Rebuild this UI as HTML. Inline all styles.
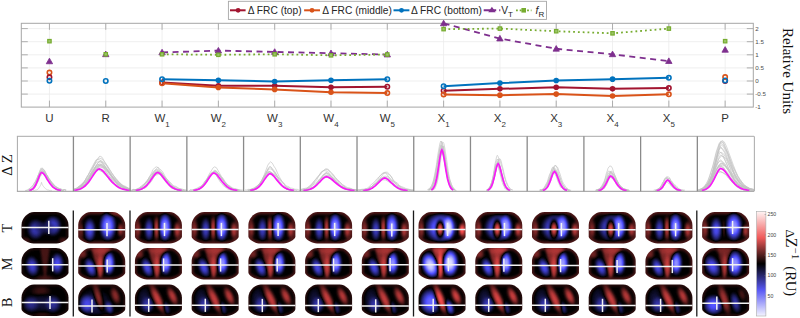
<!DOCTYPE html>
<html><head><meta charset="utf-8"><title>figure</title>
<style>html,body{margin:0;padding:0;background:#fff;overflow:hidden;}svg{display:block;}</style>
</head><body><svg width="800" height="318" viewBox="0 0 800 318"><defs><filter id="cmap" x="-10%" y="-10%" width="120%" height="120%" color-interpolation-filters="sRGB"><feGaussianBlur stdDeviation="1.1"/><feComponentTransfer><feFuncR type="table" tableValues="0.94 0.31 0 1 1"/><feFuncG type="table" tableValues="0.94 0.31 0 0.31 0.94"/><feFuncB type="table" tableValues="1 1 0 0.31 0.94"/></feComponentTransfer></filter><filter id="pbl" x="-30%" y="-30%" width="160%" height="160%"><feGaussianBlur stdDeviation="2.2"/></filter><clipPath id="bclip0"><rect x="16.70" y="136.3" width="56.72" height="55.00"/></clipPath><clipPath id="bclip1"><rect x="73.42" y="136.3" width="56.72" height="55.00"/></clipPath><clipPath id="bclip2"><rect x="130.14" y="136.3" width="56.72" height="55.00"/></clipPath><clipPath id="bclip3"><rect x="186.86" y="136.3" width="56.72" height="55.00"/></clipPath><clipPath id="bclip4"><rect x="243.58" y="136.3" width="56.72" height="55.00"/></clipPath><clipPath id="bclip5"><rect x="300.30" y="136.3" width="56.72" height="55.00"/></clipPath><clipPath id="bclip6"><rect x="357.02" y="136.3" width="56.72" height="55.00"/></clipPath><clipPath id="bclip7"><rect x="413.74" y="136.3" width="56.72" height="55.00"/></clipPath><clipPath id="bclip8"><rect x="470.46" y="136.3" width="56.72" height="55.00"/></clipPath><clipPath id="bclip9"><rect x="527.18" y="136.3" width="56.72" height="55.00"/></clipPath><clipPath id="bclip10"><rect x="583.90" y="136.3" width="56.72" height="55.00"/></clipPath><clipPath id="bclip11"><rect x="640.62" y="136.3" width="56.72" height="55.00"/></clipPath><clipPath id="bclip12"><rect x="697.34" y="136.3" width="56.72" height="55.00"/></clipPath><clipPath id="hc0_0"><path d="M34.00,212.10 L56.00,212.10 C62.25,212.10 68.50,218.60 68.50,225.10 L68.50,236.50 C68.50,239.44 61.54,243.50 56.50,243.50 L33.50,243.50 C28.46,243.50 21.50,239.44 21.50,236.50 L21.50,225.10 C21.50,218.60 27.75,212.10 34.00,212.10 Z"/></clipPath><radialGradient id="rg80"><stop offset="0" stop-color="#505050" stop-opacity="1"/><stop offset="0.35" stop-color="#505050" stop-opacity="0.88"/><stop offset="0.7" stop-color="#505050" stop-opacity="0.45"/><stop offset="1" stop-color="#505050" stop-opacity="0"/></radialGradient><radialGradient id="rg70"><stop offset="0" stop-color="#464646" stop-opacity="1"/><stop offset="0.35" stop-color="#464646" stop-opacity="0.88"/><stop offset="0.7" stop-color="#464646" stop-opacity="0.45"/><stop offset="1" stop-color="#464646" stop-opacity="0"/></radialGradient><radialGradient id="rg105"><stop offset="0" stop-color="#696969" stop-opacity="1"/><stop offset="0.35" stop-color="#696969" stop-opacity="0.88"/><stop offset="0.7" stop-color="#696969" stop-opacity="0.45"/><stop offset="1" stop-color="#696969" stop-opacity="0"/></radialGradient><radialGradient id="rg146"><stop offset="0" stop-color="#929292" stop-opacity="1"/><stop offset="0.35" stop-color="#929292" stop-opacity="0.88"/><stop offset="0.7" stop-color="#929292" stop-opacity="0.45"/><stop offset="1" stop-color="#929292" stop-opacity="0"/></radialGradient><radialGradient id="rg143"><stop offset="0" stop-color="#8f8f8f" stop-opacity="1"/><stop offset="0.35" stop-color="#8f8f8f" stop-opacity="0.88"/><stop offset="0.7" stop-color="#8f8f8f" stop-opacity="0.45"/><stop offset="1" stop-color="#8f8f8f" stop-opacity="0"/></radialGradient><clipPath id="hc1_0"><path d="M90.72,212.10 L112.72,212.10 C118.97,212.10 125.22,218.60 125.22,225.10 L125.22,236.50 C125.22,239.44 118.26,243.50 113.22,243.50 L90.22,243.50 C85.18,243.50 78.22,239.44 78.22,236.50 L78.22,225.10 C78.22,218.60 84.47,212.10 90.72,212.10 Z"/></clipPath><radialGradient id="rg152"><stop offset="0" stop-color="#989898" stop-opacity="1"/><stop offset="0.35" stop-color="#989898" stop-opacity="0.88"/><stop offset="0.7" stop-color="#989898" stop-opacity="0.45"/><stop offset="1" stop-color="#989898" stop-opacity="0"/></radialGradient><radialGradient id="rg67"><stop offset="0" stop-color="#434343" stop-opacity="1"/><stop offset="0.35" stop-color="#434343" stop-opacity="0.88"/><stop offset="0.7" stop-color="#434343" stop-opacity="0.45"/><stop offset="1" stop-color="#434343" stop-opacity="0"/></radialGradient><radialGradient id="rg38"><stop offset="0" stop-color="#262626" stop-opacity="1"/><stop offset="0.35" stop-color="#262626" stop-opacity="0.88"/><stop offset="0.7" stop-color="#262626" stop-opacity="0.45"/><stop offset="1" stop-color="#262626" stop-opacity="0"/></radialGradient><radialGradient id="rg170"><stop offset="0" stop-color="#aaaaaa" stop-opacity="1"/><stop offset="0.35" stop-color="#aaaaaa" stop-opacity="0.88"/><stop offset="0.7" stop-color="#aaaaaa" stop-opacity="0.45"/><stop offset="1" stop-color="#aaaaaa" stop-opacity="0"/></radialGradient><radialGradient id="rg158"><stop offset="0" stop-color="#9e9e9e" stop-opacity="1"/><stop offset="0.35" stop-color="#9e9e9e" stop-opacity="0.88"/><stop offset="0.7" stop-color="#9e9e9e" stop-opacity="0.45"/><stop offset="1" stop-color="#9e9e9e" stop-opacity="0"/></radialGradient><clipPath id="hc2_0"><path d="M147.44,212.10 L169.44,212.10 C175.69,212.10 181.94,218.60 181.94,225.10 L181.94,236.50 C181.94,239.44 174.98,243.50 169.94,243.50 L146.94,243.50 C141.90,243.50 134.94,239.44 134.94,236.50 L134.94,225.10 C134.94,218.60 141.19,212.10 147.44,212.10 Z"/></clipPath><radialGradient id="rg164"><stop offset="0" stop-color="#a4a4a4" stop-opacity="1"/><stop offset="0.35" stop-color="#a4a4a4" stop-opacity="0.88"/><stop offset="0.7" stop-color="#a4a4a4" stop-opacity="0.45"/><stop offset="1" stop-color="#a4a4a4" stop-opacity="0"/></radialGradient><radialGradient id="rg77"><stop offset="0" stop-color="#4d4d4d" stop-opacity="1"/><stop offset="0.35" stop-color="#4d4d4d" stop-opacity="0.88"/><stop offset="0.7" stop-color="#4d4d4d" stop-opacity="0.45"/><stop offset="1" stop-color="#4d4d4d" stop-opacity="0"/></radialGradient><radialGradient id="rg32"><stop offset="0" stop-color="#202020" stop-opacity="1"/><stop offset="0.35" stop-color="#202020" stop-opacity="0.88"/><stop offset="0.7" stop-color="#202020" stop-opacity="0.45"/><stop offset="1" stop-color="#202020" stop-opacity="0"/></radialGradient><radialGradient id="rg180"><stop offset="0" stop-color="#b4b4b4" stop-opacity="1"/><stop offset="0.35" stop-color="#b4b4b4" stop-opacity="0.88"/><stop offset="0.7" stop-color="#b4b4b4" stop-opacity="0.45"/><stop offset="1" stop-color="#b4b4b4" stop-opacity="0"/></radialGradient><radialGradient id="rg176"><stop offset="0" stop-color="#b0b0b0" stop-opacity="1"/><stop offset="0.35" stop-color="#b0b0b0" stop-opacity="0.88"/><stop offset="0.7" stop-color="#b0b0b0" stop-opacity="0.45"/><stop offset="1" stop-color="#b0b0b0" stop-opacity="0"/></radialGradient><clipPath id="hc3_0"><path d="M204.16,212.10 L226.16,212.10 C232.41,212.10 238.66,218.60 238.66,225.10 L238.66,236.50 C238.66,239.44 231.70,243.50 226.66,243.50 L203.66,243.50 C198.62,243.50 191.66,239.44 191.66,236.50 L191.66,225.10 C191.66,218.60 197.91,212.10 204.16,212.10 Z"/></clipPath><clipPath id="hc4_0"><path d="M260.88,212.10 L282.88,212.10 C289.13,212.10 295.38,218.60 295.38,225.10 L295.38,236.50 C295.38,239.44 288.42,243.50 283.38,243.50 L260.38,243.50 C255.34,243.50 248.38,239.44 248.38,236.50 L248.38,225.10 C248.38,218.60 254.63,212.10 260.88,212.10 Z"/></clipPath><clipPath id="hc5_0"><path d="M317.60,212.10 L339.60,212.10 C345.85,212.10 352.10,218.60 352.10,225.10 L352.10,236.50 C352.10,239.44 345.14,243.50 340.10,243.50 L317.10,243.50 C312.06,243.50 305.10,239.44 305.10,236.50 L305.10,225.10 C305.10,218.60 311.35,212.10 317.60,212.10 Z"/></clipPath><clipPath id="hc6_0"><path d="M374.32,212.10 L396.32,212.10 C402.57,212.10 408.82,218.60 408.82,225.10 L408.82,236.50 C408.82,239.44 401.86,243.50 396.82,243.50 L373.82,243.50 C368.78,243.50 361.82,239.44 361.82,236.50 L361.82,225.10 C361.82,218.60 368.07,212.10 374.32,212.10 Z"/></clipPath><clipPath id="hc7_0"><path d="M431.04,212.10 L453.04,212.10 C459.29,212.10 465.54,218.60 465.54,225.10 L465.54,236.50 C465.54,239.44 458.58,243.50 453.54,243.50 L430.54,243.50 C425.50,243.50 418.54,239.44 418.54,236.50 L418.54,225.10 C418.54,218.60 424.79,212.10 431.04,212.10 Z"/></clipPath><radialGradient id="rg0"><stop offset="0" stop-color="#000000" stop-opacity="1"/><stop offset="0.35" stop-color="#000000" stop-opacity="0.88"/><stop offset="0.7" stop-color="#000000" stop-opacity="0.45"/><stop offset="1" stop-color="#000000" stop-opacity="0"/></radialGradient><radialGradient id="rg195"><stop offset="0" stop-color="#c3c3c3" stop-opacity="1"/><stop offset="0.35" stop-color="#c3c3c3" stop-opacity="0.88"/><stop offset="0.7" stop-color="#c3c3c3" stop-opacity="0.45"/><stop offset="1" stop-color="#c3c3c3" stop-opacity="0"/></radialGradient><radialGradient id="rg201"><stop offset="0" stop-color="#c9c9c9" stop-opacity="1"/><stop offset="0.35" stop-color="#c9c9c9" stop-opacity="0.88"/><stop offset="0.7" stop-color="#c9c9c9" stop-opacity="0.45"/><stop offset="1" stop-color="#c9c9c9" stop-opacity="0"/></radialGradient><clipPath id="hc8_0"><path d="M487.76,212.10 L509.76,212.10 C516.01,212.10 522.26,218.60 522.26,225.10 L522.26,236.50 C522.26,239.44 515.30,243.50 510.26,243.50 L487.26,243.50 C482.22,243.50 475.26,239.44 475.26,236.50 L475.26,225.10 C475.26,218.60 481.51,212.10 487.76,212.10 Z"/></clipPath><radialGradient id="rg168"><stop offset="0" stop-color="#a8a8a8" stop-opacity="1"/><stop offset="0.35" stop-color="#a8a8a8" stop-opacity="0.88"/><stop offset="0.7" stop-color="#a8a8a8" stop-opacity="0.45"/><stop offset="1" stop-color="#a8a8a8" stop-opacity="0"/></radialGradient><radialGradient id="rg50"><stop offset="0" stop-color="#323232" stop-opacity="1"/><stop offset="0.35" stop-color="#323232" stop-opacity="0.88"/><stop offset="0.7" stop-color="#323232" stop-opacity="0.45"/><stop offset="1" stop-color="#323232" stop-opacity="0"/></radialGradient><radialGradient id="rg26"><stop offset="0" stop-color="#1a1a1a" stop-opacity="1"/><stop offset="0.35" stop-color="#1a1a1a" stop-opacity="0.88"/><stop offset="0.7" stop-color="#1a1a1a" stop-opacity="0.45"/><stop offset="1" stop-color="#1a1a1a" stop-opacity="0"/></radialGradient><radialGradient id="rg181"><stop offset="0" stop-color="#b5b5b5" stop-opacity="1"/><stop offset="0.35" stop-color="#b5b5b5" stop-opacity="0.88"/><stop offset="0.7" stop-color="#b5b5b5" stop-opacity="0.45"/><stop offset="1" stop-color="#b5b5b5" stop-opacity="0"/></radialGradient><clipPath id="hc9_0"><path d="M544.48,212.10 L566.48,212.10 C572.73,212.10 578.98,218.60 578.98,225.10 L578.98,236.50 C578.98,239.44 572.02,243.50 566.98,243.50 L543.98,243.50 C538.94,243.50 531.98,239.44 531.98,236.50 L531.98,225.10 C531.98,218.60 538.23,212.10 544.48,212.10 Z"/></clipPath><radialGradient id="rg166"><stop offset="0" stop-color="#a6a6a6" stop-opacity="1"/><stop offset="0.35" stop-color="#a6a6a6" stop-opacity="0.88"/><stop offset="0.7" stop-color="#a6a6a6" stop-opacity="0.45"/><stop offset="1" stop-color="#a6a6a6" stop-opacity="0"/></radialGradient><radialGradient id="rg54"><stop offset="0" stop-color="#363636" stop-opacity="1"/><stop offset="0.35" stop-color="#363636" stop-opacity="0.88"/><stop offset="0.7" stop-color="#363636" stop-opacity="0.45"/><stop offset="1" stop-color="#363636" stop-opacity="0"/></radialGradient><radialGradient id="rg30"><stop offset="0" stop-color="#1e1e1e" stop-opacity="1"/><stop offset="0.35" stop-color="#1e1e1e" stop-opacity="0.88"/><stop offset="0.7" stop-color="#1e1e1e" stop-opacity="0.45"/><stop offset="1" stop-color="#1e1e1e" stop-opacity="0"/></radialGradient><radialGradient id="rg192"><stop offset="0" stop-color="#c0c0c0" stop-opacity="1"/><stop offset="0.35" stop-color="#c0c0c0" stop-opacity="0.88"/><stop offset="0.7" stop-color="#c0c0c0" stop-opacity="0.45"/><stop offset="1" stop-color="#c0c0c0" stop-opacity="0"/></radialGradient><radialGradient id="rg179"><stop offset="0" stop-color="#b3b3b3" stop-opacity="1"/><stop offset="0.35" stop-color="#b3b3b3" stop-opacity="0.88"/><stop offset="0.7" stop-color="#b3b3b3" stop-opacity="0.45"/><stop offset="1" stop-color="#b3b3b3" stop-opacity="0"/></radialGradient><clipPath id="hc10_0"><path d="M601.20,212.10 L623.20,212.10 C629.45,212.10 635.70,218.60 635.70,225.10 L635.70,236.50 C635.70,239.44 628.74,243.50 623.70,243.50 L600.70,243.50 C595.66,243.50 588.70,239.44 588.70,236.50 L588.70,225.10 C588.70,218.60 594.95,212.10 601.20,212.10 Z"/></clipPath><radialGradient id="rg57"><stop offset="0" stop-color="#393939" stop-opacity="1"/><stop offset="0.35" stop-color="#393939" stop-opacity="0.88"/><stop offset="0.7" stop-color="#393939" stop-opacity="0.45"/><stop offset="1" stop-color="#393939" stop-opacity="0"/></radialGradient><radialGradient id="rg35"><stop offset="0" stop-color="#232323" stop-opacity="1"/><stop offset="0.35" stop-color="#232323" stop-opacity="0.88"/><stop offset="0.7" stop-color="#232323" stop-opacity="0.45"/><stop offset="1" stop-color="#232323" stop-opacity="0"/></radialGradient><radialGradient id="rg189"><stop offset="0" stop-color="#bdbdbd" stop-opacity="1"/><stop offset="0.35" stop-color="#bdbdbd" stop-opacity="0.88"/><stop offset="0.7" stop-color="#bdbdbd" stop-opacity="0.45"/><stop offset="1" stop-color="#bdbdbd" stop-opacity="0"/></radialGradient><clipPath id="hc11_0"><path d="M657.92,212.10 L679.92,212.10 C686.17,212.10 692.42,218.60 692.42,225.10 L692.42,236.50 C692.42,239.44 685.46,243.50 680.42,243.50 L657.42,243.50 C652.38,243.50 645.42,239.44 645.42,236.50 L645.42,225.10 C645.42,218.60 651.67,212.10 657.92,212.10 Z"/></clipPath><clipPath id="hc12_0"><path d="M714.64,212.10 L736.64,212.10 C742.89,212.10 749.14,218.60 749.14,225.10 L749.14,236.50 C749.14,239.44 742.18,243.50 737.14,243.50 L714.14,243.50 C709.10,243.50 702.14,239.44 702.14,236.50 L702.14,225.10 C702.14,218.60 708.39,212.10 714.64,212.10 Z"/></clipPath><radialGradient id="rg64"><stop offset="0" stop-color="#404040" stop-opacity="1"/><stop offset="0.35" stop-color="#404040" stop-opacity="0.88"/><stop offset="0.7" stop-color="#404040" stop-opacity="0.45"/><stop offset="1" stop-color="#404040" stop-opacity="0"/></radialGradient><radialGradient id="rg173"><stop offset="0" stop-color="#adadad" stop-opacity="1"/><stop offset="0.35" stop-color="#adadad" stop-opacity="0.88"/><stop offset="0.7" stop-color="#adadad" stop-opacity="0.45"/><stop offset="1" stop-color="#adadad" stop-opacity="0"/></radialGradient><clipPath id="hc0_1"><path d="M34.00,248.00 L56.00,248.00 C62.25,248.00 68.50,254.50 68.50,261.00 L68.50,272.40 C68.50,275.34 61.54,279.40 56.50,279.40 L33.50,279.40 C28.46,279.40 21.50,275.34 21.50,272.40 L21.50,261.00 C21.50,254.50 27.75,248.00 34.00,248.00 Z"/></clipPath><radialGradient id="rg73"><stop offset="0" stop-color="#494949" stop-opacity="1"/><stop offset="0.35" stop-color="#494949" stop-opacity="0.88"/><stop offset="0.7" stop-color="#494949" stop-opacity="0.45"/><stop offset="1" stop-color="#494949" stop-opacity="0"/></radialGradient><clipPath id="hc1_1"><path d="M90.72,248.00 L112.72,248.00 C118.97,248.00 125.22,254.50 125.22,261.00 L125.22,272.40 C125.22,275.34 118.26,279.40 113.22,279.40 L90.22,279.40 C85.18,279.40 78.22,275.34 78.22,272.40 L78.22,261.00 C78.22,254.50 84.47,248.00 90.72,248.00 Z"/></clipPath><clipPath id="hc2_1"><path d="M147.44,248.00 L169.44,248.00 C175.69,248.00 181.94,254.50 181.94,261.00 L181.94,272.40 C181.94,275.34 174.98,279.40 169.94,279.40 L146.94,279.40 C141.90,279.40 134.94,275.34 134.94,272.40 L134.94,261.00 C134.94,254.50 141.19,248.00 147.44,248.00 Z"/></clipPath><clipPath id="hc3_1"><path d="M204.16,248.00 L226.16,248.00 C232.41,248.00 238.66,254.50 238.66,261.00 L238.66,272.40 C238.66,275.34 231.70,279.40 226.66,279.40 L203.66,279.40 C198.62,279.40 191.66,275.34 191.66,272.40 L191.66,261.00 C191.66,254.50 197.91,248.00 204.16,248.00 Z"/></clipPath><clipPath id="hc4_1"><path d="M260.88,248.00 L282.88,248.00 C289.13,248.00 295.38,254.50 295.38,261.00 L295.38,272.40 C295.38,275.34 288.42,279.40 283.38,279.40 L260.38,279.40 C255.34,279.40 248.38,275.34 248.38,272.40 L248.38,261.00 C248.38,254.50 254.63,248.00 260.88,248.00 Z"/></clipPath><clipPath id="hc5_1"><path d="M317.60,248.00 L339.60,248.00 C345.85,248.00 352.10,254.50 352.10,261.00 L352.10,272.40 C352.10,275.34 345.14,279.40 340.10,279.40 L317.10,279.40 C312.06,279.40 305.10,275.34 305.10,272.40 L305.10,261.00 C305.10,254.50 311.35,248.00 317.60,248.00 Z"/></clipPath><clipPath id="hc6_1"><path d="M374.32,248.00 L396.32,248.00 C402.57,248.00 408.82,254.50 408.82,261.00 L408.82,272.40 C408.82,275.34 401.86,279.40 396.82,279.40 L373.82,279.40 C368.78,279.40 361.82,275.34 361.82,272.40 L361.82,261.00 C361.82,254.50 368.07,248.00 374.32,248.00 Z"/></clipPath><clipPath id="hc7_1"><path d="M431.04,248.00 L453.04,248.00 C459.29,248.00 465.54,254.50 465.54,261.00 L465.54,272.40 C465.54,275.34 458.58,279.40 453.54,279.40 L430.54,279.40 C425.50,279.40 418.54,275.34 418.54,272.40 L418.54,261.00 C418.54,254.50 424.79,248.00 431.04,248.00 Z"/></clipPath><radialGradient id="rg6"><stop offset="0" stop-color="#060606" stop-opacity="1"/><stop offset="0.35" stop-color="#060606" stop-opacity="0.88"/><stop offset="0.7" stop-color="#060606" stop-opacity="0.45"/><stop offset="1" stop-color="#060606" stop-opacity="0"/></radialGradient><clipPath id="hc8_1"><path d="M487.76,248.00 L509.76,248.00 C516.01,248.00 522.26,254.50 522.26,261.00 L522.26,272.40 C522.26,275.34 515.30,279.40 510.26,279.40 L487.26,279.40 C482.22,279.40 475.26,275.34 475.26,272.40 L475.26,261.00 C475.26,254.50 481.51,248.00 487.76,248.00 Z"/></clipPath><radialGradient id="rg175"><stop offset="0" stop-color="#afafaf" stop-opacity="1"/><stop offset="0.35" stop-color="#afafaf" stop-opacity="0.88"/><stop offset="0.7" stop-color="#afafaf" stop-opacity="0.45"/><stop offset="1" stop-color="#afafaf" stop-opacity="0"/></radialGradient><radialGradient id="rg161"><stop offset="0" stop-color="#a1a1a1" stop-opacity="1"/><stop offset="0.35" stop-color="#a1a1a1" stop-opacity="0.88"/><stop offset="0.7" stop-color="#a1a1a1" stop-opacity="0.45"/><stop offset="1" stop-color="#a1a1a1" stop-opacity="0"/></radialGradient><radialGradient id="rg61"><stop offset="0" stop-color="#3d3d3d" stop-opacity="1"/><stop offset="0.35" stop-color="#3d3d3d" stop-opacity="0.88"/><stop offset="0.7" stop-color="#3d3d3d" stop-opacity="0.45"/><stop offset="1" stop-color="#3d3d3d" stop-opacity="0"/></radialGradient><radialGradient id="rg22"><stop offset="0" stop-color="#161616" stop-opacity="1"/><stop offset="0.35" stop-color="#161616" stop-opacity="0.88"/><stop offset="0.7" stop-color="#161616" stop-opacity="0.45"/><stop offset="1" stop-color="#161616" stop-opacity="0"/></radialGradient><radialGradient id="rg185"><stop offset="0" stop-color="#b9b9b9" stop-opacity="1"/><stop offset="0.35" stop-color="#b9b9b9" stop-opacity="0.88"/><stop offset="0.7" stop-color="#b9b9b9" stop-opacity="0.45"/><stop offset="1" stop-color="#b9b9b9" stop-opacity="0"/></radialGradient><clipPath id="hc9_1"><path d="M544.48,248.00 L566.48,248.00 C572.73,248.00 578.98,254.50 578.98,261.00 L578.98,272.40 C578.98,275.34 572.02,279.40 566.98,279.40 L543.98,279.40 C538.94,279.40 531.98,275.34 531.98,272.40 L531.98,261.00 C531.98,254.50 538.23,248.00 544.48,248.00 Z"/></clipPath><radialGradient id="rg172"><stop offset="0" stop-color="#acacac" stop-opacity="1"/><stop offset="0.35" stop-color="#acacac" stop-opacity="0.88"/><stop offset="0.7" stop-color="#acacac" stop-opacity="0.45"/><stop offset="1" stop-color="#acacac" stop-opacity="0"/></radialGradient><radialGradient id="rg160"><stop offset="0" stop-color="#a0a0a0" stop-opacity="1"/><stop offset="0.35" stop-color="#a0a0a0" stop-opacity="0.88"/><stop offset="0.7" stop-color="#a0a0a0" stop-opacity="0.45"/><stop offset="1" stop-color="#a0a0a0" stop-opacity="0"/></radialGradient><radialGradient id="rg27"><stop offset="0" stop-color="#1b1b1b" stop-opacity="1"/><stop offset="0.35" stop-color="#1b1b1b" stop-opacity="0.88"/><stop offset="0.7" stop-color="#1b1b1b" stop-opacity="0.45"/><stop offset="1" stop-color="#1b1b1b" stop-opacity="0"/></radialGradient><radialGradient id="rg182"><stop offset="0" stop-color="#b6b6b6" stop-opacity="1"/><stop offset="0.35" stop-color="#b6b6b6" stop-opacity="0.88"/><stop offset="0.7" stop-color="#b6b6b6" stop-opacity="0.45"/><stop offset="1" stop-color="#b6b6b6" stop-opacity="0"/></radialGradient><clipPath id="hc10_1"><path d="M601.20,248.00 L623.20,248.00 C629.45,248.00 635.70,254.50 635.70,261.00 L635.70,272.40 C635.70,275.34 628.74,279.40 623.70,279.40 L600.70,279.40 C595.66,279.40 588.70,275.34 588.70,272.40 L588.70,261.00 C588.70,254.50 594.95,248.00 601.20,248.00 Z"/></clipPath><clipPath id="hc11_1"><path d="M657.92,248.00 L679.92,248.00 C686.17,248.00 692.42,254.50 692.42,261.00 L692.42,272.40 C692.42,275.34 685.46,279.40 680.42,279.40 L657.42,279.40 C652.38,279.40 645.42,275.34 645.42,272.40 L645.42,261.00 C645.42,254.50 651.67,248.00 657.92,248.00 Z"/></clipPath><clipPath id="hc12_1"><path d="M714.64,248.00 L736.64,248.00 C742.89,248.00 749.14,254.50 749.14,261.00 L749.14,272.40 C749.14,275.34 742.18,279.40 737.14,279.40 L714.14,279.40 C709.10,279.40 702.14,275.34 702.14,272.40 L702.14,261.00 C702.14,254.50 708.39,248.00 714.64,248.00 Z"/></clipPath><clipPath id="hc0_2"><path d="M34.00,284.50 L56.00,284.50 C62.25,284.50 68.50,291.00 68.50,297.50 L68.50,308.90 C68.50,311.84 61.54,315.90 56.50,315.90 L33.50,315.90 C28.46,315.90 21.50,311.84 21.50,308.90 L21.50,297.50 C21.50,291.00 27.75,284.50 34.00,284.50 Z"/></clipPath><radialGradient id="rg112"><stop offset="0" stop-color="#707070" stop-opacity="1"/><stop offset="0.35" stop-color="#707070" stop-opacity="0.88"/><stop offset="0.7" stop-color="#707070" stop-opacity="0.45"/><stop offset="1" stop-color="#707070" stop-opacity="0"/></radialGradient><radialGradient id="rg92"><stop offset="0" stop-color="#5c5c5c" stop-opacity="1"/><stop offset="0.35" stop-color="#5c5c5c" stop-opacity="0.88"/><stop offset="0.7" stop-color="#5c5c5c" stop-opacity="0.45"/><stop offset="1" stop-color="#5c5c5c" stop-opacity="0"/></radialGradient><radialGradient id="rg89"><stop offset="0" stop-color="#595959" stop-opacity="1"/><stop offset="0.35" stop-color="#595959" stop-opacity="0.88"/><stop offset="0.7" stop-color="#595959" stop-opacity="0.45"/><stop offset="1" stop-color="#595959" stop-opacity="0"/></radialGradient><radialGradient id="rg140"><stop offset="0" stop-color="#8c8c8c" stop-opacity="1"/><stop offset="0.35" stop-color="#8c8c8c" stop-opacity="0.88"/><stop offset="0.7" stop-color="#8c8c8c" stop-opacity="0.45"/><stop offset="1" stop-color="#8c8c8c" stop-opacity="0"/></radialGradient><clipPath id="hc1_2"><path d="M90.72,284.50 L112.72,284.50 C118.97,284.50 125.22,291.00 125.22,297.50 L125.22,308.90 C125.22,311.84 118.26,315.90 113.22,315.90 L90.22,315.90 C85.18,315.90 78.22,311.84 78.22,308.90 L78.22,297.50 C78.22,291.00 84.47,284.50 90.72,284.50 Z"/></clipPath><radialGradient id="rg108"><stop offset="0" stop-color="#6c6c6c" stop-opacity="1"/><stop offset="0.35" stop-color="#6c6c6c" stop-opacity="0.88"/><stop offset="0.7" stop-color="#6c6c6c" stop-opacity="0.45"/><stop offset="1" stop-color="#6c6c6c" stop-opacity="0"/></radialGradient><clipPath id="hc2_2"><path d="M147.44,284.50 L169.44,284.50 C175.69,284.50 181.94,291.00 181.94,297.50 L181.94,308.90 C181.94,311.84 174.98,315.90 169.94,315.90 L146.94,315.90 C141.90,315.90 134.94,311.84 134.94,308.90 L134.94,297.50 C134.94,291.00 141.19,284.50 147.44,284.50 Z"/></clipPath><radialGradient id="rg83"><stop offset="0" stop-color="#535353" stop-opacity="1"/><stop offset="0.35" stop-color="#535353" stop-opacity="0.88"/><stop offset="0.7" stop-color="#535353" stop-opacity="0.45"/><stop offset="1" stop-color="#535353" stop-opacity="0"/></radialGradient><radialGradient id="rg96"><stop offset="0" stop-color="#606060" stop-opacity="1"/><stop offset="0.35" stop-color="#606060" stop-opacity="0.88"/><stop offset="0.7" stop-color="#606060" stop-opacity="0.45"/><stop offset="1" stop-color="#606060" stop-opacity="0"/></radialGradient><clipPath id="hc3_2"><path d="M204.16,284.50 L226.16,284.50 C232.41,284.50 238.66,291.00 238.66,297.50 L238.66,308.90 C238.66,311.84 231.70,315.90 226.66,315.90 L203.66,315.90 C198.62,315.90 191.66,311.84 191.66,308.90 L191.66,297.50 C191.66,291.00 197.91,284.50 204.16,284.50 Z"/></clipPath><clipPath id="hc4_2"><path d="M260.88,284.50 L282.88,284.50 C289.13,284.50 295.38,291.00 295.38,297.50 L295.38,308.90 C295.38,311.84 288.42,315.90 283.38,315.90 L260.38,315.90 C255.34,315.90 248.38,311.84 248.38,308.90 L248.38,297.50 C248.38,291.00 254.63,284.50 260.88,284.50 Z"/></clipPath><clipPath id="hc5_2"><path d="M317.60,284.50 L339.60,284.50 C345.85,284.50 352.10,291.00 352.10,297.50 L352.10,308.90 C352.10,311.84 345.14,315.90 340.10,315.90 L317.10,315.90 C312.06,315.90 305.10,311.84 305.10,308.90 L305.10,297.50 C305.10,291.00 311.35,284.50 317.60,284.50 Z"/></clipPath><clipPath id="hc6_2"><path d="M374.32,284.50 L396.32,284.50 C402.57,284.50 408.82,291.00 408.82,297.50 L408.82,308.90 C408.82,311.84 401.86,315.90 396.82,315.90 L373.82,315.90 C368.78,315.90 361.82,311.84 361.82,308.90 L361.82,297.50 C361.82,291.00 368.07,284.50 374.32,284.50 Z"/></clipPath><clipPath id="hc7_2"><path d="M431.04,284.50 L453.04,284.50 C459.29,284.50 465.54,291.00 465.54,297.50 L465.54,308.90 C465.54,311.84 458.58,315.90 453.54,315.90 L430.54,315.90 C425.50,315.90 418.54,311.84 418.54,308.90 L418.54,297.50 C418.54,291.00 424.79,284.50 431.04,284.50 Z"/></clipPath><radialGradient id="rg51"><stop offset="0" stop-color="#333333" stop-opacity="1"/><stop offset="0.35" stop-color="#333333" stop-opacity="0.88"/><stop offset="0.7" stop-color="#333333" stop-opacity="0.45"/><stop offset="1" stop-color="#333333" stop-opacity="0"/></radialGradient><radialGradient id="rg183"><stop offset="0" stop-color="#b7b7b7" stop-opacity="1"/><stop offset="0.35" stop-color="#b7b7b7" stop-opacity="0.88"/><stop offset="0.7" stop-color="#b7b7b7" stop-opacity="0.45"/><stop offset="1" stop-color="#b7b7b7" stop-opacity="0"/></radialGradient><clipPath id="hc8_2"><path d="M487.76,284.50 L509.76,284.50 C516.01,284.50 522.26,291.00 522.26,297.50 L522.26,308.90 C522.26,311.84 515.30,315.90 510.26,315.90 L487.26,315.90 C482.22,315.90 475.26,311.84 475.26,308.90 L475.26,297.50 C475.26,291.00 481.51,284.50 487.76,284.50 Z"/></clipPath><radialGradient id="rg110"><stop offset="0" stop-color="#6e6e6e" stop-opacity="1"/><stop offset="0.35" stop-color="#6e6e6e" stop-opacity="0.88"/><stop offset="0.7" stop-color="#6e6e6e" stop-opacity="0.45"/><stop offset="1" stop-color="#6e6e6e" stop-opacity="0"/></radialGradient><radialGradient id="rg78"><stop offset="0" stop-color="#4e4e4e" stop-opacity="1"/><stop offset="0.35" stop-color="#4e4e4e" stop-opacity="0.88"/><stop offset="0.7" stop-color="#4e4e4e" stop-opacity="0.45"/><stop offset="1" stop-color="#4e4e4e" stop-opacity="0"/></radialGradient><clipPath id="hc9_2"><path d="M544.48,284.50 L566.48,284.50 C572.73,284.50 578.98,291.00 578.98,297.50 L578.98,308.90 C578.98,311.84 572.02,315.90 566.98,315.90 L543.98,315.90 C538.94,315.90 531.98,311.84 531.98,308.90 L531.98,297.50 C531.98,291.00 538.23,284.50 544.48,284.50 Z"/></clipPath><radialGradient id="rg111"><stop offset="0" stop-color="#6f6f6f" stop-opacity="1"/><stop offset="0.35" stop-color="#6f6f6f" stop-opacity="0.88"/><stop offset="0.7" stop-color="#6f6f6f" stop-opacity="0.45"/><stop offset="1" stop-color="#6f6f6f" stop-opacity="0"/></radialGradient><radialGradient id="rg81"><stop offset="0" stop-color="#515151" stop-opacity="1"/><stop offset="0.35" stop-color="#515151" stop-opacity="0.88"/><stop offset="0.7" stop-color="#515151" stop-opacity="0.45"/><stop offset="1" stop-color="#515151" stop-opacity="0"/></radialGradient><radialGradient id="rg94"><stop offset="0" stop-color="#5e5e5e" stop-opacity="1"/><stop offset="0.35" stop-color="#5e5e5e" stop-opacity="0.88"/><stop offset="0.7" stop-color="#5e5e5e" stop-opacity="0.45"/><stop offset="1" stop-color="#5e5e5e" stop-opacity="0"/></radialGradient><clipPath id="hc10_2"><path d="M601.20,284.50 L623.20,284.50 C629.45,284.50 635.70,291.00 635.70,297.50 L635.70,308.90 C635.70,311.84 628.74,315.90 623.70,315.90 L600.70,315.90 C595.66,315.90 588.70,311.84 588.70,308.90 L588.70,297.50 C588.70,291.00 594.95,284.50 601.20,284.50 Z"/></clipPath><clipPath id="hc11_2"><path d="M657.92,284.50 L679.92,284.50 C686.17,284.50 692.42,291.00 692.42,297.50 L692.42,308.90 C692.42,311.84 685.46,315.90 680.42,315.90 L657.42,315.90 C652.38,315.90 645.42,311.84 645.42,308.90 L645.42,297.50 C645.42,291.00 651.67,284.50 657.92,284.50 Z"/></clipPath><clipPath id="hc12_2"><path d="M714.64,284.50 L736.64,284.50 C742.89,284.50 749.14,291.00 749.14,297.50 L749.14,308.90 C749.14,311.84 742.18,315.90 737.14,315.90 L714.14,315.90 C709.10,315.90 702.14,311.84 702.14,308.90 L702.14,297.50 C702.14,291.00 708.39,284.50 714.64,284.50 Z"/></clipPath><linearGradient id="cbar" x1="0" y1="1" x2="0" y2="0"><stop offset="0" stop-color="#f4f4ff"/><stop offset="0.25" stop-color="#5858f4"/><stop offset="0.5" stop-color="#000000"/><stop offset="0.75" stop-color="#f05a5a"/><stop offset="1" stop-color="#fff4f4"/></linearGradient></defs><rect x="0" y="0" width="800" height="318" fill="#fff"/><line x1="21.3" y1="28.60" x2="753.3" y2="28.60" stroke="#ebebeb" stroke-width="0.8"/><line x1="21.3" y1="41.70" x2="753.3" y2="41.70" stroke="#ebebeb" stroke-width="0.8"/><line x1="21.3" y1="54.80" x2="753.3" y2="54.80" stroke="#ebebeb" stroke-width="0.8"/><line x1="21.3" y1="67.90" x2="753.3" y2="67.90" stroke="#ebebeb" stroke-width="0.8"/><line x1="21.3" y1="81.00" x2="753.3" y2="81.00" stroke="#ebebeb" stroke-width="0.8"/><line x1="21.3" y1="94.10" x2="753.3" y2="94.10" stroke="#ebebeb" stroke-width="0.8"/><line x1="49.45" y1="23.3" x2="49.45" y2="107.1" stroke="#ebebeb" stroke-width="0.8"/><line x1="105.76" y1="23.3" x2="105.76" y2="107.1" stroke="#ebebeb" stroke-width="0.8"/><line x1="162.07" y1="23.3" x2="162.07" y2="107.1" stroke="#ebebeb" stroke-width="0.8"/><line x1="218.38" y1="23.3" x2="218.38" y2="107.1" stroke="#ebebeb" stroke-width="0.8"/><line x1="274.68" y1="23.3" x2="274.68" y2="107.1" stroke="#ebebeb" stroke-width="0.8"/><line x1="330.99" y1="23.3" x2="330.99" y2="107.1" stroke="#ebebeb" stroke-width="0.8"/><line x1="387.30" y1="23.3" x2="387.30" y2="107.1" stroke="#ebebeb" stroke-width="0.8"/><line x1="443.61" y1="23.3" x2="443.61" y2="107.1" stroke="#ebebeb" stroke-width="0.8"/><line x1="499.92" y1="23.3" x2="499.92" y2="107.1" stroke="#ebebeb" stroke-width="0.8"/><line x1="556.22" y1="23.3" x2="556.22" y2="107.1" stroke="#ebebeb" stroke-width="0.8"/><line x1="612.53" y1="23.3" x2="612.53" y2="107.1" stroke="#ebebeb" stroke-width="0.8"/><line x1="668.84" y1="23.3" x2="668.84" y2="107.1" stroke="#ebebeb" stroke-width="0.8"/><line x1="725.15" y1="23.3" x2="725.15" y2="107.1" stroke="#ebebeb" stroke-width="0.8"/><line x1="21.3" y1="28.60" x2="27.8" y2="28.60" stroke="#a6a6a6" stroke-width="0.9"/><line x1="746.8" y1="28.60" x2="753.3" y2="28.60" stroke="#a6a6a6" stroke-width="0.9"/><line x1="21.3" y1="41.70" x2="27.8" y2="41.70" stroke="#a6a6a6" stroke-width="0.9"/><line x1="746.8" y1="41.70" x2="753.3" y2="41.70" stroke="#a6a6a6" stroke-width="0.9"/><line x1="21.3" y1="54.80" x2="27.8" y2="54.80" stroke="#a6a6a6" stroke-width="0.9"/><line x1="746.8" y1="54.80" x2="753.3" y2="54.80" stroke="#a6a6a6" stroke-width="0.9"/><line x1="21.3" y1="67.90" x2="27.8" y2="67.90" stroke="#a6a6a6" stroke-width="0.9"/><line x1="746.8" y1="67.90" x2="753.3" y2="67.90" stroke="#a6a6a6" stroke-width="0.9"/><line x1="21.3" y1="81.00" x2="27.8" y2="81.00" stroke="#a6a6a6" stroke-width="0.9"/><line x1="746.8" y1="81.00" x2="753.3" y2="81.00" stroke="#a6a6a6" stroke-width="0.9"/><line x1="21.3" y1="94.10" x2="27.8" y2="94.10" stroke="#a6a6a6" stroke-width="0.9"/><line x1="746.8" y1="94.10" x2="753.3" y2="94.10" stroke="#a6a6a6" stroke-width="0.9"/><line x1="49.45" y1="107.1" x2="49.45" y2="100.6" stroke="#a6a6a6" stroke-width="0.9"/><line x1="49.45" y1="23.3" x2="49.45" y2="29.8" stroke="#a6a6a6" stroke-width="0.9"/><line x1="105.76" y1="107.1" x2="105.76" y2="100.6" stroke="#a6a6a6" stroke-width="0.9"/><line x1="105.76" y1="23.3" x2="105.76" y2="29.8" stroke="#a6a6a6" stroke-width="0.9"/><line x1="162.07" y1="107.1" x2="162.07" y2="100.6" stroke="#a6a6a6" stroke-width="0.9"/><line x1="162.07" y1="23.3" x2="162.07" y2="29.8" stroke="#a6a6a6" stroke-width="0.9"/><line x1="218.38" y1="107.1" x2="218.38" y2="100.6" stroke="#a6a6a6" stroke-width="0.9"/><line x1="218.38" y1="23.3" x2="218.38" y2="29.8" stroke="#a6a6a6" stroke-width="0.9"/><line x1="274.68" y1="107.1" x2="274.68" y2="100.6" stroke="#a6a6a6" stroke-width="0.9"/><line x1="274.68" y1="23.3" x2="274.68" y2="29.8" stroke="#a6a6a6" stroke-width="0.9"/><line x1="330.99" y1="107.1" x2="330.99" y2="100.6" stroke="#a6a6a6" stroke-width="0.9"/><line x1="330.99" y1="23.3" x2="330.99" y2="29.8" stroke="#a6a6a6" stroke-width="0.9"/><line x1="387.30" y1="107.1" x2="387.30" y2="100.6" stroke="#a6a6a6" stroke-width="0.9"/><line x1="387.30" y1="23.3" x2="387.30" y2="29.8" stroke="#a6a6a6" stroke-width="0.9"/><line x1="443.61" y1="107.1" x2="443.61" y2="100.6" stroke="#a6a6a6" stroke-width="0.9"/><line x1="443.61" y1="23.3" x2="443.61" y2="29.8" stroke="#a6a6a6" stroke-width="0.9"/><line x1="499.92" y1="107.1" x2="499.92" y2="100.6" stroke="#a6a6a6" stroke-width="0.9"/><line x1="499.92" y1="23.3" x2="499.92" y2="29.8" stroke="#a6a6a6" stroke-width="0.9"/><line x1="556.22" y1="107.1" x2="556.22" y2="100.6" stroke="#a6a6a6" stroke-width="0.9"/><line x1="556.22" y1="23.3" x2="556.22" y2="29.8" stroke="#a6a6a6" stroke-width="0.9"/><line x1="612.53" y1="107.1" x2="612.53" y2="100.6" stroke="#a6a6a6" stroke-width="0.9"/><line x1="612.53" y1="23.3" x2="612.53" y2="29.8" stroke="#a6a6a6" stroke-width="0.9"/><line x1="668.84" y1="107.1" x2="668.84" y2="100.6" stroke="#a6a6a6" stroke-width="0.9"/><line x1="668.84" y1="23.3" x2="668.84" y2="29.8" stroke="#a6a6a6" stroke-width="0.9"/><line x1="725.15" y1="107.1" x2="725.15" y2="100.6" stroke="#a6a6a6" stroke-width="0.9"/><line x1="725.15" y1="23.3" x2="725.15" y2="29.8" stroke="#a6a6a6" stroke-width="0.9"/><rect x="21.3" y="23.3" width="732.00" height="83.80" fill="none" stroke="#a6a6a6" stroke-width="1"/><text x="755.3" y="30.70" font-family="Liberation Sans" font-size="6.2" fill="#4d4d4d">2</text><text x="755.3" y="43.80" font-family="Liberation Sans" font-size="6.2" fill="#4d4d4d">1.5</text><text x="755.3" y="56.90" font-family="Liberation Sans" font-size="6.2" fill="#4d4d4d">1</text><text x="755.3" y="70.00" font-family="Liberation Sans" font-size="6.2" fill="#4d4d4d">0.5</text><text x="755.3" y="83.10" font-family="Liberation Sans" font-size="6.2" fill="#4d4d4d">0</text><text x="755.3" y="96.20" font-family="Liberation Sans" font-size="6.2" fill="#4d4d4d">-0.5</text><text x="755.3" y="109.30" font-family="Liberation Sans" font-size="6.2" fill="#4d4d4d">-1</text><text x="49.45" y="122.3" font-family="Liberation Sans" font-size="11.5" fill="#333" text-anchor="middle">U</text><text x="105.76" y="122.3" font-family="Liberation Sans" font-size="11.5" fill="#333" text-anchor="middle">R</text><text x="162.07" y="122.3" font-family="Liberation Sans" font-size="11.5" fill="#333" text-anchor="middle">W<tspan font-size="8" dy="4.2">1</tspan></text><text x="218.38" y="122.3" font-family="Liberation Sans" font-size="11.5" fill="#333" text-anchor="middle">W<tspan font-size="8" dy="4.2">2</tspan></text><text x="274.68" y="122.3" font-family="Liberation Sans" font-size="11.5" fill="#333" text-anchor="middle">W<tspan font-size="8" dy="4.2">3</tspan></text><text x="330.99" y="122.3" font-family="Liberation Sans" font-size="11.5" fill="#333" text-anchor="middle">W<tspan font-size="8" dy="4.2">4</tspan></text><text x="387.30" y="122.3" font-family="Liberation Sans" font-size="11.5" fill="#333" text-anchor="middle">W<tspan font-size="8" dy="4.2">5</tspan></text><text x="443.61" y="122.3" font-family="Liberation Sans" font-size="11.5" fill="#333" text-anchor="middle">X<tspan font-size="8" dy="4.2">1</tspan></text><text x="499.92" y="122.3" font-family="Liberation Sans" font-size="11.5" fill="#333" text-anchor="middle">X<tspan font-size="8" dy="4.2">2</tspan></text><text x="556.22" y="122.3" font-family="Liberation Sans" font-size="11.5" fill="#333" text-anchor="middle">X<tspan font-size="8" dy="4.2">3</tspan></text><text x="612.53" y="122.3" font-family="Liberation Sans" font-size="11.5" fill="#333" text-anchor="middle">X<tspan font-size="8" dy="4.2">4</tspan></text><text x="668.84" y="122.3" font-family="Liberation Sans" font-size="11.5" fill="#333" text-anchor="middle">X<tspan font-size="8" dy="4.2">5</tspan></text><text x="725.15" y="122.3" font-family="Liberation Sans" font-size="11.5" fill="#333" text-anchor="middle">P</text><text transform="translate(783,71) rotate(90)" font-family="Liberation Serif" font-size="15" fill="#111" text-anchor="middle">Relative Units</text><polyline points="162.07,52.44 218.38,50.61 274.68,51.92 330.99,53.23 387.30,54.54" fill="none" stroke="#7E2F8E" stroke-width="1.8" stroke-dasharray="6,4.5"/><polyline points="162.07,54.28 218.38,54.80 274.68,54.28 330.99,55.32 387.30,54.54" fill="none" stroke="#77AC30" stroke-width="1.8" stroke-dasharray="1.8,3"/><polyline points="443.61,23.36 499.92,38.56 556.22,48.77 612.53,54.28 668.84,61.09" fill="none" stroke="#7E2F8E" stroke-width="1.8" stroke-dasharray="6,4.5"/><polyline points="443.61,29.12 499.92,28.60 556.22,31.22 612.53,33.32 668.84,28.60" fill="none" stroke="#77AC30" stroke-width="1.8" stroke-dasharray="1.8,3"/><polyline points="162.07,82.57 218.38,85.72 274.68,85.72 330.99,87.29 387.30,86.76" fill="none" stroke="#A2142F" stroke-width="2.0"/><polyline points="443.61,90.69 499.92,88.86 556.22,87.29 612.53,88.86 668.84,88.07" fill="none" stroke="#A2142F" stroke-width="2.0"/><polyline points="162.07,83.36 218.38,87.55 274.68,89.38 330.99,92.27 387.30,93.05" fill="none" stroke="#D95319" stroke-width="2.0"/><polyline points="443.61,94.62 499.92,95.15 556.22,94.10 612.53,95.93 668.84,94.36" fill="none" stroke="#D95319" stroke-width="2.0"/><polyline points="162.07,79.17 218.38,80.21 274.68,81.52 330.99,80.21 387.30,79.17" fill="none" stroke="#0072BD" stroke-width="2.0"/><polyline points="443.61,86.24 499.92,83.10 556.22,80.48 612.53,79.17 668.84,77.86" fill="none" stroke="#0072BD" stroke-width="2.0"/><circle cx="162.07" cy="82.57" r="2.2" fill="#fff" fill-opacity="0" stroke="#A2142F" stroke-width="1.6"/><circle cx="218.38" cy="85.72" r="2.8" fill="#A2142F"/><circle cx="274.68" cy="85.72" r="2.8" fill="#A2142F"/><circle cx="330.99" cy="87.29" r="2.8" fill="#A2142F"/><circle cx="387.30" cy="86.76" r="2.2" fill="#fff" fill-opacity="0" stroke="#A2142F" stroke-width="1.6"/><circle cx="443.61" cy="90.69" r="2.2" fill="#fff" fill-opacity="0" stroke="#A2142F" stroke-width="1.6"/><circle cx="499.92" cy="88.86" r="2.8" fill="#A2142F"/><circle cx="556.22" cy="87.29" r="2.8" fill="#A2142F"/><circle cx="612.53" cy="88.86" r="2.8" fill="#A2142F"/><circle cx="668.84" cy="88.07" r="2.2" fill="#fff" fill-opacity="0" stroke="#A2142F" stroke-width="1.6"/><circle cx="162.07" cy="83.36" r="2.2" fill="#fff" fill-opacity="0" stroke="#D95319" stroke-width="1.6"/><circle cx="218.38" cy="87.55" r="2.8" fill="#D95319"/><circle cx="274.68" cy="89.38" r="2.8" fill="#D95319"/><circle cx="330.99" cy="92.27" r="2.8" fill="#D95319"/><circle cx="387.30" cy="93.05" r="2.2" fill="#fff" fill-opacity="0" stroke="#D95319" stroke-width="1.6"/><circle cx="443.61" cy="94.62" r="2.2" fill="#fff" fill-opacity="0" stroke="#D95319" stroke-width="1.6"/><circle cx="499.92" cy="95.15" r="2.8" fill="#D95319"/><circle cx="556.22" cy="94.10" r="2.8" fill="#D95319"/><circle cx="612.53" cy="95.93" r="2.8" fill="#D95319"/><circle cx="668.84" cy="94.36" r="2.2" fill="#fff" fill-opacity="0" stroke="#D95319" stroke-width="1.6"/><circle cx="162.07" cy="79.17" r="2.2" fill="#fff" fill-opacity="0" stroke="#0072BD" stroke-width="1.6"/><circle cx="218.38" cy="80.21" r="2.8" fill="#0072BD"/><circle cx="274.68" cy="81.52" r="2.8" fill="#0072BD"/><circle cx="330.99" cy="80.21" r="2.8" fill="#0072BD"/><circle cx="387.30" cy="79.17" r="2.2" fill="#fff" fill-opacity="0" stroke="#0072BD" stroke-width="1.6"/><circle cx="443.61" cy="86.24" r="2.2" fill="#fff" fill-opacity="0" stroke="#0072BD" stroke-width="1.6"/><circle cx="499.92" cy="83.10" r="2.8" fill="#0072BD"/><circle cx="556.22" cy="80.48" r="2.8" fill="#0072BD"/><circle cx="612.53" cy="79.17" r="2.8" fill="#0072BD"/><circle cx="668.84" cy="77.86" r="2.2" fill="#fff" fill-opacity="0" stroke="#0072BD" stroke-width="1.6"/><path d="M162.07,49.24 L165.27,54.84 L158.87,54.84Z" fill="#7E2F8E" stroke="#7E2F8E" stroke-width="0.8"/><path d="M218.38,47.41 L221.58,53.01 L215.18,53.01Z" fill="#7E2F8E" stroke="#7E2F8E" stroke-width="0.8"/><path d="M274.68,48.72 L277.88,54.32 L271.48,54.32Z" fill="#7E2F8E" stroke="#7E2F8E" stroke-width="0.8"/><path d="M330.99,50.03 L334.19,55.63 L327.79,55.63Z" fill="#7E2F8E" stroke="#7E2F8E" stroke-width="0.8"/><path d="M387.30,51.34 L390.50,56.94 L384.10,56.94Z" fill="#7E2F8E" stroke="#7E2F8E" stroke-width="0.8"/><path d="M443.61,20.16 L446.81,25.76 L440.41,25.76Z" fill="#7E2F8E" stroke="#7E2F8E" stroke-width="0.8"/><path d="M499.92,35.36 L503.12,40.96 L496.72,40.96Z" fill="#7E2F8E" stroke="#7E2F8E" stroke-width="0.8"/><path d="M556.22,45.57 L559.42,51.17 L553.02,51.17Z" fill="#7E2F8E" stroke="#7E2F8E" stroke-width="0.8"/><path d="M612.53,51.08 L615.73,56.68 L609.33,56.68Z" fill="#7E2F8E" stroke="#7E2F8E" stroke-width="0.8"/><path d="M668.84,57.89 L672.04,63.49 L665.64,63.49Z" fill="#7E2F8E" stroke="#7E2F8E" stroke-width="0.8"/><rect x="160.37" y="52.58" width="3.4" height="3.4" fill="#9cc46a" stroke="#77AC30" stroke-width="1.2"/><rect x="216.68" y="53.10" width="3.4" height="3.4" fill="#9cc46a" stroke="#77AC30" stroke-width="1.2"/><rect x="272.98" y="52.58" width="3.4" height="3.4" fill="#9cc46a" stroke="#77AC30" stroke-width="1.2"/><rect x="329.29" y="53.62" width="3.4" height="3.4" fill="#9cc46a" stroke="#77AC30" stroke-width="1.2"/><rect x="385.60" y="52.84" width="3.4" height="3.4" fill="#9cc46a" stroke="#77AC30" stroke-width="1.2"/><rect x="441.91" y="27.42" width="3.4" height="3.4" fill="#9cc46a" stroke="#77AC30" stroke-width="1.2"/><rect x="498.22" y="26.90" width="3.4" height="3.4" fill="#9cc46a" stroke="#77AC30" stroke-width="1.2"/><rect x="554.52" y="29.52" width="3.4" height="3.4" fill="#9cc46a" stroke="#77AC30" stroke-width="1.2"/><rect x="610.83" y="31.62" width="3.4" height="3.4" fill="#9cc46a" stroke="#77AC30" stroke-width="1.2"/><rect x="667.14" y="26.90" width="3.4" height="3.4" fill="#9cc46a" stroke="#77AC30" stroke-width="1.2"/><rect x="47.75" y="39.48" width="3.4" height="3.4" fill="#9cc46a" stroke="#77AC30" stroke-width="1.2"/><path d="M49.45,58.15 L52.65,63.75 L46.25,63.75Z" fill="#7E2F8E" stroke="#7E2F8E" stroke-width="0.8"/><circle cx="49.45" cy="72.62" r="2.2" fill="#fff" fill-opacity="0" stroke="#D95319" stroke-width="1.6"/><circle cx="49.45" cy="77.33" r="2.2" fill="#fff" fill-opacity="0" stroke="#A2142F" stroke-width="1.6"/><circle cx="49.45" cy="80.74" r="2.2" fill="#fff" fill-opacity="0" stroke="#0072BD" stroke-width="1.6"/><path d="M105.76,51.08 L108.96,56.68 L102.56,56.68Z" fill="#7E2F8E" stroke="#7E2F8E" stroke-width="0.8"/><rect x="104.06" y="52.58" width="3.4" height="3.4" fill="#9cc46a" stroke="#77AC30" stroke-width="1.2"/><circle cx="105.76" cy="81.00" r="2.2" fill="#fff" fill-opacity="0" stroke="#0072BD" stroke-width="1.6"/><rect x="723.45" y="39.48" width="3.4" height="3.4" fill="#9cc46a" stroke="#77AC30" stroke-width="1.2"/><path d="M725.15,46.62 L728.35,52.22 L721.95,52.22Z" fill="#7E2F8E" stroke="#7E2F8E" stroke-width="0.8"/><circle cx="725.15" cy="81.00" r="2.2" fill="#fff" fill-opacity="0" stroke="#A2142F" stroke-width="1.6"/><circle cx="725.15" cy="77.07" r="2.2" fill="#fff" fill-opacity="0" stroke="#D95319" stroke-width="1.6"/><circle cx="725.15" cy="80.48" r="2.2" fill="#fff" fill-opacity="0" stroke="#0072BD" stroke-width="1.6"/><rect x="228.4" y="1.3" width="318.10" height="18.10" fill="#fff" stroke="#a6a6a6" stroke-width="0.9"/><line x1="230" y1="10.3" x2="245.6" y2="10.3" stroke="#A2142F" stroke-width="2.0"/><circle cx="238.1" cy="10.3" r="2.4" fill="#A2142F"/><line x1="304.1" y1="10.3" x2="320" y2="10.3" stroke="#D95319" stroke-width="2.0"/><circle cx="312" cy="10.3" r="2.4" fill="#D95319"/><line x1="393.5" y1="10.3" x2="409.4" y2="10.3" stroke="#0072BD" stroke-width="2.0"/><circle cx="401.5" cy="10.3" r="2.4" fill="#0072BD"/><line x1="483.7" y1="10.3" x2="500.3" y2="10.3" stroke="#7E2F8E" stroke-width="2.0" stroke-dasharray="12.5,3,4,10"/><path d="M491.9,6.700000000000001 L495.6,12.3 L488.2,12.3Z" fill="#7E2F8E"/><line x1="516" y1="10.3" x2="531.5" y2="10.3" stroke="#77AC30" stroke-width="1.8" stroke-dasharray="1.8,1.9"/><rect x="521.4" y="8.0" width="4.6" height="4.6" fill="#77AC30"/><text x="247.8" y="14.1" font-family="Liberation Sans" font-size="10.2" fill="#262626">Δ FRC (top)</text><text x="322.3" y="14.1" font-family="Liberation Sans" font-size="10.2" fill="#262626">Δ FRC (middle)</text><text x="411" y="14.1" font-family="Liberation Sans" font-size="10.2" fill="#262626">Δ FRC (bottom)</text><text x="501.2" y="14.1" font-family="Liberation Sans" font-size="10.2" fill="#262626">V<tspan font-size="8" dy="2.4">T</tspan></text><text x="535.6" y="14.1" font-family="Liberation Sans" font-size="10.2" fill="#262626"><tspan font-style="italic">f</tspan><tspan font-size="8" dy="2.4">R</tspan></text><g clip-path="url(#bclip0)"><path d="M29.5,190.4 L30.5,190.3 L31.4,189.5 L32.4,189.5 L33.3,189.0 L34.3,188.3 L35.2,186.3 L36.2,185.1 L37.1,183.1 L38.1,181.9 L39.1,179.5 L40.0,176.5 L41.0,175.5 L41.9,173.9 L42.9,172.8 L44.4,173.5 L45.9,174.5 L47.4,176.4 L48.9,179.3 L50.4,181.0 L51.9,183.2 L53.4,185.1 L54.9,186.3 L56.4,187.9 L57.9,188.8 L59.4,189.9 L60.9,189.9 L62.4,190.4 L63.9,190.4" fill="none" stroke="#c2c2c2" stroke-width="0.65"/><path d="M25.0,190.7 L26.1,190.6 L27.2,190.1 L28.4,189.2 L29.5,188.5 L30.7,187.6 L31.8,186.2 L32.9,185.5 L34.1,183.3 L35.2,181.7 L36.4,178.8 L37.5,177.2 L38.7,174.9 L39.8,172.3 L40.9,171.8 L42.7,173.4 L44.5,174.5 L46.3,177.2 L48.1,178.8 L49.9,180.7 L51.7,183.5 L53.5,185.5 L55.3,186.4 L57.1,187.4 L58.9,188.6 L60.7,190.0 L62.5,190.2 L64.3,189.7 L66.1,190.1" fill="none" stroke="#c2c2c2" stroke-width="0.65"/><path d="M30.5,190.4 L31.4,190.1 L32.3,189.5 L33.1,189.6 L34.0,188.2 L34.8,187.9 L35.7,186.0 L36.5,184.7 L37.4,182.5 L38.2,180.3 L39.1,178.7 L39.9,176.0 L40.8,173.1 L41.6,172.0 L42.5,170.4 L43.8,171.5 L45.2,173.7 L46.5,175.8 L47.9,177.6 L49.2,181.2 L50.6,182.5 L51.9,184.5 L53.3,186.7 L54.6,187.5 L55.9,188.4 L57.3,188.8 L58.6,189.3 L60.0,190.3 L61.3,190.1" fill="none" stroke="#c2c2c2" stroke-width="0.65"/><path d="M25.7,190.4 L26.8,190.3 L27.9,190.3 L29.1,189.0 L30.2,188.3 L31.3,188.3 L32.4,186.9 L33.6,184.6 L34.7,182.7 L35.8,181.1 L36.9,178.9 L38.1,175.6 L39.2,174.3 L40.3,172.5 L41.5,171.4 L43.2,171.9 L45.0,173.3 L46.8,175.4 L48.6,179.0 L50.4,180.5 L52.1,183.3 L53.9,184.7 L55.7,186.9 L57.5,187.9 L59.2,188.4 L61.0,189.0 L62.8,190.1 L64.6,189.6 L66.4,190.1" fill="none" stroke="#c2c2c2" stroke-width="0.65"/><path d="M29.5,190.7 L30.4,189.8 L31.3,189.3 L32.2,189.2 L33.1,188.7 L33.9,187.4 L34.8,186.4 L35.7,185.1 L36.6,183.5 L37.5,180.9 L38.4,178.9 L39.3,177.3 L40.2,175.3 L41.1,173.3 L41.9,172.6 L43.3,173.2 L44.7,174.3 L46.2,176.2 L47.6,178.5 L49.0,181.9 L50.4,183.7 L51.8,185.8 L53.2,186.2 L54.6,188.1 L56.0,188.8 L57.4,189.7 L58.8,189.7 L60.2,190.7 L61.6,189.9" fill="none" stroke="#c2c2c2" stroke-width="0.65"/><path d="M28.1,190.6 L29.2,190.5 L30.2,190.4 L31.3,189.2 L32.3,188.9 L33.4,188.3 L34.4,187.0 L35.5,184.9 L36.5,183.5 L37.6,181.4 L38.6,178.6 L39.7,176.3 L40.7,173.8 L41.8,172.4 L42.8,171.6 L44.5,171.8 L46.1,174.1 L47.8,176.7 L49.4,179.0 L51.1,181.2 L52.7,183.0 L54.4,185.3 L56.0,186.7 L57.7,187.7 L59.4,189.1 L61.0,188.9 L62.7,190.2 L64.3,189.6 L66.0,190.5" fill="none" stroke="#c2c2c2" stroke-width="0.65"/><path d="M28.7,190.5 L29.6,190.6 L30.6,189.5 L31.6,188.7 L32.5,188.3 L33.5,187.7 L34.5,185.8 L35.4,184.0 L36.4,182.8 L37.4,180.1 L38.3,177.2 L39.3,175.0 L40.3,171.9 L41.2,170.4 L42.2,169.0 L43.7,170.2 L45.2,172.5 L46.8,175.0 L48.3,177.7 L49.8,179.7 L51.3,182.4 L52.9,184.2 L54.4,185.7 L55.9,187.5 L57.4,188.9 L58.9,189.7 L60.5,190.0 L62.0,190.7 L63.5,190.1" fill="none" stroke="#c2c2c2" stroke-width="0.65"/><path d="M28.8,190.2 L29.7,190.3 L30.5,189.8 L31.4,189.0 L32.3,188.9 L33.1,188.1 L34.0,186.1 L34.9,184.0 L35.7,181.8 L36.6,180.4 L37.5,176.8 L38.3,175.0 L39.2,172.4 L40.1,170.3 L40.9,170.0 L42.3,169.9 L43.7,171.9 L45.0,174.7 L46.4,176.8 L47.8,180.4 L49.1,182.1 L50.5,184.0 L51.9,185.6 L53.2,187.7 L54.6,188.5 L55.9,189.4 L57.3,190.0 L58.7,190.5 L60.0,190.7" fill="none" stroke="#c2c2c2" stroke-width="0.65"/><path d="M29.6,189.7 L30.4,190.0 L31.3,190.0 L32.1,188.8 L33.0,188.1 L33.8,187.1 L34.7,186.0 L35.6,184.0 L36.4,181.8 L37.3,179.4 L38.1,176.1 L39.0,173.7 L39.8,171.3 L40.7,168.3 L41.5,168.4 L42.9,169.0 L44.2,170.3 L45.6,173.3 L46.9,176.4 L48.3,179.6 L49.6,181.5 L50.9,184.0 L52.3,186.2 L53.6,187.6 L55.0,188.9 L56.3,189.1 L57.7,189.9 L59.0,189.7 L60.4,190.6" fill="none" stroke="#c2c2c2" stroke-width="0.65"/><path d="M30.1,190.7 L31.0,190.7 L31.9,190.3 L32.7,189.2 L33.6,188.7 L34.5,187.1 L35.3,186.4 L36.2,184.5 L37.1,181.7 L37.9,178.8 L38.8,176.5 L39.7,173.8 L40.5,171.5 L41.4,169.3 L42.3,167.8 L43.6,169.6 L45.0,170.7 L46.3,174.1 L47.7,176.2 L49.1,179.1 L50.4,182.2 L51.8,183.7 L53.2,185.5 L54.5,187.3 L55.9,188.7 L57.3,189.6 L58.6,189.9 L60.0,190.6 L61.4,190.3" fill="none" stroke="#c2c2c2" stroke-width="0.65"/><path d="M33.0,190.7 L33.6,190.3 L34.2,190.3 L34.8,190.4 L35.4,190.1 L36.0,190.2 L36.6,189.9 L37.2,189.5 L37.9,189.3 L38.5,188.5 L39.1,187.7 L39.7,186.8 L40.3,185.8 L40.9,184.4 L41.5,182.3 L42.2,184.4 L43.0,185.9 L43.8,186.8 L44.5,187.8 L45.2,188.3 L46.0,189.1 L46.8,189.5 L47.5,189.9 L48.2,189.8 L49.0,190.5 L49.8,190.4 L50.5,190.4 L51.2,190.7 L52.0,190.6" fill="none" stroke="#c6c6c6" stroke-width="0.6"/><path d="M29.3,190.4 L30.2,190.2 L31.1,189.9 L31.9,189.5 L32.8,188.8 L33.7,187.9 L34.6,186.8 L35.5,185.3 L36.3,183.5 L37.2,181.4 L38.1,179.2 L39.0,176.9 L39.8,174.8 L40.7,173.2 L41.6,172.5 L43.0,173.2 L44.4,174.8 L45.8,176.9 L47.1,179.2 L48.5,181.4 L49.9,183.5 L51.3,185.3 L52.7,186.8 L54.1,187.9 L55.5,188.8 L56.8,189.5 L58.2,189.9 L59.6,190.2 L61.0,190.4" fill="none" stroke="#f81af8" stroke-width="1.7"/></g><g clip-path="url(#bclip1)"><path d="M70.1,190.2 L72.1,190.7 L74.1,190.3 L76.1,189.0 L78.1,188.5 L80.1,187.1 L82.1,186.1 L84.1,184.9 L86.0,183.0 L88.0,180.1 L90.0,177.3 L92.0,174.5 L94.0,172.6 L96.0,171.2 L98.0,169.4 L100.4,171.0 L102.8,171.9 L105.2,174.5 L107.6,177.2 L110.0,180.3 L112.4,182.3 L114.8,184.4 L117.2,186.4 L119.7,187.1 L122.1,188.8 L124.5,188.8 L126.9,189.8 L129.3,189.8 L131.7,190.0" fill="none" stroke="#c2c2c2" stroke-width="0.65"/><path d="M72.3,190.4 L74.2,189.7 L76.1,189.4 L78.0,189.3 L79.9,188.6 L81.8,187.4 L83.7,186.3 L85.6,184.2 L87.5,182.3 L89.4,179.0 L91.3,176.8 L93.2,174.1 L95.1,171.7 L97.0,169.0 L98.9,168.1 L101.2,169.7 L103.5,170.8 L105.8,174.3 L108.1,177.0 L110.4,178.9 L112.7,181.6 L115.0,184.3 L117.3,185.6 L119.6,186.8 L121.9,188.8 L124.2,189.1 L126.5,190.1 L128.8,189.6 L131.1,190.2" fill="none" stroke="#c2c2c2" stroke-width="0.65"/><path d="M69.1,190.7 L71.2,190.6 L73.3,189.1 L75.4,189.0 L77.5,188.4 L79.6,186.9 L81.6,185.6 L83.7,182.9 L85.8,180.3 L87.9,177.5 L90.0,174.4 L92.1,171.8 L94.2,168.9 L96.3,166.8 L98.4,165.3 L100.9,166.4 L103.5,168.6 L106.0,172.2 L108.5,175.5 L111.1,178.5 L113.6,180.4 L116.1,182.8 L118.6,185.9 L121.2,186.9 L123.7,188.4 L126.2,188.8 L128.8,189.6 L131.3,190.0 L133.8,190.2" fill="none" stroke="#c2c2c2" stroke-width="0.65"/><path d="M69.0,189.9 L71.2,189.9 L73.4,189.9 L75.6,188.9 L77.8,187.7 L80.0,186.5 L82.2,185.3 L84.4,182.6 L86.6,181.2 L88.9,178.1 L91.1,174.9 L93.3,171.9 L95.5,168.7 L97.7,166.2 L99.9,165.4 L102.6,166.3 L105.2,169.1 L107.9,171.8 L110.6,174.3 L113.3,178.3 L115.9,181.0 L118.6,183.5 L121.3,185.6 L123.9,186.8 L126.6,188.6 L129.3,189.4 L131.9,189.8 L134.6,190.3 L137.3,190.6" fill="none" stroke="#c2c2c2" stroke-width="0.65"/><path d="M72.1,190.3 L73.9,189.5 L75.8,189.6 L77.6,189.4 L79.5,188.6 L81.4,187.0 L83.2,186.5 L85.1,184.3 L86.9,181.8 L88.8,179.6 L90.6,176.8 L92.5,174.0 L94.3,171.3 L96.2,170.0 L98.0,168.7 L100.2,169.7 L102.5,171.7 L104.7,174.5 L107.0,176.1 L109.2,179.6 L111.4,182.3 L113.7,183.9 L115.9,185.8 L118.1,186.8 L120.4,188.1 L122.6,189.0 L124.8,189.2 L127.1,189.8 L129.3,190.7" fill="none" stroke="#c2c2c2" stroke-width="0.65"/><path d="M72.5,190.7 L74.5,190.2 L76.5,190.0 L78.6,188.6 L80.6,188.3 L82.6,187.4 L84.6,185.0 L86.6,184.1 L88.6,180.8 L90.6,178.5 L92.7,175.1 L94.7,172.5 L96.7,169.9 L98.7,167.2 L100.7,167.3 L103.1,167.6 L105.6,169.8 L108.0,172.6 L110.4,175.4 L112.9,178.3 L115.3,181.4 L117.7,183.7 L120.2,185.3 L122.6,187.3 L125.0,188.0 L127.4,188.5 L129.9,189.3 L132.3,189.5 L134.7,189.9" fill="none" stroke="#c2c2c2" stroke-width="0.65"/><path d="M70.5,189.7 L72.7,190.6 L74.8,190.1 L76.9,188.5 L79.1,188.6 L81.2,186.8 L83.4,185.2 L85.5,183.7 L87.6,180.3 L89.8,177.8 L91.9,175.1 L94.1,171.7 L96.2,168.5 L98.4,166.8 L100.5,165.6 L103.1,166.4 L105.7,168.0 L108.3,171.5 L110.8,174.5 L113.4,177.4 L116.0,180.1 L118.6,183.2 L121.2,184.8 L123.8,186.8 L126.4,188.3 L129.0,188.9 L131.5,189.3 L134.1,190.1 L136.7,190.2" fill="none" stroke="#c2c2c2" stroke-width="0.65"/><path d="M68.8,190.6 L71.1,189.7 L73.3,189.1 L75.6,189.4 L77.9,188.4 L80.2,187.0 L82.5,185.0 L84.8,182.9 L87.1,180.8 L89.4,177.8 L91.6,174.6 L93.9,171.5 L96.2,168.7 L98.5,165.8 L100.8,164.9 L103.6,166.7 L106.3,168.9 L109.1,171.8 L111.8,174.0 L114.6,177.2 L117.4,180.3 L120.1,183.0 L122.9,185.4 L125.7,186.4 L128.4,188.1 L131.2,188.4 L134.0,189.1 L136.7,190.2 L139.5,190.3" fill="none" stroke="#c2c2c2" stroke-width="0.65"/><path d="M74.6,190.1 L76.4,190.3 L78.1,189.9 L79.9,188.3 L81.7,187.4 L83.4,187.0 L85.2,185.0 L86.9,183.0 L88.7,179.7 L90.4,176.8 L92.2,173.2 L94.0,170.5 L95.7,166.9 L97.5,164.8 L99.2,164.2 L101.4,164.4 L103.5,167.1 L105.6,170.4 L107.7,174.0 L109.9,176.8 L112.0,179.8 L114.1,182.2 L116.2,185.3 L118.3,186.1 L120.5,187.4 L122.6,188.9 L124.7,189.5 L126.8,190.2 L129.0,190.0" fill="none" stroke="#c2c2c2" stroke-width="0.65"/><path d="M69.3,189.7 L71.4,189.6 L73.5,189.7 L75.6,188.9 L77.6,187.4 L79.7,185.8 L81.8,184.1 L83.9,182.2 L86.0,178.8 L88.0,175.1 L90.1,172.1 L92.2,168.2 L94.3,165.2 L96.4,162.6 L98.4,161.4 L101.0,162.0 L103.5,165.1 L106.0,167.9 L108.5,171.6 L111.0,175.4 L113.5,179.5 L116.0,182.4 L118.5,184.0 L121.1,186.0 L123.6,187.5 L126.1,188.5 L128.6,189.3 L131.1,189.7 L133.6,189.8" fill="none" stroke="#c2c2c2" stroke-width="0.65"/><path d="M68.6,190.3 L70.8,189.6 L73.0,189.8 L75.2,189.3 L77.4,187.7 L79.6,186.1 L81.8,185.0 L84.0,182.8 L86.2,180.2 L88.4,177.6 L90.6,173.9 L92.8,170.7 L95.0,166.8 L97.2,165.0 L99.4,164.2 L102.1,164.4 L104.7,166.8 L107.4,170.6 L110.1,174.2 L112.7,176.6 L115.4,180.3 L118.1,182.3 L120.7,185.2 L123.4,186.8 L126.1,187.6 L128.7,188.5 L131.4,189.8 L134.0,190.0 L136.7,190.6" fill="none" stroke="#c2c2c2" stroke-width="0.65"/><path d="M71.5,190.2 L73.6,189.9 L75.7,189.6 L77.7,188.9 L79.8,188.1 L81.9,186.0 L84.0,184.6 L86.1,182.0 L88.2,179.2 L90.3,175.7 L92.4,172.0 L94.4,168.3 L96.5,165.0 L98.6,162.0 L100.7,160.6 L103.2,162.0 L105.7,164.8 L108.3,167.8 L110.8,171.5 L113.3,175.0 L115.8,179.1 L118.4,182.4 L120.9,184.1 L123.4,185.8 L125.9,187.2 L128.4,188.6 L131.0,189.1 L133.5,190.4 L136.0,189.7" fill="none" stroke="#c2c2c2" stroke-width="0.65"/><path d="M69.5,189.8 L71.6,189.3 L73.8,189.2 L76.0,188.6 L78.1,187.9 L80.3,185.3 L82.5,183.3 L84.6,180.8 L86.8,177.6 L88.9,173.9 L91.1,170.5 L93.3,166.3 L95.4,162.2 L97.6,159.3 L99.7,158.1 L102.4,159.3 L105.0,162.8 L107.6,166.0 L110.2,170.3 L112.8,174.6 L115.4,177.9 L118.0,180.8 L120.6,184.2 L123.2,186.3 L125.9,187.2 L128.5,188.6 L131.1,189.8 L133.7,189.8 L136.3,189.8" fill="none" stroke="#c2c2c2" stroke-width="0.65"/><path d="M73.9,190.3 L75.7,189.9 L77.6,189.2 L79.5,189.3 L81.4,187.9 L83.3,186.0 L85.1,183.9 L87.0,182.1 L88.9,179.1 L90.8,176.4 L92.7,172.7 L94.6,168.9 L96.4,165.1 L98.3,162.6 L100.2,161.6 L102.5,162.7 L104.8,165.9 L107.0,168.8 L109.3,172.6 L111.6,176.6 L113.8,179.0 L116.1,182.2 L118.4,184.1 L120.7,186.7 L122.9,187.1 L125.2,189.1 L127.5,189.8 L129.8,190.3 L132.0,189.7" fill="none" stroke="#c2c2c2" stroke-width="0.65"/><path d="M70.8,190.1 L72.7,190.4 L74.7,189.4 L76.6,189.0 L78.6,187.2 L80.5,186.3 L82.5,183.8 L84.4,181.8 L86.4,177.7 L88.3,175.0 L90.3,170.3 L92.2,166.8 L94.2,163.1 L96.1,159.9 L98.1,159.5 L100.4,160.1 L102.8,162.9 L105.2,166.2 L107.5,170.4 L109.9,174.6 L112.2,178.5 L114.6,181.2 L116.9,184.1 L119.3,185.4 L121.6,187.3 L124.0,188.5 L126.4,189.9 L128.7,190.2 L131.1,190.4" fill="none" stroke="#c2c2c2" stroke-width="0.65"/><path d="M75.1,190.2 L76.8,189.7 L78.6,188.6 L80.4,188.9 L82.2,187.5 L83.9,185.2 L85.7,183.5 L87.5,180.3 L89.3,177.0 L91.0,173.3 L92.8,168.7 L94.6,164.4 L96.4,160.6 L98.2,157.9 L99.9,156.0 L102.1,157.3 L104.2,161.0 L106.4,164.4 L108.5,169.5 L110.7,173.3 L112.8,177.4 L115.0,180.3 L117.1,183.7 L119.2,185.0 L121.4,186.7 L123.5,187.9 L125.7,189.4 L127.8,190.0 L130.0,189.7" fill="none" stroke="#c2c2c2" stroke-width="0.65"/><path d="M74.3,190.3 L76.1,190.1 L77.9,189.7 L79.7,189.2 L81.4,188.5 L83.2,187.4 L85.0,186.0 L86.8,184.2 L88.6,182.1 L90.4,179.6 L92.2,176.9 L93.9,174.2 L95.7,171.7 L97.5,169.8 L99.3,168.9 L101.5,169.8 L103.6,171.7 L105.8,174.2 L107.9,176.9 L110.1,179.6 L112.2,182.1 L114.4,184.2 L116.6,186.0 L118.7,187.4 L120.9,188.5 L123.0,189.2 L125.2,189.7 L127.3,190.1 L129.5,190.3" fill="none" stroke="#f81af8" stroke-width="1.7"/></g><g clip-path="url(#bclip2)"><path d="M137.5,190.1 L138.9,189.8 L140.4,189.5 L141.9,189.4 L143.3,188.4 L144.8,188.6 L146.3,186.9 L147.7,185.7 L149.2,184.1 L150.7,182.3 L152.1,180.3 L153.6,177.6 L155.0,175.6 L156.5,174.2 L158.0,173.0 L159.6,174.2 L161.2,176.0 L162.8,178.3 L164.4,180.2 L166.0,182.2 L167.6,184.1 L169.2,185.1 L170.8,186.8 L172.4,187.9 L174.0,189.1 L175.6,189.1 L177.2,189.8 L178.8,190.2 L180.3,190.7" fill="none" stroke="#c2c2c2" stroke-width="0.65"/><path d="M130.3,190.7 L132.1,190.3 L134.0,189.7 L135.9,189.5 L137.8,188.4 L139.7,188.2 L141.6,187.4 L143.5,185.3 L145.4,183.8 L147.2,181.9 L149.1,178.9 L151.0,177.5 L152.9,175.0 L154.8,172.9 L156.7,172.1 L158.7,173.0 L160.8,175.0 L162.9,177.2 L164.9,179.0 L167.0,182.0 L169.0,183.4 L171.1,185.3 L173.2,186.4 L175.2,188.5 L177.3,188.4 L179.3,189.9 L181.4,190.0 L183.5,190.3 L185.5,190.5" fill="none" stroke="#c2c2c2" stroke-width="0.65"/><path d="M132.3,190.5 L134.2,189.8 L136.1,190.3 L138.1,189.3 L140.0,189.4 L141.9,187.8 L143.8,187.1 L145.7,186.0 L147.7,183.5 L149.6,182.0 L151.5,179.3 L153.4,177.0 L155.3,175.2 L157.3,174.7 L159.2,173.9 L161.3,174.3 L163.4,175.4 L165.5,177.8 L167.6,180.0 L169.6,181.8 L171.7,184.0 L173.8,185.9 L175.9,186.4 L178.0,187.7 L180.1,188.9 L182.2,189.1 L184.3,189.8 L186.4,190.3 L188.5,190.0" fill="none" stroke="#c2c2c2" stroke-width="0.65"/><path d="M135.3,190.5 L136.9,189.6 L138.5,190.0 L140.1,188.9 L141.7,189.2 L143.4,187.8 L145.0,186.4 L146.6,184.7 L148.2,183.0 L149.8,180.8 L151.4,178.4 L153.1,175.9 L154.7,173.3 L156.3,172.1 L157.9,171.1 L159.7,172.0 L161.4,173.2 L163.2,175.5 L165.0,178.1 L166.7,181.0 L168.5,182.9 L170.2,184.8 L172.0,186.3 L173.8,188.2 L175.5,188.4 L177.3,188.8 L179.1,190.1 L180.8,190.6 L182.6,190.6" fill="none" stroke="#c2c2c2" stroke-width="0.65"/><path d="M132.2,189.9 L134.0,189.7 L135.8,189.8 L137.5,189.4 L139.3,188.6 L141.1,187.3 L142.9,186.9 L144.7,185.1 L146.4,182.9 L148.2,180.9 L150.0,178.6 L151.8,176.1 L153.6,173.7 L155.3,173.1 L157.1,172.4 L159.1,172.8 L161.0,174.7 L162.9,176.3 L164.9,179.1 L166.8,180.8 L168.8,183.5 L170.7,185.2 L172.6,187.1 L174.6,187.4 L176.5,189.1 L178.5,189.0 L180.4,189.9 L182.4,190.7 L184.3,189.8" fill="none" stroke="#c2c2c2" stroke-width="0.65"/><path d="M136.9,190.7 L138.4,190.5 L139.8,189.7 L141.3,189.1 L142.7,188.7 L144.2,187.0 L145.6,185.7 L147.0,185.0 L148.5,182.3 L149.9,180.1 L151.4,178.1 L152.8,175.5 L154.3,172.5 L155.7,170.4 L157.2,169.7 L158.8,171.3 L160.3,173.0 L161.9,174.6 L163.5,178.0 L165.1,180.0 L166.6,182.5 L168.2,184.2 L169.8,186.7 L171.4,188.2 L173.0,188.2 L174.5,189.4 L176.1,189.4 L177.7,190.6 L179.3,189.8" fill="none" stroke="#c2c2c2" stroke-width="0.65"/><path d="M129.5,190.7 L131.5,190.4 L133.5,189.4 L135.5,189.6 L137.4,189.2 L139.4,187.6 L141.4,185.9 L143.3,184.5 L145.3,182.6 L147.3,180.8 L149.3,177.7 L151.2,175.2 L153.2,173.0 L155.2,171.8 L157.1,171.1 L159.3,171.4 L161.4,173.5 L163.6,176.1 L165.7,178.2 L167.9,180.2 L170.0,182.6 L172.2,185.3 L174.3,186.6 L176.5,187.4 L178.7,188.8 L180.8,188.8 L183.0,190.4 L185.1,190.1 L187.3,190.4" fill="none" stroke="#c2c2c2" stroke-width="0.65"/><path d="M135.8,190.0 L137.4,190.4 L139.0,189.2 L140.6,188.9 L142.1,188.6 L143.7,186.9 L145.3,185.4 L146.9,183.9 L148.5,181.1 L150.1,179.3 L151.7,176.6 L153.2,172.5 L154.8,170.4 L156.4,168.7 L158.0,167.3 L159.7,168.9 L161.5,170.4 L163.2,172.7 L164.9,176.0 L166.7,179.0 L168.4,181.4 L170.1,184.0 L171.8,186.0 L173.6,187.2 L175.3,188.3 L177.0,189.5 L178.8,189.9 L180.5,190.1 L182.2,190.7" fill="none" stroke="#c2c2c2" stroke-width="0.65"/><path d="M131.7,190.0 L133.4,190.0 L135.2,190.1 L137.0,189.6 L138.8,188.9 L140.6,187.2 L142.4,186.1 L144.2,184.1 L146.0,182.4 L147.8,179.9 L149.5,176.7 L151.3,174.7 L153.1,172.4 L154.9,170.3 L156.7,169.8 L158.6,169.9 L160.6,171.7 L162.6,174.0 L164.5,177.2 L166.5,179.8 L168.4,182.2 L170.4,184.1 L172.3,186.5 L174.3,187.0 L176.2,189.0 L178.2,189.3 L180.1,189.8 L182.1,190.5 L184.0,190.0" fill="none" stroke="#c2c2c2" stroke-width="0.65"/><path d="M133.9,190.4 L135.5,190.1 L137.1,189.4 L138.7,189.2 L140.3,187.8 L141.9,187.5 L143.5,185.2 L145.1,183.4 L146.7,180.9 L148.3,178.9 L149.9,176.1 L151.5,173.0 L153.1,169.5 L154.7,167.8 L156.3,166.8 L158.1,167.6 L159.8,170.5 L161.6,172.1 L163.3,175.7 L165.1,178.9 L166.8,181.9 L168.6,183.2 L170.3,185.5 L172.1,187.4 L173.8,187.7 L175.6,188.8 L177.3,190.1 L179.1,189.6 L180.8,190.2" fill="none" stroke="#c2c2c2" stroke-width="0.65"/><path d="M135.8,190.4 L137.4,190.2 L138.9,189.9 L140.5,189.5 L142.1,188.8 L143.6,187.9 L145.2,186.8 L146.8,185.3 L148.3,183.5 L149.9,181.4 L151.4,179.2 L153.0,176.9 L154.6,174.8 L156.1,173.2 L157.7,172.5 L159.4,173.2 L161.1,174.8 L162.8,176.9 L164.5,179.2 L166.2,181.4 L167.9,183.5 L169.6,185.3 L171.4,186.8 L173.1,187.9 L174.8,188.8 L176.5,189.5 L178.2,189.9 L179.9,190.2 L181.6,190.4" fill="none" stroke="#f81af8" stroke-width="1.7"/></g><g clip-path="url(#bclip3)"><path d="M193.9,190.7 L195.2,190.5 L196.6,190.2 L197.9,189.1 L199.3,188.6 L200.6,188.0 L201.9,186.5 L203.3,185.3 L204.6,184.1 L205.9,181.4 L207.3,179.1 L208.6,177.7 L210.0,175.2 L211.3,172.9 L212.6,172.6 L214.2,173.6 L215.7,174.5 L217.2,176.9 L218.8,179.6 L220.3,182.0 L221.8,183.7 L223.4,185.8 L224.9,186.8 L226.4,187.9 L228.0,189.3 L229.5,189.3 L231.0,190.2 L232.6,189.9 L234.1,190.2" fill="none" stroke="#c2c2c2" stroke-width="0.65"/><path d="M192.8,190.1 L194.2,190.2 L195.6,189.7 L197.1,189.4 L198.5,189.5 L200.0,188.2 L201.4,187.3 L202.8,185.1 L204.3,183.6 L205.7,181.2 L207.1,179.7 L208.6,177.1 L210.0,174.9 L211.5,173.1 L212.9,172.6 L214.5,173.4 L216.2,175.1 L217.8,177.8 L219.5,179.7 L221.1,181.4 L222.8,183.5 L224.4,185.0 L226.1,187.4 L227.7,187.9 L229.4,189.2 L231.0,189.8 L232.7,190.4 L234.3,189.6 L236.0,190.2" fill="none" stroke="#c2c2c2" stroke-width="0.65"/><path d="M193.9,190.7 L195.4,190.2 L196.9,189.3 L198.5,189.2 L200.0,188.4 L201.5,187.2 L203.0,186.0 L204.5,185.0 L206.0,182.4 L207.5,180.4 L209.0,178.1 L210.5,175.8 L212.0,173.1 L213.5,172.0 L215.0,170.7 L216.8,172.0 L218.5,173.7 L220.2,175.3 L222.0,177.9 L223.7,180.4 L225.4,183.2 L227.2,184.7 L228.9,186.3 L230.6,188.2 L232.3,188.3 L234.1,189.1 L235.8,189.6 L237.5,189.8 L239.3,189.8" fill="none" stroke="#c2c2c2" stroke-width="0.65"/><path d="M189.0,190.7 L190.8,190.0 L192.6,190.1 L194.4,190.0 L196.2,188.5 L198.0,188.2 L199.8,187.0 L201.6,185.8 L203.3,183.9 L205.1,181.1 L206.9,179.3 L208.7,176.3 L210.5,174.7 L212.3,173.0 L214.1,171.9 L216.2,173.0 L218.2,174.5 L220.3,176.8 L222.3,178.9 L224.4,181.0 L226.4,183.4 L228.5,185.3 L230.5,186.4 L232.6,188.1 L234.6,188.5 L236.7,189.0 L238.7,189.7 L240.8,190.1 L242.9,190.0" fill="none" stroke="#c2c2c2" stroke-width="0.65"/><path d="M189.9,189.8 L191.6,190.0 L193.3,189.7 L195.1,188.9 L196.8,188.6 L198.5,187.3 L200.2,186.6 L202.0,185.2 L203.7,183.1 L205.4,180.8 L207.1,178.3 L208.9,175.7 L210.6,173.9 L212.3,172.9 L214.1,171.7 L216.0,172.1 L218.0,174.3 L220.0,175.9 L222.0,178.6 L224.0,181.1 L225.9,183.7 L227.9,184.9 L229.9,186.7 L231.9,188.4 L233.9,189.1 L235.8,189.6 L237.8,190.0 L239.8,190.1 L241.8,190.3" fill="none" stroke="#c2c2c2" stroke-width="0.65"/><path d="M193.5,190.7 L195.0,189.6 L196.5,189.4 L198.1,189.4 L199.6,188.5 L201.2,187.6 L202.7,187.1 L204.2,184.6 L205.8,182.8 L207.3,180.6 L208.9,178.8 L210.4,175.8 L212.0,173.3 L213.5,172.3 L215.0,171.4 L216.8,172.0 L218.6,173.9 L220.3,176.3 L222.1,178.6 L223.9,181.1 L225.6,183.2 L227.4,185.4 L229.2,187.1 L230.9,187.6 L232.7,188.5 L234.5,189.9 L236.2,189.6 L238.0,190.4 L239.8,190.6" fill="none" stroke="#c2c2c2" stroke-width="0.65"/><path d="M195.1,190.5 L196.5,190.1 L197.9,189.9 L199.3,189.2 L200.8,188.4 L202.2,188.0 L203.6,186.4 L205.0,184.5 L206.4,182.5 L207.8,180.3 L209.2,177.6 L210.6,175.5 L212.1,172.8 L213.5,170.9 L214.9,170.2 L216.5,171.0 L218.1,173.5 L219.7,175.0 L221.3,178.0 L223.0,180.8 L224.6,182.8 L226.2,184.4 L227.8,186.8 L229.4,188.1 L231.1,188.1 L232.7,189.0 L234.3,189.8 L235.9,190.5 L237.5,190.2" fill="none" stroke="#c2c2c2" stroke-width="0.65"/><path d="M193.4,190.1 L194.9,190.4 L196.4,190.1 L197.9,189.5 L199.5,188.4 L201.0,187.1 L202.5,185.9 L204.0,183.9 L205.5,181.9 L207.0,179.2 L208.5,175.4 L210.0,172.8 L211.5,170.5 L213.0,167.9 L214.5,166.9 L216.3,167.6 L218.0,170.4 L219.7,173.5 L221.5,176.5 L223.2,178.4 L224.9,181.7 L226.7,183.7 L228.4,185.8 L230.1,187.0 L231.8,188.8 L233.6,189.7 L235.3,189.1 L237.0,190.3 L238.8,189.9" fill="none" stroke="#c2c2c2" stroke-width="0.65"/><path d="M193.4,190.4 L194.9,190.2 L196.3,189.9 L197.8,189.5 L199.3,188.9 L200.7,188.0 L202.2,186.9 L203.7,185.5 L205.1,183.7 L206.6,181.7 L208.0,179.5 L209.5,177.3 L211.0,175.2 L212.4,173.7 L213.9,173.0 L215.6,173.7 L217.3,175.2 L218.9,177.3 L220.6,179.5 L222.3,181.7 L224.0,183.7 L225.7,185.5 L227.3,186.9 L229.0,188.0 L230.7,188.9 L232.4,189.5 L234.0,189.9 L235.7,190.2 L237.4,190.4" fill="none" stroke="#f81af8" stroke-width="1.7"/></g><g clip-path="url(#bclip4)"><path d="M245.0,189.9 L246.8,190.0 L248.7,189.3 L250.5,189.5 L252.3,188.8 L254.2,187.8 L256.0,186.6 L257.8,185.7 L259.7,184.0 L261.5,181.2 L263.4,179.1 L265.2,177.1 L267.0,175.2 L268.9,173.9 L270.7,172.5 L272.9,173.6 L275.1,175.0 L277.3,177.3 L279.5,178.8 L281.7,181.1 L283.9,183.1 L286.1,185.9 L288.3,186.5 L290.5,188.0 L292.8,188.4 L295.0,189.3 L297.2,189.3 L299.4,190.3 L301.6,190.0" fill="none" stroke="#c2c2c2" stroke-width="0.65"/><path d="M247.5,190.2 L249.1,189.9 L250.6,189.3 L252.2,188.9 L253.7,189.2 L255.3,187.6 L256.8,186.2 L258.4,184.8 L259.9,183.3 L261.5,181.8 L263.0,178.5 L264.5,176.9 L266.1,174.3 L267.6,172.6 L269.2,172.3 L271.0,172.6 L272.9,173.8 L274.8,176.5 L276.6,179.0 L278.5,181.3 L280.3,183.0 L282.2,185.7 L284.0,187.1 L285.9,188.5 L287.8,188.7 L289.6,189.8 L291.5,190.1 L293.3,189.8 L295.2,189.8" fill="none" stroke="#c2c2c2" stroke-width="0.65"/><path d="M248.1,190.7 L249.5,189.9 L251.0,189.8 L252.5,188.8 L254.0,188.3 L255.4,188.3 L256.9,185.9 L258.4,184.9 L259.9,183.2 L261.3,181.0 L262.8,178.4 L264.3,175.5 L265.8,173.8 L267.2,172.0 L268.7,171.2 L270.5,172.2 L272.3,172.9 L274.0,176.2 L275.8,178.0 L277.6,180.9 L279.4,182.6 L281.1,185.3 L282.9,185.9 L284.7,187.8 L286.5,188.3 L288.2,189.2 L290.0,189.7 L291.8,190.3 L293.6,190.7" fill="none" stroke="#c2c2c2" stroke-width="0.65"/><path d="M249.5,190.7 L251.0,190.0 L252.4,189.4 L253.8,189.2 L255.3,189.1 L256.7,187.6 L258.1,187.0 L259.5,185.3 L261.0,183.6 L262.4,180.9 L263.8,178.5 L265.3,176.2 L266.7,174.4 L268.1,172.8 L269.6,171.6 L271.3,172.9 L273.0,174.4 L274.7,176.4 L276.4,179.0 L278.2,181.8 L279.9,183.0 L281.6,185.7 L283.3,186.5 L285.0,188.2 L286.8,188.3 L288.5,190.0 L290.2,189.8 L291.9,190.7 L293.6,190.1" fill="none" stroke="#c2c2c2" stroke-width="0.65"/><path d="M249.0,190.6 L250.5,190.7 L251.9,189.6 L253.3,189.0 L254.8,188.5 L256.2,188.4 L257.6,186.1 L259.0,185.1 L260.5,182.9 L261.9,181.0 L263.3,178.1 L264.8,176.1 L266.2,174.2 L267.6,172.5 L269.0,171.5 L270.7,172.1 L272.5,173.9 L274.2,175.5 L275.9,178.8 L277.6,181.1 L279.3,183.0 L281.0,185.2 L282.8,186.4 L284.5,187.6 L286.2,188.4 L287.9,189.5 L289.6,189.9 L291.3,190.2 L293.1,189.8" fill="none" stroke="#c2c2c2" stroke-width="0.65"/><path d="M247.8,190.7 L249.4,189.7 L251.0,189.7 L252.6,189.8 L254.2,188.7 L255.8,187.1 L257.4,186.2 L259.0,184.7 L260.6,181.8 L262.2,179.8 L263.8,176.2 L265.5,174.4 L267.1,171.3 L268.7,169.0 L270.3,168.9 L272.2,169.5 L274.1,171.8 L276.1,174.2 L278.0,177.0 L280.0,179.4 L281.9,182.5 L283.8,183.6 L285.8,186.4 L287.7,187.6 L289.6,188.1 L291.6,189.6 L293.5,189.7 L295.4,190.1 L297.4,190.7" fill="none" stroke="#c2c2c2" stroke-width="0.65"/><path d="M252.0,190.4 L253.3,190.4 L254.7,189.6 L256.0,188.8 L257.3,188.6 L258.6,187.5 L259.9,185.9 L261.2,183.7 L262.5,181.8 L263.9,178.9 L265.2,175.2 L266.5,172.4 L267.8,169.4 L269.1,167.2 L270.4,166.6 L272.0,168.2 L273.6,170.2 L275.2,172.1 L276.8,175.2 L278.3,178.4 L279.9,181.7 L281.5,183.8 L283.1,186.0 L284.7,186.6 L286.2,188.8 L287.8,188.7 L289.4,189.8 L291.0,190.5 L292.6,190.6" fill="none" stroke="#c2c2c2" stroke-width="0.65"/><path d="M251.9,190.1 L253.1,189.8 L254.4,189.8 L255.7,188.8 L257.0,188.4 L258.3,187.3 L259.5,185.2 L260.8,183.2 L262.1,181.5 L263.4,178.6 L264.7,175.2 L265.9,172.2 L267.2,170.5 L268.5,168.0 L269.8,166.8 L271.3,167.5 L272.9,170.5 L274.4,172.9 L276.0,175.9 L277.5,178.4 L279.0,181.1 L280.6,183.6 L282.1,185.2 L283.7,187.3 L285.2,188.2 L286.7,189.5 L288.3,189.5 L289.8,190.0 L291.4,190.3" fill="none" stroke="#c2c2c2" stroke-width="0.65"/><path d="M250.9,190.3 L252.3,189.7 L253.7,189.9 L255.1,188.5 L256.6,188.2 L258.0,186.6 L259.4,184.5 L260.8,182.8 L262.2,179.3 L263.6,176.4 L265.0,172.7 L266.4,169.0 L267.8,165.2 L269.2,163.1 L270.6,161.8 L272.3,163.2 L274.0,166.3 L275.7,168.8 L277.4,172.8 L279.1,176.4 L280.7,179.1 L282.4,182.1 L284.1,184.1 L285.8,186.9 L287.5,187.5 L289.2,188.7 L290.9,189.3 L292.6,190.3 L294.3,190.6" fill="none" stroke="#c2c2c2" stroke-width="0.65"/><path d="M250.2,190.4 L251.6,190.2 L253.0,189.9 L254.4,189.5 L255.9,188.9 L257.3,188.1 L258.7,187.0 L260.1,185.6 L261.5,183.9 L262.9,182.0 L264.3,179.9 L265.8,177.7 L267.2,175.8 L268.6,174.3 L270.0,173.6 L271.7,174.3 L273.4,175.8 L275.1,177.7 L276.8,179.9 L278.5,182.0 L280.2,183.9 L281.9,185.6 L283.6,187.0 L285.3,188.1 L287.0,188.9 L288.7,189.5 L290.4,189.9 L292.1,190.2 L293.8,190.4" fill="none" stroke="#f81af8" stroke-width="1.7"/></g><g clip-path="url(#bclip5)"><path d="M296.2,190.0 L298.3,190.2 L300.4,189.9 L302.5,190.0 L304.5,189.5 L306.6,188.4 L308.7,188.2 L310.8,187.1 L312.8,184.6 L314.9,183.7 L317.0,181.8 L319.1,179.9 L321.1,178.4 L323.2,177.0 L325.3,176.9 L327.8,177.4 L330.3,179.0 L332.8,180.7 L335.4,182.4 L337.9,183.5 L340.4,185.6 L342.9,186.7 L345.4,187.9 L348.0,189.2 L350.5,188.7 L353.0,189.7 L355.5,190.0 L358.0,190.5 L360.5,190.1" fill="none" stroke="#c2c2c2" stroke-width="0.65"/><path d="M304.0,190.3 L305.6,190.6 L307.2,189.5 L308.7,189.2 L310.3,189.2 L311.9,188.4 L313.5,187.6 L315.1,185.7 L316.6,184.8 L318.2,182.8 L319.8,180.9 L321.4,178.1 L323.0,176.7 L324.5,174.8 L326.1,175.2 L328.0,175.9 L329.9,177.2 L331.9,178.0 L333.8,180.4 L335.7,182.6 L337.6,184.4 L339.5,185.5 L341.4,187.6 L343.3,188.0 L345.3,189.1 L347.2,189.2 L349.1,190.1 L351.0,189.8 L352.9,189.9" fill="none" stroke="#c2c2c2" stroke-width="0.65"/><path d="M304.3,190.3 L305.9,189.7 L307.6,189.7 L309.2,189.6 L310.9,189.1 L312.5,188.2 L314.1,187.7 L315.8,185.5 L317.4,184.8 L319.1,182.2 L320.7,181.2 L322.4,178.6 L324.0,176.7 L325.7,175.5 L327.3,175.2 L329.3,175.9 L331.3,176.7 L333.3,178.0 L335.3,180.2 L337.3,183.0 L339.3,184.7 L341.3,186.2 L343.3,186.9 L345.3,188.3 L347.3,188.5 L349.3,189.1 L351.3,189.8 L353.3,190.7 L355.3,190.6" fill="none" stroke="#c2c2c2" stroke-width="0.65"/><path d="M304.7,190.1 L306.3,189.7 L307.8,190.4 L309.3,189.3 L310.9,188.8 L312.4,188.2 L314.0,187.3 L315.5,185.9 L317.0,183.7 L318.6,181.5 L320.1,179.8 L321.6,176.9 L323.2,174.7 L324.7,173.7 L326.2,172.4 L328.1,173.2 L330.0,174.9 L331.8,177.0 L333.7,179.1 L335.6,181.4 L337.4,183.5 L339.3,184.8 L341.1,187.2 L343.0,187.4 L344.9,188.9 L346.7,189.5 L348.6,189.8 L350.5,189.9 L352.3,189.9" fill="none" stroke="#c2c2c2" stroke-width="0.65"/><path d="M303.5,190.7 L305.2,190.2 L306.8,189.3 L308.4,189.4 L310.1,189.5 L311.7,187.5 L313.4,187.1 L315.0,186.1 L316.6,183.7 L318.3,181.9 L319.9,179.5 L321.5,177.2 L323.2,175.6 L324.8,174.1 L326.5,173.0 L328.4,173.9 L330.4,175.5 L332.4,177.8 L334.4,179.1 L336.4,181.3 L338.4,183.5 L340.3,185.3 L342.3,187.3 L344.3,188.0 L346.3,189.3 L348.3,189.4 L350.3,189.7 L352.2,190.4 L354.2,189.9" fill="none" stroke="#c2c2c2" stroke-width="0.65"/><path d="M302.3,190.7 L304.0,190.6 L305.7,190.1 L307.3,189.0 L309.0,189.3 L310.7,187.6 L312.4,187.2 L314.1,185.7 L315.8,184.4 L317.5,182.1 L319.2,179.3 L320.9,178.2 L322.6,176.0 L324.3,174.3 L326.0,173.0 L328.0,174.5 L330.1,175.6 L332.1,177.9 L334.2,180.4 L336.3,182.5 L338.3,183.4 L340.4,186.0 L342.4,186.9 L344.5,188.4 L346.5,188.8 L348.6,189.5 L350.6,189.9 L352.7,189.8 L354.7,190.2" fill="none" stroke="#c2c2c2" stroke-width="0.65"/><path d="M296.9,190.5 L298.9,190.2 L300.9,189.3 L303.0,188.8 L305.0,188.3 L307.0,188.0 L309.1,186.2 L311.1,184.9 L313.1,182.0 L315.2,179.8 L317.2,177.3 L319.2,175.0 L321.3,171.7 L323.3,170.8 L325.3,169.4 L327.8,169.7 L330.3,172.1 L332.7,174.4 L335.2,177.5 L337.7,180.4 L340.2,182.3 L342.6,184.6 L345.1,186.0 L347.6,187.8 L350.0,188.0 L352.5,189.5 L355.0,189.4 L357.4,190.2 L359.9,190.0" fill="none" stroke="#c2c2c2" stroke-width="0.65"/><path d="M299.8,190.4 L301.7,190.0 L303.5,189.8 L305.4,189.6 L307.3,188.3 L309.2,187.5 L311.0,186.0 L312.9,184.8 L314.8,181.9 L316.7,179.9 L318.5,176.6 L320.4,173.9 L322.3,172.0 L324.2,169.9 L326.0,168.7 L328.3,169.3 L330.6,172.1 L332.9,174.1 L335.1,177.2 L337.4,179.6 L339.7,182.3 L342.0,184.3 L344.2,186.6 L346.5,187.9 L348.8,188.4 L351.1,189.2 L353.3,189.4 L355.6,190.4 L357.9,189.9" fill="none" stroke="#c2c2c2" stroke-width="0.65"/><path d="M297.9,190.4 L299.8,190.2 L301.8,189.6 L303.7,188.9 L305.6,189.1 L307.6,187.9 L309.5,186.7 L311.5,184.2 L313.4,183.0 L315.4,180.0 L317.3,177.5 L319.3,175.3 L321.2,173.1 L323.2,170.7 L325.1,170.7 L327.5,171.3 L329.8,173.4 L332.2,175.8 L334.5,178.0 L336.9,180.2 L339.3,183.2 L341.6,184.9 L344.0,186.1 L346.3,188.1 L348.7,188.9 L351.1,189.0 L353.4,189.5 L355.8,189.6 L358.1,190.4" fill="none" stroke="#c2c2c2" stroke-width="0.65"/><path d="M303.4,190.5 L305.0,190.3 L306.7,190.1 L308.3,189.7 L310.0,189.2 L311.6,188.6 L313.3,187.7 L314.9,186.5 L316.6,185.1 L318.2,183.5 L319.9,181.8 L321.6,180.0 L323.2,178.4 L324.9,177.2 L326.5,176.6 L328.5,177.2 L330.5,178.4 L332.5,180.0 L334.5,181.8 L336.5,183.5 L338.5,185.1 L340.5,186.5 L342.5,187.7 L344.5,188.6 L346.5,189.2 L348.5,189.7 L350.5,190.1 L352.5,190.3 L354.5,190.5" fill="none" stroke="#f81af8" stroke-width="1.7"/></g><g clip-path="url(#bclip6)"><path d="M363.5,190.5 L364.9,190.1 L366.4,189.8 L367.9,189.5 L369.3,189.3 L370.8,189.1 L372.3,187.4 L373.7,187.1 L375.2,185.8 L376.6,184.0 L378.1,182.2 L379.6,180.7 L381.0,178.9 L382.5,177.9 L384.0,177.7 L385.5,178.1 L387.1,178.6 L388.6,179.9 L390.2,182.7 L391.7,183.7 L393.3,185.7 L394.9,186.4 L396.4,187.7 L398.0,188.5 L399.5,189.6 L401.1,190.3 L402.7,190.1 L404.2,190.4 L405.8,190.3" fill="none" stroke="#c2c2c2" stroke-width="0.65"/><path d="M356.1,190.7 L358.1,189.9 L360.0,190.7 L362.0,189.4 L363.9,189.6 L365.9,188.5 L367.9,188.8 L369.8,187.1 L371.8,186.7 L373.7,184.4 L375.7,183.7 L377.7,181.5 L379.6,180.2 L381.6,179.9 L383.5,179.9 L385.6,180.0 L387.7,181.2 L389.8,182.4 L391.9,183.5 L394.0,184.4 L396.1,186.2 L398.1,187.0 L400.2,188.3 L402.3,188.8 L404.4,189.5 L406.5,189.6 L408.6,190.4 L410.7,190.3 L412.8,190.5" fill="none" stroke="#c2c2c2" stroke-width="0.65"/><path d="M357.2,190.5 L359.1,189.9 L361.1,189.9 L363.1,189.6 L365.1,189.5 L367.1,189.2 L369.0,188.3 L371.0,187.2 L373.0,185.8 L375.0,184.2 L377.0,182.5 L378.9,179.7 L380.9,178.7 L382.9,177.6 L384.9,177.2 L387.0,177.7 L389.1,178.9 L391.2,180.8 L393.3,181.5 L395.4,183.8 L397.5,185.8 L399.6,186.1 L401.7,187.3 L403.8,189.1 L406.0,189.8 L408.1,189.2 L410.2,189.5 L412.3,190.7 L414.4,190.7" fill="none" stroke="#c2c2c2" stroke-width="0.65"/><path d="M359.2,189.9 L361.1,189.8 L362.9,190.4 L364.8,190.3 L366.7,189.6 L368.6,188.4 L370.4,187.3 L372.3,186.2 L374.2,184.3 L376.1,183.5 L378.0,181.1 L379.8,179.6 L381.7,177.9 L383.6,176.4 L385.5,176.2 L387.5,176.5 L389.5,177.5 L391.5,180.0 L393.5,181.0 L395.5,182.8 L397.5,184.6 L399.5,186.3 L401.5,187.9 L403.5,188.3 L405.5,188.9 L407.5,189.9 L409.5,189.8 L411.5,190.3 L413.5,190.2" fill="none" stroke="#c2c2c2" stroke-width="0.65"/><path d="M362.0,190.2 L363.5,190.5 L365.1,190.1 L366.7,189.8 L368.2,188.9 L369.8,187.5 L371.4,187.2 L372.9,185.1 L374.5,183.3 L376.1,181.5 L377.6,179.9 L379.2,176.9 L380.8,174.9 L382.3,173.9 L383.9,173.3 L385.6,173.3 L387.2,174.6 L388.9,177.4 L390.6,179.7 L392.2,181.4 L393.9,184.0 L395.6,185.2 L397.3,186.6 L398.9,188.1 L400.6,189.1 L402.3,189.4 L403.9,190.3 L405.6,189.6 L407.3,190.4" fill="none" stroke="#c2c2c2" stroke-width="0.65"/><path d="M365.4,190.0 L366.8,190.6 L368.3,190.4 L369.8,189.9 L371.2,188.5 L372.7,188.3 L374.2,186.2 L375.7,185.3 L377.1,183.7 L378.6,180.6 L380.1,178.1 L381.5,176.4 L383.0,174.4 L384.5,172.6 L385.9,172.1 L387.5,172.3 L389.1,173.8 L390.6,175.7 L392.2,178.3 L393.8,181.5 L395.3,182.6 L396.9,184.7 L398.5,186.4 L400.0,187.3 L401.6,188.5 L403.2,189.0 L404.7,189.4 L406.3,190.2 L407.9,190.4" fill="none" stroke="#c2c2c2" stroke-width="0.65"/><path d="M357.3,189.9 L359.2,189.9 L361.2,189.4 L363.2,189.2 L365.1,189.1 L367.1,188.4 L369.1,186.7 L371.0,184.8 L373.0,183.2 L375.0,181.4 L376.9,178.8 L378.9,177.1 L380.9,175.2 L382.8,172.9 L384.8,172.4 L386.9,173.4 L389.0,174.6 L391.1,176.3 L393.1,179.6 L395.2,181.9 L397.3,182.9 L399.4,185.6 L401.5,186.6 L403.6,187.4 L405.7,188.4 L407.8,189.0 L409.9,190.2 L412.0,189.8 L414.1,189.8" fill="none" stroke="#c2c2c2" stroke-width="0.65"/><path d="M363.2,190.5 L364.7,190.4 L366.3,190.1 L367.8,189.8 L369.3,189.4 L370.9,188.8 L372.4,188.0 L373.9,186.9 L375.5,185.7 L377.0,184.2 L378.6,182.7 L380.1,181.1 L381.6,179.6 L383.2,178.5 L384.7,178.0 L386.3,178.5 L388.0,179.6 L389.6,181.1 L391.2,182.7 L392.9,184.2 L394.5,185.7 L396.1,186.9 L397.8,188.0 L399.4,188.8 L401.1,189.4 L402.7,189.8 L404.3,190.1 L406.0,190.4 L407.6,190.5" fill="none" stroke="#f81af8" stroke-width="1.7"/></g><g clip-path="url(#bclip7)"><path d="M429.6,190.0 L430.5,189.2 L431.3,188.4 L432.2,187.8 L433.1,186.1 L434.0,184.5 L434.9,182.4 L435.7,178.9 L436.6,175.2 L437.5,170.9 L438.4,165.6 L439.3,160.7 L440.1,156.9 L441.0,153.1 L441.9,151.3 L442.8,153.0 L443.8,156.4 L444.7,160.7 L445.6,166.3 L446.6,170.4 L447.5,175.7 L448.5,179.5 L449.4,182.7 L450.3,184.4 L451.3,186.7 L452.2,188.6 L453.1,188.7 L454.1,189.2 L455.0,190.3" fill="none" stroke="#c2c2c2" stroke-width="0.65"/><path d="M427.3,189.8 L428.3,189.1 L429.3,189.1 L430.2,187.7 L431.2,186.6 L432.2,184.6 L433.1,182.5 L434.1,178.7 L435.1,174.5 L436.0,169.4 L437.0,165.0 L438.0,159.6 L438.9,155.3 L439.9,151.8 L440.9,150.0 L441.9,151.2 L442.9,155.2 L444.0,159.9 L445.0,165.1 L446.0,170.6 L447.1,174.4 L448.1,178.6 L449.1,181.5 L450.2,184.9 L451.2,186.2 L452.2,188.3 L453.3,189.3 L454.3,189.3 L455.3,190.5" fill="none" stroke="#c2c2c2" stroke-width="0.65"/><path d="M428.5,190.0 L429.5,189.5 L430.5,188.6 L431.4,188.2 L432.4,186.4 L433.4,184.1 L434.3,181.3 L435.3,177.9 L436.3,174.5 L437.2,169.6 L438.2,164.6 L439.2,159.2 L440.1,154.1 L441.1,150.5 L442.1,148.8 L443.1,150.6 L444.1,154.2 L445.2,158.3 L446.2,164.4 L447.2,169.0 L448.3,173.7 L449.3,178.7 L450.3,181.1 L451.4,184.3 L452.4,186.2 L453.4,188.2 L454.4,189.0 L455.5,190.0 L456.5,190.5" fill="none" stroke="#c2c2c2" stroke-width="0.65"/><path d="M432.4,190.5 L433.1,189.9 L433.8,188.5 L434.5,187.3 L435.3,186.3 L436.0,184.2 L436.7,181.6 L437.4,177.5 L438.1,172.5 L438.8,168.1 L439.5,161.7 L440.3,157.1 L441.0,151.8 L441.7,147.9 L442.4,146.2 L443.2,147.6 L443.9,152.0 L444.7,156.8 L445.4,162.2 L446.2,167.7 L447.0,172.8 L447.7,176.8 L448.5,180.6 L449.3,184.3 L450.0,185.7 L450.8,187.8 L451.5,189.1 L452.3,189.7 L453.1,190.0" fill="none" stroke="#c2c2c2" stroke-width="0.65"/><path d="M428.7,190.2 L429.6,190.0 L430.4,188.5 L431.3,188.2 L432.2,186.6 L433.1,183.7 L433.9,181.7 L434.8,177.6 L435.7,173.6 L436.6,168.3 L437.5,162.2 L438.3,156.6 L439.2,151.8 L440.1,147.8 L441.0,145.5 L441.9,148.3 L442.8,151.8 L443.8,156.8 L444.7,162.7 L445.6,167.7 L446.6,172.7 L447.5,177.6 L448.4,180.8 L449.4,183.7 L450.3,185.6 L451.3,187.1 L452.2,188.6 L453.1,189.5 L454.1,190.5" fill="none" stroke="#c2c2c2" stroke-width="0.65"/><path d="M431.1,189.9 L431.8,190.0 L432.6,188.2 L433.3,187.5 L434.1,186.2 L434.8,184.1 L435.6,181.0 L436.4,177.4 L437.1,173.2 L437.9,168.0 L438.6,161.6 L439.4,156.2 L440.1,151.5 L440.9,147.0 L441.6,144.8 L442.4,147.3 L443.2,150.4 L444.0,155.7 L444.8,161.9 L445.6,167.2 L446.4,173.0 L447.2,177.5 L448.0,180.7 L448.8,184.1 L449.6,186.2 L450.4,187.8 L451.2,188.6 L452.1,189.4 L452.9,189.5" fill="none" stroke="#c2c2c2" stroke-width="0.65"/><path d="M433.3,189.4 L434.0,189.2 L434.7,189.0 L435.4,187.6 L436.1,185.7 L436.8,183.9 L437.5,181.3 L438.2,177.9 L438.9,173.2 L439.6,168.4 L440.3,163.0 L441.0,157.4 L441.7,151.6 L442.4,148.6 L443.1,146.1 L443.8,147.8 L444.6,152.1 L445.3,156.6 L446.0,162.2 L446.8,168.1 L447.5,173.2 L448.3,177.2 L449.0,181.8 L449.8,184.5 L450.5,186.1 L451.3,187.8 L452.0,188.5 L452.7,190.1 L453.5,189.5" fill="none" stroke="#c2c2c2" stroke-width="0.65"/><path d="M431.3,189.8 L432.1,189.2 L433.0,189.0 L433.8,187.1 L434.6,186.0 L435.5,183.5 L436.3,180.1 L437.1,176.0 L438.0,171.3 L438.8,165.7 L439.7,159.5 L440.5,153.7 L441.3,147.9 L442.2,143.4 L443.0,142.1 L443.9,143.6 L444.8,147.9 L445.7,154.0 L446.6,159.6 L447.5,165.6 L448.3,171.8 L449.2,176.8 L450.1,180.5 L451.0,183.2 L451.9,185.9 L452.8,187.6 L453.7,188.3 L454.6,189.6 L455.5,190.4" fill="none" stroke="#c2c2c2" stroke-width="0.65"/><path d="M429.4,189.6 L430.3,189.7 L431.2,188.6 L432.0,187.9 L432.9,185.4 L433.8,183.5 L434.7,179.6 L435.6,176.1 L436.4,171.6 L437.3,165.4 L438.2,159.7 L439.1,153.1 L439.9,147.7 L440.8,144.1 L441.7,141.2 L442.6,144.0 L443.6,147.3 L444.5,153.5 L445.5,160.0 L446.4,166.1 L447.3,171.2 L448.3,176.3 L449.2,180.4 L450.1,183.6 L451.1,185.9 L452.0,187.4 L453.0,188.2 L453.9,189.6 L454.8,190.0" fill="none" stroke="#c2c2c2" stroke-width="0.65"/><path d="M428.0,189.7 L428.9,189.6 L429.8,189.1 L430.7,187.1 L431.6,185.7 L432.5,183.3 L433.5,180.1 L434.4,175.7 L435.3,171.4 L436.2,166.1 L437.1,159.7 L438.1,153.1 L439.0,148.1 L439.9,143.3 L440.8,141.0 L441.8,143.5 L442.8,147.7 L443.7,153.4 L444.7,160.1 L445.7,165.7 L446.7,171.8 L447.7,175.9 L448.6,180.4 L449.6,182.7 L450.6,185.4 L451.6,187.6 L452.6,188.8 L453.5,189.7 L454.5,189.7" fill="none" stroke="#c2c2c2" stroke-width="0.65"/><path d="M431.3,190.0 L432.1,189.6 L432.8,188.9 L433.6,187.9 L434.3,186.5 L435.1,184.5 L435.8,182.0 L436.6,178.7 L437.4,174.6 L438.1,170.0 L438.9,164.9 L439.6,159.8 L440.4,155.2 L441.1,151.6 L441.9,150.0 L442.7,151.6 L443.5,155.2 L444.3,159.8 L445.1,164.9 L445.9,170.0 L446.7,174.6 L447.5,178.7 L448.4,182.0 L449.2,184.5 L450.0,186.5 L450.8,187.9 L451.6,188.9 L452.4,189.6 L453.2,190.0" fill="none" stroke="#f81af8" stroke-width="1.7"/></g><g clip-path="url(#bclip8)"><path d="M488.5,190.1 L489.2,190.1 L489.9,189.1 L490.6,188.6 L491.3,188.3 L492.0,187.0 L492.7,184.5 L493.3,182.1 L494.0,179.3 L494.7,176.2 L495.4,173.6 L496.1,170.0 L496.8,166.3 L497.5,164.2 L498.2,163.3 L499.0,163.6 L499.8,167.0 L500.5,170.2 L501.3,172.9 L502.1,176.9 L502.9,180.0 L503.6,182.3 L504.4,185.2 L505.2,186.2 L505.9,187.8 L506.7,188.6 L507.5,189.4 L508.3,190.3 L509.0,190.3" fill="none" stroke="#c2c2c2" stroke-width="0.65"/><path d="M486.7,190.4 L487.4,189.6 L488.2,190.1 L489.0,188.8 L489.7,188.0 L490.5,186.8 L491.2,185.6 L492.0,183.6 L492.7,180.8 L493.5,177.3 L494.2,174.3 L495.0,171.5 L495.8,168.0 L496.5,166.6 L497.3,165.6 L498.1,165.8 L499.0,168.2 L499.8,171.0 L500.6,174.8 L501.5,177.1 L502.3,180.8 L503.2,182.6 L504.0,185.6 L504.8,186.9 L505.7,188.2 L506.5,188.5 L507.4,189.0 L508.2,189.8 L509.0,190.7" fill="none" stroke="#c2c2c2" stroke-width="0.65"/><path d="M486.7,189.7 L487.4,190.2 L488.2,189.1 L488.9,188.6 L489.6,188.1 L490.3,186.9 L491.0,184.7 L491.8,182.7 L492.5,179.9 L493.2,177.1 L493.9,173.6 L494.6,170.2 L495.3,167.0 L496.1,164.7 L496.8,163.6 L497.6,164.4 L498.4,167.1 L499.2,170.5 L500.0,173.5 L500.8,176.6 L501.6,180.5 L502.4,182.7 L503.2,185.0 L504.0,186.4 L504.8,188.4 L505.6,189.2 L506.4,189.7 L507.2,190.2 L508.0,190.5" fill="none" stroke="#c2c2c2" stroke-width="0.65"/><path d="M486.0,190.2 L486.8,189.9 L487.7,189.4 L488.5,189.0 L489.4,188.1 L490.2,185.9 L491.0,183.8 L491.9,181.7 L492.7,178.5 L493.6,176.0 L494.4,172.2 L495.2,168.1 L496.1,164.6 L496.9,162.8 L497.8,161.6 L498.7,162.6 L499.6,165.2 L500.6,168.6 L501.5,172.0 L502.5,175.6 L503.4,179.1 L504.3,182.4 L505.3,185.0 L506.2,186.7 L507.1,188.1 L508.1,188.2 L509.0,189.1 L509.9,190.5 L510.9,190.3" fill="none" stroke="#c2c2c2" stroke-width="0.65"/><path d="M487.3,190.7 L488.2,189.3 L489.0,189.9 L489.9,188.0 L490.7,187.1 L491.6,185.9 L492.4,184.2 L493.3,181.0 L494.1,178.5 L495.0,175.4 L495.8,171.0 L496.6,167.4 L497.5,163.7 L498.3,161.0 L499.2,159.2 L500.1,160.8 L501.1,164.1 L502.0,167.3 L502.9,170.7 L503.9,174.8 L504.8,178.5 L505.8,181.3 L506.7,184.1 L507.7,186.2 L508.6,186.9 L509.5,188.2 L510.5,189.5 L511.4,189.5 L512.4,189.7" fill="none" stroke="#c2c2c2" stroke-width="0.65"/><path d="M487.5,189.7 L488.3,190.0 L489.2,189.0 L490.0,188.8 L490.9,187.6 L491.7,186.1 L492.6,183.2 L493.5,180.5 L494.3,178.2 L495.2,173.6 L496.0,169.7 L496.9,165.4 L497.8,161.8 L498.6,159.3 L499.5,158.6 L500.4,159.1 L501.4,161.9 L502.3,166.3 L503.3,169.6 L504.2,174.2 L505.2,177.9 L506.2,181.6 L507.1,183.1 L508.1,185.8 L509.0,187.2 L510.0,188.9 L510.9,189.0 L511.9,190.1 L512.8,189.8" fill="none" stroke="#c2c2c2" stroke-width="0.65"/><path d="M486.5,190.7 L487.3,190.1 L488.0,188.8 L488.8,188.2 L489.6,187.2 L490.4,185.7 L491.1,184.4 L491.9,181.7 L492.7,179.0 L493.5,175.0 L494.2,171.1 L495.0,166.9 L495.8,163.7 L496.5,160.7 L497.3,159.0 L498.2,160.7 L499.0,163.3 L499.9,167.1 L500.8,170.4 L501.6,174.3 L502.5,179.0 L503.3,181.3 L504.2,183.8 L505.1,185.6 L505.9,187.6 L506.8,189.1 L507.6,188.9 L508.5,189.8 L509.4,190.2" fill="none" stroke="#c2c2c2" stroke-width="0.65"/><path d="M486.9,190.4 L487.6,189.2 L488.4,189.6 L489.1,187.8 L489.9,186.7 L490.6,185.4 L491.3,183.6 L492.1,180.5 L492.8,177.2 L493.6,173.2 L494.3,168.8 L495.1,163.6 L495.8,160.5 L496.6,156.7 L497.3,155.3 L498.1,156.5 L499.0,159.6 L499.8,164.6 L500.6,168.4 L501.5,172.4 L502.3,176.3 L503.1,180.8 L504.0,183.3 L504.8,185.9 L505.6,186.5 L506.4,187.8 L507.3,188.9 L508.1,189.4 L508.9,189.7" fill="none" stroke="#c2c2c2" stroke-width="0.65"/><path d="M487.4,190.3 L488.2,190.0 L488.9,189.5 L489.7,188.9 L490.5,187.9 L491.2,186.6 L492.0,184.9 L492.8,182.7 L493.5,180.0 L494.3,177.0 L495.0,173.6 L495.8,170.2 L496.6,167.1 L497.3,164.8 L498.1,163.7 L499.0,164.8 L499.8,167.1 L500.7,170.2 L501.5,173.6 L502.4,177.0 L503.2,180.0 L504.1,182.7 L504.9,184.9 L505.8,186.6 L506.6,187.9 L507.4,188.9 L508.3,189.5 L509.1,190.0 L510.0,190.3" fill="none" stroke="#f81af8" stroke-width="1.7"/></g><g clip-path="url(#bclip9)"><path d="M542.1,190.4 L542.9,190.0 L543.7,189.5 L544.5,189.5 L545.4,188.8 L546.2,187.7 L547.0,186.7 L547.8,184.6 L548.6,183.5 L549.4,180.8 L550.2,178.7 L551.1,176.0 L551.9,174.9 L552.7,172.9 L553.5,171.9 L554.4,172.8 L555.3,174.9 L556.1,176.1 L557.0,178.8 L557.9,181.5 L558.8,183.2 L559.6,185.4 L560.5,187.2 L561.4,187.3 L562.3,188.5 L563.2,189.2 L564.0,190.2 L564.9,190.5 L565.8,190.6" fill="none" stroke="#c2c2c2" stroke-width="0.65"/><path d="M539.5,190.7 L540.6,189.7 L541.6,190.3 L542.7,189.5 L543.7,189.0 L544.8,187.3 L545.8,186.3 L546.9,185.0 L547.9,182.8 L548.9,180.0 L550.0,177.7 L551.0,175.2 L552.1,172.6 L553.1,170.5 L554.2,170.0 L555.3,169.9 L556.4,172.1 L557.6,174.7 L558.7,176.8 L559.8,180.2 L560.9,181.8 L562.1,184.6 L563.2,185.9 L564.3,187.3 L565.4,188.6 L566.6,188.9 L567.7,189.7 L568.8,190.5 L569.9,190.7" fill="none" stroke="#c2c2c2" stroke-width="0.65"/><path d="M543.6,190.7 L544.4,189.8 L545.2,189.9 L546.0,189.1 L546.9,188.0 L547.7,187.0 L548.5,185.6 L549.3,184.4 L550.1,182.2 L551.0,180.7 L551.8,177.7 L552.6,174.4 L553.4,172.9 L554.3,170.5 L555.1,169.9 L556.0,171.1 L556.9,173.0 L557.7,175.5 L558.6,177.5 L559.5,179.9 L560.4,182.4 L561.3,184.3 L562.2,186.5 L563.0,187.5 L563.9,188.8 L564.8,188.9 L565.7,190.1 L566.6,190.7 L567.5,190.0" fill="none" stroke="#c2c2c2" stroke-width="0.65"/><path d="M540.5,189.9 L541.4,190.4 L542.3,189.8 L543.2,189.4 L544.1,188.9 L545.0,186.7 L545.9,185.3 L546.8,183.4 L547.7,181.7 L548.6,179.5 L549.5,176.5 L550.4,173.5 L551.3,171.3 L552.2,168.7 L553.1,167.5 L554.1,169.0 L555.0,170.3 L556.0,173.1 L557.0,175.7 L557.9,178.7 L558.9,181.2 L559.9,184.0 L560.8,185.4 L561.8,187.4 L562.8,188.7 L563.7,189.0 L564.7,189.2 L565.7,190.3 L566.6,190.6" fill="none" stroke="#c2c2c2" stroke-width="0.65"/><path d="M540.1,190.5 L541.1,190.6 L542.2,189.5 L543.2,189.5 L544.3,188.5 L545.3,187.2 L546.3,185.2 L547.4,184.0 L548.4,181.5 L549.5,179.3 L550.5,176.4 L551.6,173.5 L552.6,170.4 L553.7,168.5 L554.7,168.2 L555.9,169.2 L557.0,171.5 L558.1,173.9 L559.3,176.1 L560.4,179.1 L561.5,181.8 L562.7,184.4 L563.8,185.7 L564.9,187.8 L566.0,188.3 L567.2,189.0 L568.3,189.7 L569.4,189.9 L570.6,190.7" fill="none" stroke="#c2c2c2" stroke-width="0.65"/><path d="M539.4,189.9 L540.4,189.6 L541.4,189.6 L542.4,189.2 L543.4,188.6 L544.4,187.1 L545.3,185.4 L546.3,183.6 L547.3,181.9 L548.3,178.4 L549.3,175.2 L550.3,173.3 L551.3,170.2 L552.3,167.7 L553.2,166.8 L554.3,168.6 L555.4,170.5 L556.4,172.4 L557.5,176.0 L558.6,178.4 L559.6,181.4 L560.7,183.9 L561.7,185.1 L562.8,187.7 L563.9,188.1 L564.9,188.7 L566.0,190.0 L567.0,189.6 L568.1,189.8" fill="none" stroke="#c2c2c2" stroke-width="0.65"/><path d="M541.3,189.9 L542.4,189.5 L543.4,189.7 L544.4,188.9 L545.5,187.8 L546.5,187.3 L547.5,184.9 L548.5,183.3 L549.6,180.1 L550.6,178.2 L551.6,175.1 L552.6,171.5 L553.7,168.2 L554.7,166.4 L555.7,165.7 L556.8,166.5 L557.9,167.9 L559.0,171.3 L560.1,174.1 L561.2,177.8 L562.3,181.2 L563.4,183.6 L564.5,184.9 L565.6,186.9 L566.7,187.8 L567.8,188.6 L568.9,189.9 L570.0,190.3 L571.1,190.1" fill="none" stroke="#c2c2c2" stroke-width="0.65"/><path d="M542.4,189.8 L543.3,189.5 L544.2,189.2 L545.1,189.3 L546.0,188.0 L546.9,187.0 L547.9,185.0 L548.8,182.9 L549.7,180.1 L550.6,178.1 L551.5,174.4 L552.4,170.6 L553.4,168.3 L554.3,166.0 L555.2,165.0 L556.2,166.2 L557.2,168.2 L558.1,171.5 L559.1,174.9 L560.1,177.4 L561.1,180.7 L562.1,182.9 L563.1,185.0 L564.0,186.6 L565.0,188.2 L566.0,188.8 L567.0,189.4 L568.0,190.4 L569.0,190.6" fill="none" stroke="#c2c2c2" stroke-width="0.65"/><path d="M542.7,190.4 L543.5,190.2 L544.4,189.9 L545.2,189.4 L546.1,188.7 L546.9,187.8 L547.8,186.6 L548.6,185.0 L549.4,183.1 L550.3,180.9 L551.1,178.5 L552.0,176.1 L552.8,173.9 L553.7,172.3 L554.5,171.5 L555.4,172.3 L556.3,173.9 L557.2,176.1 L558.1,178.5 L559.0,180.9 L559.9,183.1 L560.9,185.0 L561.8,186.6 L562.7,187.8 L563.6,188.7 L564.5,189.4 L565.4,189.9 L566.3,190.2 L567.2,190.4" fill="none" stroke="#f81af8" stroke-width="1.7"/></g><g clip-path="url(#bclip10)"><path d="M596.1,190.2 L597.1,190.1 L598.2,189.6 L599.2,190.1 L600.2,189.8 L601.2,188.5 L602.2,187.7 L603.2,186.3 L604.3,185.0 L605.3,184.1 L606.3,182.7 L607.3,180.1 L608.3,178.8 L609.3,178.2 L610.4,177.1 L611.7,178.4 L613.0,178.9 L614.3,180.6 L615.6,181.9 L616.9,183.7 L618.2,185.4 L619.6,186.5 L620.9,188.1 L622.2,188.1 L623.5,189.5 L624.8,190.2 L626.1,189.9 L627.4,190.0 L628.8,190.0" fill="none" stroke="#c2c2c2" stroke-width="0.65"/><path d="M599.9,190.4 L600.7,190.4 L601.5,189.9 L602.3,189.2 L603.0,189.2 L603.8,188.5 L604.6,188.3 L605.4,186.5 L606.2,185.8 L607.0,184.2 L607.8,182.1 L608.6,179.9 L609.4,179.1 L610.2,177.1 L611.0,177.1 L612.0,177.1 L613.1,178.3 L614.1,180.2 L615.1,181.6 L616.2,184.3 L617.2,185.4 L618.2,187.1 L619.2,188.3 L620.3,188.9 L621.3,189.5 L622.3,189.7 L623.4,190.4 L624.4,190.5 L625.4,190.1" fill="none" stroke="#c2c2c2" stroke-width="0.65"/><path d="M596.2,190.7 L597.2,190.3 L598.3,190.3 L599.3,190.0 L600.3,188.6 L601.4,187.9 L602.4,186.7 L603.5,185.6 L604.5,184.9 L605.5,182.3 L606.6,180.5 L607.6,178.5 L608.7,176.8 L609.7,175.1 L610.7,175.0 L612.1,175.1 L613.4,177.1 L614.8,178.9 L616.1,180.0 L617.5,182.6 L618.8,183.9 L620.2,186.4 L621.5,186.7 L622.9,188.0 L624.2,189.4 L625.6,189.7 L626.9,190.2 L628.2,190.2 L629.6,190.5" fill="none" stroke="#c2c2c2" stroke-width="0.65"/><path d="M595.6,190.0 L596.6,189.8 L597.6,189.6 L598.7,189.6 L599.7,189.1 L600.7,187.6 L601.7,187.8 L602.8,186.3 L603.8,184.1 L604.8,182.0 L605.9,180.8 L606.9,178.9 L607.9,176.1 L608.9,175.4 L610.0,174.8 L611.3,175.6 L612.6,176.2 L614.0,177.9 L615.3,180.0 L616.6,182.1 L617.9,184.8 L619.3,186.4 L620.6,187.2 L621.9,187.8 L623.3,188.8 L624.6,189.3 L625.9,190.2 L627.2,190.5 L628.6,190.7" fill="none" stroke="#c2c2c2" stroke-width="0.65"/><path d="M597.7,190.4 L598.6,190.4 L599.6,190.2 L600.5,189.3 L601.4,189.0 L602.3,187.7 L603.2,186.4 L604.2,185.4 L605.1,183.7 L606.0,181.3 L606.9,179.2 L607.8,177.5 L608.8,176.1 L609.7,174.5 L610.6,172.8 L611.8,173.9 L613.0,175.4 L614.2,177.4 L615.4,179.3 L616.6,182.0 L617.7,184.3 L618.9,185.4 L620.1,186.6 L621.3,187.6 L622.5,188.3 L623.7,189.8 L624.9,189.6 L626.1,190.5 L627.3,190.7" fill="none" stroke="#c2c2c2" stroke-width="0.65"/><path d="M595.3,190.7 L596.4,189.9 L597.4,189.8 L598.5,189.2 L599.5,188.7 L600.6,188.2 L601.7,186.3 L602.7,185.4 L603.8,183.7 L604.8,181.1 L605.9,179.2 L607.0,176.8 L608.0,173.7 L609.1,173.0 L610.1,171.3 L611.5,172.7 L612.9,173.6 L614.3,176.0 L615.6,178.6 L617.0,181.4 L618.4,183.4 L619.7,184.7 L621.1,187.1 L622.5,188.3 L623.9,188.7 L625.2,188.9 L626.6,189.6 L628.0,189.9 L629.3,190.3" fill="none" stroke="#c2c2c2" stroke-width="0.65"/><path d="M600.2,190.1 L601.1,190.4 L601.9,189.7 L602.7,189.0 L603.5,188.2 L604.3,187.2 L605.1,186.4 L605.9,185.0 L606.8,182.9 L607.6,180.9 L608.4,178.1 L609.2,175.4 L610.0,173.9 L610.8,171.8 L611.7,171.2 L612.7,171.9 L613.8,173.4 L614.8,175.4 L615.9,178.1 L616.9,180.6 L618.0,182.6 L619.0,184.4 L620.1,186.5 L621.1,187.2 L622.2,189.1 L623.3,189.2 L624.3,189.8 L625.4,190.2 L626.4,189.8" fill="none" stroke="#c2c2c2" stroke-width="0.65"/><path d="M597.4,190.2 L598.3,190.5 L599.3,189.9 L600.3,189.8 L601.2,189.2 L602.2,188.3 L603.2,186.9 L604.1,185.3 L605.1,183.2 L606.0,181.2 L607.0,178.9 L608.0,176.4 L608.9,174.6 L609.9,173.0 L610.9,171.3 L612.1,172.9 L613.4,174.4 L614.6,176.5 L615.9,179.3 L617.1,180.6 L618.3,183.2 L619.6,185.0 L620.8,187.2 L622.1,187.5 L623.3,188.8 L624.6,189.0 L625.8,190.2 L627.1,190.2 L628.3,190.7" fill="none" stroke="#c2c2c2" stroke-width="0.65"/><path d="M597.0,190.6 L597.9,190.6 L598.8,190.2 L599.7,189.1 L600.5,188.1 L601.4,187.9 L602.3,186.7 L603.1,184.2 L604.0,183.3 L604.9,180.5 L605.7,177.4 L606.6,175.5 L607.5,173.0 L608.4,171.0 L609.2,171.1 L610.3,172.0 L611.5,172.7 L612.6,175.4 L613.7,177.7 L614.8,180.7 L616.0,182.3 L617.1,184.6 L618.2,186.3 L619.3,187.6 L620.5,188.6 L621.6,189.4 L622.7,190.3 L623.8,190.7 L625.0,190.7" fill="none" stroke="#c2c2c2" stroke-width="0.65"/><path d="M596.6,190.5 L597.6,190.1 L598.5,189.4 L599.5,189.6 L600.4,187.9 L601.4,186.3 L602.3,184.8 L603.3,182.9 L604.2,181.0 L605.2,178.3 L606.1,174.2 L607.1,171.3 L608.0,168.4 L609.0,166.8 L609.9,166.0 L611.2,166.2 L612.4,168.2 L613.6,172.2 L614.9,175.3 L616.1,178.1 L617.3,180.7 L618.6,183.5 L619.8,185.6 L621.0,186.9 L622.2,187.8 L623.5,189.0 L624.7,189.8 L625.9,189.8 L627.2,190.4" fill="none" stroke="#c2c2c2" stroke-width="0.65"/><path d="M598.4,190.5 L599.3,190.3 L600.2,190.1 L601.0,189.7 L601.9,189.2 L602.8,188.5 L603.7,187.5 L604.5,186.3 L605.4,184.9 L606.3,183.2 L607.2,181.4 L608.1,179.5 L608.9,177.9 L609.8,176.6 L610.7,176.0 L611.8,176.6 L613.0,177.9 L614.1,179.5 L615.2,181.4 L616.4,183.2 L617.5,184.9 L618.7,186.3 L619.8,187.5 L620.9,188.5 L622.1,189.2 L623.2,189.7 L624.3,190.1 L625.5,190.3 L626.6,190.5" fill="none" stroke="#f81af8" stroke-width="1.7"/></g><g clip-path="url(#bclip11)"><path d="M655.9,190.7 L656.7,190.7 L657.5,190.7 L658.2,190.5 L659.0,190.2 L659.8,189.7 L660.5,188.8 L661.3,187.4 L662.0,187.3 L662.8,186.4 L663.6,185.2 L664.3,183.1 L665.1,182.1 L665.9,182.1 L666.6,181.4 L667.6,182.3 L668.6,183.2 L669.5,183.6 L670.5,185.0 L671.5,186.2 L672.4,187.3 L673.4,187.8 L674.4,188.9 L675.4,188.8 L676.3,190.2 L677.3,190.3 L678.3,190.7 L679.2,190.4 L680.2,190.2" fill="none" stroke="#c2c2c2" stroke-width="0.65"/><path d="M657.5,189.9 L658.2,190.3 L658.9,189.9 L659.6,189.7 L660.4,189.3 L661.1,189.0 L661.8,188.7 L662.5,188.2 L663.3,186.9 L664.0,184.9 L664.7,184.6 L665.5,183.0 L666.2,182.0 L666.9,181.0 L667.6,180.2 L668.6,180.6 L669.5,181.2 L670.4,183.1 L671.3,183.7 L672.3,185.7 L673.2,187.1 L674.1,187.9 L675.0,188.6 L676.0,189.5 L676.9,190.2 L677.8,190.4 L678.7,190.7 L679.6,190.4 L680.6,189.9" fill="none" stroke="#c2c2c2" stroke-width="0.65"/><path d="M656.2,190.4 L657.1,189.8 L658.0,190.6 L658.9,190.1 L659.8,190.2 L660.6,189.2 L661.5,188.8 L662.4,187.9 L663.3,187.1 L664.2,185.2 L665.1,184.4 L665.9,182.4 L666.8,180.7 L667.7,180.2 L668.6,179.8 L669.7,181.0 L670.8,181.2 L672.0,182.3 L673.1,184.1 L674.2,184.8 L675.3,186.2 L676.4,187.4 L677.6,187.9 L678.7,189.2 L679.8,189.5 L680.9,190.3 L682.0,190.0 L683.2,190.7 L684.3,190.2" fill="none" stroke="#c2c2c2" stroke-width="0.65"/><path d="M655.0,190.7 L655.8,190.1 L656.6,190.1 L657.4,189.9 L658.2,189.2 L659.0,188.9 L659.7,187.5 L660.5,186.9 L661.3,185.6 L662.1,184.8 L662.9,183.3 L663.7,181.6 L664.5,180.1 L665.3,179.4 L666.0,178.7 L667.0,178.4 L668.0,179.6 L669.0,181.7 L670.0,183.4 L671.0,185.1 L672.0,186.2 L673.0,186.7 L674.0,188.1 L675.0,189.0 L676.0,189.6 L677.0,189.4 L678.0,190.7 L679.0,190.4 L680.0,190.2" fill="none" stroke="#c2c2c2" stroke-width="0.65"/><path d="M653.6,190.2 L654.5,190.0 L655.4,189.9 L656.3,190.0 L657.2,189.2 L658.1,189.0 L659.0,188.5 L659.9,187.6 L660.8,186.2 L661.7,184.8 L662.6,182.5 L663.5,181.6 L664.4,179.3 L665.3,178.8 L666.2,177.7 L667.4,178.2 L668.5,180.3 L669.6,180.8 L670.8,183.1 L671.9,184.4 L673.1,185.2 L674.2,187.4 L675.4,187.5 L676.5,189.3 L677.6,189.8 L678.8,189.8 L679.9,190.1 L681.1,189.8 L682.2,190.7" fill="none" stroke="#c2c2c2" stroke-width="0.65"/><path d="M656.1,190.0 L657.0,190.6 L657.9,190.4 L658.8,189.7 L659.7,189.8 L660.6,189.0 L661.5,188.0 L662.5,187.1 L663.4,185.6 L664.3,184.3 L665.2,183.5 L666.1,181.3 L667.0,180.4 L667.9,178.9 L668.8,178.2 L669.9,178.5 L671.1,180.7 L672.2,181.8 L673.4,183.6 L674.5,184.6 L675.7,185.4 L676.8,186.7 L677.9,187.6 L679.1,189.0 L680.2,189.6 L681.4,190.4 L682.5,189.9 L683.7,190.0 L684.8,190.2" fill="none" stroke="#c2c2c2" stroke-width="0.65"/><path d="M655.9,190.3 L656.8,190.7 L657.6,189.9 L658.4,190.1 L659.2,189.3 L660.1,188.1 L660.9,187.1 L661.7,186.6 L662.5,185.6 L663.4,182.9 L664.2,182.0 L665.0,179.6 L665.8,178.6 L666.7,177.5 L667.5,176.8 L668.5,176.8 L669.6,177.9 L670.6,180.5 L671.7,182.2 L672.7,184.0 L673.8,185.2 L674.8,186.0 L675.8,187.5 L676.9,189.0 L677.9,188.7 L679.0,189.5 L680.0,189.5 L681.1,190.7 L682.1,190.3" fill="none" stroke="#c2c2c2" stroke-width="0.65"/><path d="M655.0,190.6 L655.8,190.5 L656.7,189.6 L657.5,189.8 L658.3,188.7 L659.2,188.5 L660.0,188.1 L660.8,186.3 L661.6,185.6 L662.5,183.3 L663.3,181.8 L664.1,180.5 L665.0,178.0 L665.8,177.5 L666.6,176.9 L667.7,177.7 L668.7,179.1 L669.8,180.4 L670.8,181.6 L671.9,183.3 L672.9,185.2 L674.0,186.3 L675.0,187.8 L676.1,188.1 L677.1,189.5 L678.2,189.7 L679.2,189.6 L680.3,189.9 L681.3,190.7" fill="none" stroke="#c2c2c2" stroke-width="0.65"/><path d="M656.7,190.5 L657.5,190.4 L658.2,190.2 L659.0,190.0 L659.8,189.6 L660.6,189.1 L661.3,188.4 L662.1,187.6 L662.9,186.5 L663.6,185.3 L664.4,184.0 L665.2,182.7 L666.0,181.4 L666.7,180.5 L667.5,180.1 L668.5,180.5 L669.5,181.4 L670.4,182.7 L671.4,184.0 L672.4,185.3 L673.4,186.5 L674.4,187.6 L675.3,188.4 L676.3,189.1 L677.3,189.6 L678.3,190.0 L679.2,190.2 L680.2,190.4 L681.2,190.5" fill="none" stroke="#f81af8" stroke-width="1.7"/></g><g clip-path="url(#bclip12)"><path d="M696.0,190.0 L697.8,190.5 L699.5,190.4 L701.3,189.1 L703.0,188.2 L704.7,187.4 L706.5,186.2 L708.2,185.5 L709.9,183.4 L711.7,181.1 L713.4,178.3 L715.2,176.6 L716.9,173.8 L718.6,172.2 L720.4,172.0 L723.0,172.8 L725.7,174.6 L728.3,176.8 L730.9,178.4 L733.6,180.9 L736.2,182.8 L738.9,185.1 L741.5,186.1 L744.2,188.3 L746.8,189.0 L749.4,189.8 L752.1,189.9 L754.7,190.7 L757.4,190.7" fill="none" stroke="#c2c2c2" stroke-width="0.65"/><path d="M700.3,189.8 L701.7,190.5 L703.1,189.8 L704.5,189.9 L705.9,188.4 L707.3,187.6 L708.7,186.9 L710.1,185.4 L711.5,183.2 L712.9,181.1 L714.3,178.6 L715.7,175.4 L717.1,173.5 L718.5,171.1 L719.8,171.1 L722.0,172.2 L724.1,173.4 L726.2,175.2 L728.3,178.2 L730.5,180.1 L732.6,182.8 L734.7,184.3 L736.8,186.3 L738.9,188.1 L741.1,188.9 L743.2,189.8 L745.3,189.8 L747.4,190.1 L749.5,189.8" fill="none" stroke="#c2c2c2" stroke-width="0.65"/><path d="M702.4,190.3 L703.7,189.6 L705.0,189.3 L706.3,188.7 L707.6,188.3 L708.8,186.9 L710.1,186.2 L711.4,184.2 L712.7,182.2 L714.0,179.3 L715.3,176.0 L716.6,173.3 L717.9,171.4 L719.1,169.1 L720.4,168.3 L722.4,169.2 L724.3,170.5 L726.3,173.2 L728.3,176.3 L730.2,179.6 L732.2,182.3 L734.1,184.1 L736.1,185.6 L738.0,186.7 L740.0,188.4 L742.0,189.1 L743.9,190.2 L745.9,189.7 L747.8,190.0" fill="none" stroke="#c2c2c2" stroke-width="0.65"/><path d="M698.2,189.8 L699.8,189.4 L701.5,189.6 L703.2,188.5 L704.9,188.0 L706.5,187.0 L708.2,185.0 L709.9,182.2 L711.6,179.8 L713.2,176.3 L714.9,173.4 L716.6,169.3 L718.3,166.8 L719.9,164.2 L721.6,163.3 L724.2,163.8 L726.7,166.9 L729.3,169.7 L731.8,172.8 L734.4,176.7 L736.9,179.5 L739.5,182.0 L742.0,184.2 L744.6,186.6 L747.1,187.5 L749.7,188.3 L752.2,189.8 L754.8,189.5 L757.3,190.5" fill="none" stroke="#c2c2c2" stroke-width="0.65"/><path d="M698.8,190.7 L700.5,190.6 L702.2,189.7 L703.8,189.5 L705.5,188.2 L707.1,186.9 L708.8,185.0 L710.4,183.0 L712.1,180.7 L713.7,177.4 L715.4,174.7 L717.0,171.8 L718.7,168.7 L720.3,165.9 L722.0,164.6 L724.5,166.0 L727.0,168.3 L729.5,171.8 L732.1,174.6 L734.6,177.7 L737.1,180.8 L739.6,183.2 L742.1,185.4 L744.6,186.9 L747.2,188.1 L749.7,188.6 L752.2,189.1 L754.7,189.9 L757.2,190.7" fill="none" stroke="#c2c2c2" stroke-width="0.65"/><path d="M700.1,190.2 L701.6,189.6 L703.1,189.8 L704.6,188.3 L706.1,187.5 L707.5,186.3 L709.0,184.4 L710.5,182.2 L712.0,179.3 L713.5,176.7 L715.0,172.8 L716.5,169.9 L718.0,166.7 L719.4,164.3 L720.9,163.0 L723.2,164.3 L725.4,166.3 L727.7,169.7 L730.0,173.4 L732.2,176.3 L734.5,180.1 L736.8,182.6 L739.0,185.3 L741.3,186.7 L743.5,187.9 L745.8,189.1 L748.1,189.2 L750.3,189.8 L752.6,190.2" fill="none" stroke="#c2c2c2" stroke-width="0.65"/><path d="M695.7,190.7 L697.4,190.0 L699.1,190.2 L700.8,189.2 L702.5,188.0 L704.3,186.5 L706.0,184.9 L707.7,183.6 L709.4,181.3 L711.2,178.4 L712.9,175.6 L714.6,172.1 L716.3,169.7 L718.0,167.4 L719.8,166.5 L722.4,167.3 L725.0,169.6 L727.6,172.3 L730.2,174.8 L732.8,178.5 L735.5,181.3 L738.1,183.4 L740.7,186.0 L743.3,187.0 L745.9,187.8 L748.6,189.0 L751.2,189.5 L753.8,189.6 L756.4,190.7" fill="none" stroke="#c2c2c2" stroke-width="0.65"/><path d="M698.9,190.7 L700.4,189.5 L701.9,190.0 L703.4,188.4 L704.8,188.7 L706.3,187.4 L707.8,185.3 L709.3,183.5 L710.8,180.8 L712.3,177.6 L713.8,174.7 L715.3,171.7 L716.7,169.4 L718.2,166.3 L719.7,165.8 L722.0,166.7 L724.2,169.0 L726.5,172.1 L728.8,175.0 L731.0,177.8 L733.3,181.4 L735.5,183.4 L737.8,185.1 L740.1,187.0 L742.3,188.6 L744.6,188.5 L746.8,189.8 L749.1,190.0 L751.4,190.0" fill="none" stroke="#c2c2c2" stroke-width="0.65"/><path d="M700.4,190.3 L701.9,189.6 L703.3,189.5 L704.7,188.6 L706.2,187.9 L707.6,186.4 L709.0,183.8 L710.5,182.2 L711.9,178.7 L713.3,174.9 L714.8,171.0 L716.2,167.7 L717.6,163.9 L719.1,161.5 L720.5,159.8 L722.7,161.7 L724.9,163.7 L727.1,167.9 L729.2,171.2 L731.4,175.0 L733.6,178.7 L735.8,181.7 L738.0,184.2 L740.2,186.1 L742.3,188.1 L744.5,188.9 L746.7,188.9 L748.9,190.4 L751.1,189.6" fill="none" stroke="#c2c2c2" stroke-width="0.65"/><path d="M702.9,189.9 L704.1,190.0 L705.3,190.0 L706.6,188.3 L707.8,187.6 L709.0,186.2 L710.2,184.5 L711.5,182.7 L712.7,180.4 L713.9,177.9 L715.1,174.3 L716.4,171.3 L717.6,168.0 L718.8,166.1 L720.0,164.7 L721.9,165.3 L723.8,167.7 L725.6,170.8 L727.5,173.7 L729.3,177.9 L731.2,180.3 L733.1,182.6 L734.9,185.1 L736.8,187.1 L738.7,187.7 L740.5,189.0 L742.4,189.1 L744.2,189.7 L746.1,189.9" fill="none" stroke="#c2c2c2" stroke-width="0.65"/><path d="M697.8,190.3 L699.4,190.2 L700.9,190.0 L702.5,188.5 L704.1,188.3 L705.7,186.2 L707.3,184.4 L708.8,181.6 L710.4,178.6 L712.0,175.9 L713.6,171.6 L715.1,167.8 L716.7,164.5 L718.3,162.5 L719.9,160.9 L722.3,162.2 L724.7,165.4 L727.1,168.3 L729.5,171.7 L731.9,176.0 L734.3,179.7 L736.7,182.1 L739.1,184.3 L741.5,186.3 L743.9,187.9 L746.3,189.1 L748.7,189.8 L751.1,189.6 L753.5,190.5" fill="none" stroke="#c2c2c2" stroke-width="0.65"/><path d="M702.4,190.2 L703.7,189.5 L705.0,189.7 L706.3,188.2 L707.6,187.4 L709.0,185.9 L710.3,183.0 L711.6,180.5 L712.9,176.6 L714.2,172.5 L715.5,167.7 L716.8,163.9 L718.1,160.1 L719.4,156.8 L720.7,154.9 L722.7,156.6 L724.7,159.5 L726.7,163.6 L728.7,168.5 L730.7,172.0 L732.7,176.6 L734.6,180.2 L736.6,182.6 L738.6,185.6 L740.6,186.7 L742.6,188.2 L744.6,188.8 L746.6,189.8 L748.6,190.0" fill="none" stroke="#c2c2c2" stroke-width="0.65"/><path d="M700.5,189.6 L702.0,189.7 L703.5,188.9 L705.0,188.1 L706.5,187.6 L708.0,185.3 L709.5,183.4 L711.0,179.9 L712.5,176.9 L714.0,172.3 L715.5,168.1 L717.0,163.5 L718.5,159.4 L720.0,157.3 L721.6,156.0 L723.8,156.7 L726.1,159.4 L728.4,164.2 L730.7,168.6 L733.0,172.2 L735.3,177.1 L737.6,179.7 L739.9,182.8 L742.2,185.7 L744.4,187.4 L746.7,188.0 L749.0,189.2 L751.3,190.1 L753.6,190.2" fill="none" stroke="#c2c2c2" stroke-width="0.65"/><path d="M701.1,190.1 L702.4,189.7 L703.7,188.9 L705.0,188.2 L706.3,186.8 L707.6,185.0 L708.9,182.2 L710.2,179.6 L711.5,175.4 L712.9,171.3 L714.2,166.6 L715.5,161.6 L716.8,157.0 L718.1,153.5 L719.4,151.8 L721.4,153.0 L723.4,156.2 L725.4,161.4 L727.4,165.7 L729.4,171.0 L731.4,175.4 L733.3,179.3 L735.3,182.2 L737.3,184.5 L739.3,186.5 L741.3,188.3 L743.3,189.5 L745.3,189.4 L747.3,189.8" fill="none" stroke="#c2c2c2" stroke-width="0.65"/><path d="M698.5,190.4 L700.1,190.0 L701.7,189.3 L703.3,188.7 L705.0,186.7 L706.6,184.9 L708.2,182.7 L709.8,179.2 L711.4,176.0 L713.0,171.1 L714.6,166.6 L716.3,161.7 L717.9,157.2 L719.5,153.4 L721.1,152.2 L723.6,153.9 L726.0,157.9 L728.5,161.3 L730.9,167.0 L733.4,171.8 L735.8,176.0 L738.3,179.1 L740.7,181.9 L743.2,185.4 L745.7,186.2 L748.1,187.8 L750.6,189.5 L753.0,189.9 L755.5,190.5" fill="none" stroke="#c2c2c2" stroke-width="0.65"/><path d="M703.1,189.8 L704.3,189.5 L705.6,189.2 L706.9,187.5 L708.1,186.4 L709.4,183.7 L710.6,181.1 L711.9,177.4 L713.2,173.7 L714.4,168.8 L715.7,163.6 L716.9,157.8 L718.2,153.5 L719.5,149.5 L720.7,147.6 L722.6,149.7 L724.5,152.6 L726.5,157.7 L728.4,163.4 L730.3,168.8 L732.2,174.2 L734.1,178.1 L736.0,180.9 L738.0,184.7 L739.9,186.2 L741.8,187.4 L743.7,189.1 L745.6,189.7 L747.5,190.4" fill="none" stroke="#c2c2c2" stroke-width="0.65"/><path d="M700.2,189.8 L701.6,189.6 L703.1,188.4 L704.6,187.4 L706.0,185.7 L707.5,183.5 L708.9,181.3 L710.4,178.0 L711.9,173.3 L713.3,168.9 L714.8,163.1 L716.2,157.6 L717.7,152.2 L719.2,149.1 L720.6,146.7 L722.8,149.0 L725.1,152.1 L727.3,158.0 L729.5,163.2 L731.7,168.0 L733.9,173.7 L736.1,177.3 L738.4,181.1 L740.6,183.9 L742.8,186.0 L745.0,187.5 L747.2,188.4 L749.5,189.4 L751.7,189.5" fill="none" stroke="#c2c2c2" stroke-width="0.65"/><path d="M701.2,190.5 L702.6,189.9 L704.1,189.0 L705.5,188.0 L707.0,186.5 L708.4,184.3 L709.8,180.8 L711.3,177.4 L712.7,172.2 L714.1,167.4 L715.6,161.7 L717.0,156.4 L718.5,150.4 L719.9,147.4 L721.3,144.7 L723.5,147.0 L725.7,151.0 L727.9,156.6 L730.1,162.1 L732.3,167.2 L734.5,173.0 L736.7,176.9 L738.8,181.1 L741.0,183.7 L743.2,186.6 L745.4,187.5 L747.6,188.4 L749.8,189.2 L752.0,190.5" fill="none" stroke="#c2c2c2" stroke-width="0.65"/><path d="M698.8,190.4 L700.4,188.9 L702.0,188.4 L703.6,187.7 L705.1,185.8 L706.7,183.7 L708.3,180.7 L709.8,176.1 L711.4,171.3 L713.0,166.1 L714.5,160.3 L716.1,154.2 L717.7,148.8 L719.2,144.5 L720.8,142.5 L723.2,145.0 L725.6,149.4 L728.0,154.1 L730.3,160.0 L732.7,166.7 L735.1,171.4 L737.5,176.2 L739.9,180.4 L742.3,183.3 L744.7,186.1 L747.1,187.5 L749.4,188.6 L751.8,189.2 L754.2,189.3" fill="none" stroke="#c2c2c2" stroke-width="0.65"/><path d="M704.0,189.8 L705.2,189.4 L706.5,188.1 L707.8,186.8 L709.0,186.1 L710.3,183.7 L711.6,180.7 L712.8,176.1 L714.1,171.4 L715.4,165.6 L716.6,159.3 L717.9,152.8 L719.2,147.7 L720.4,143.1 L721.7,141.4 L723.6,142.6 L725.5,147.3 L727.5,152.7 L729.4,159.7 L731.3,165.5 L733.2,170.9 L735.2,176.4 L737.1,180.1 L739.0,183.0 L740.9,185.5 L742.9,186.7 L744.8,188.0 L746.7,188.8 L748.6,190.4" fill="none" stroke="#c2c2c2" stroke-width="0.65"/><path d="M701.0,190.1 L702.5,188.8 L704.0,188.4 L705.5,187.4 L707.0,185.4 L708.5,183.3 L710.0,179.7 L711.5,176.0 L713.0,170.4 L714.5,165.0 L716.0,158.7 L717.5,152.5 L719.0,146.1 L720.5,142.0 L722.0,140.5 L724.3,141.9 L726.6,146.7 L728.9,153.0 L731.1,158.9 L733.4,165.3 L735.7,171.1 L738.0,176.3 L740.3,179.7 L742.5,183.0 L744.8,185.8 L747.1,186.7 L749.4,188.4 L751.7,189.0 L753.9,189.9" fill="none" stroke="#c2c2c2" stroke-width="0.65"/><path d="M698.6,189.4 L700.2,189.5 L701.8,189.0 L703.3,187.5 L704.9,185.6 L706.5,183.2 L708.1,180.0 L709.7,175.7 L711.2,170.8 L712.8,165.9 L714.4,159.4 L716.0,152.6 L717.6,147.7 L719.1,143.6 L720.7,141.4 L723.1,142.8 L725.5,148.1 L727.9,152.8 L730.3,159.4 L732.7,165.5 L735.1,170.8 L737.5,175.8 L740.0,179.7 L742.4,182.8 L744.8,185.1 L747.2,187.5 L749.6,188.7 L752.0,189.0 L754.4,190.4" fill="none" stroke="#c2c2c2" stroke-width="0.65"/><path d="M701.9,190.3 L703.2,190.1 L704.6,189.7 L705.9,189.2 L707.3,188.4 L708.6,187.3 L710.0,185.9 L711.3,184.1 L712.6,181.9 L714.0,179.4 L715.3,176.6 L716.7,173.8 L718.0,171.2 L719.4,169.3 L720.7,168.4 L722.7,169.3 L724.8,171.2 L726.8,173.8 L728.9,176.6 L730.9,179.4 L733.0,181.9 L735.0,184.1 L737.0,185.9 L739.1,187.3 L741.1,188.4 L743.2,189.2 L745.2,189.7 L747.3,190.1 L749.3,190.3" fill="none" stroke="#f81af8" stroke-width="1.7"/></g><line x1="17.40" y1="136.3" x2="17.40" y2="191.3" stroke="#a8a8a8" stroke-width="1"/><line x1="754.36" y1="136.3" x2="754.36" y2="191.3" stroke="#a8a8a8" stroke-width="1"/><line x1="16.90" y1="136.3" x2="754.06" y2="136.3" stroke="#a8a8a8" stroke-width="1"/><line x1="16.90" y1="191.3" x2="754.06" y2="191.3" stroke="#999" stroke-width="1"/><line x1="73.42" y1="136.3" x2="73.42" y2="191.3" stroke="#8a8a8a" stroke-width="1.3"/><line x1="130.14" y1="136.3" x2="130.14" y2="191.3" stroke="#8a8a8a" stroke-width="1.3"/><line x1="186.86" y1="136.3" x2="186.86" y2="191.3" stroke="#8a8a8a" stroke-width="1.3"/><line x1="243.58" y1="136.3" x2="243.58" y2="191.3" stroke="#8a8a8a" stroke-width="1.3"/><line x1="300.30" y1="136.3" x2="300.30" y2="191.3" stroke="#8a8a8a" stroke-width="1.3"/><line x1="357.02" y1="136.3" x2="357.02" y2="191.3" stroke="#8a8a8a" stroke-width="1.3"/><line x1="413.74" y1="136.3" x2="413.74" y2="191.3" stroke="#8a8a8a" stroke-width="1.3"/><line x1="470.46" y1="136.3" x2="470.46" y2="191.3" stroke="#8a8a8a" stroke-width="1.3"/><line x1="527.18" y1="136.3" x2="527.18" y2="191.3" stroke="#8a8a8a" stroke-width="1.3"/><line x1="583.90" y1="136.3" x2="583.90" y2="191.3" stroke="#8a8a8a" stroke-width="1.3"/><line x1="640.62" y1="136.3" x2="640.62" y2="191.3" stroke="#8a8a8a" stroke-width="1.3"/><line x1="697.34" y1="136.3" x2="697.34" y2="191.3" stroke="#8a8a8a" stroke-width="1.3"/><text transform="translate(12,165) rotate(-90)" font-family="Liberation Serif" font-size="15" fill="#111" text-anchor="middle">Δ Z</text><g clip-path="url(#hc0_0)"><g filter="url(#cmap)"><rect x="17.50" y="208.10" width="55.00" height="39.40" fill="#808080"/><path d="M34.00,212.10 L56.00,212.10 C62.25,212.10 68.50,218.60 68.50,225.10 L68.50,236.50 C68.50,239.44 61.54,243.50 56.50,243.50 L33.50,243.50 C28.46,243.50 21.50,239.44 21.50,236.50 L21.50,225.10 C21.50,218.60 27.75,212.10 34.00,212.10 Z" fill="none" stroke="#868686" stroke-width="4.5"/><ellipse cx="35.60" cy="229.37" rx="8.75" ry="10.62" fill="url(#rg80)"/><ellipse cx="52.99" cy="225.92" rx="8.75" ry="10.62" fill="url(#rg70)"/><ellipse cx="45.00" cy="227.80" rx="12.50" ry="7.50" fill="url(#rg105)"/><ellipse cx="62.86" cy="240.36" rx="5.00" ry="3.75" fill="url(#rg146)"/><ellipse cx="26.20" cy="240.36" rx="5.00" ry="3.75" fill="url(#rg143)"/></g></g><line x1="21.50" y1="227.40" x2="68.50" y2="227.40" stroke="#f2f2f2" stroke-width="1.5"/><line x1="48.80" y1="220.80" x2="48.80" y2="234.00" stroke="#f2f2f2" stroke-width="1.5"/><g clip-path="url(#hc1_0)"><g filter="url(#cmap)"><rect x="74.22" y="208.10" width="55.00" height="39.40" fill="#808080"/><path d="M90.72,212.10 L112.72,212.10 C118.97,212.10 125.22,218.60 125.22,225.10 L125.22,236.50 C125.22,239.44 118.26,243.50 113.22,243.50 L90.22,243.50 C85.18,243.50 78.22,239.44 78.22,236.50 L78.22,225.10 C78.22,218.60 84.47,212.10 90.72,212.10 Z" fill="none" stroke="#939393" stroke-width="4.5"/><ellipse cx="81.51" cy="230.94" rx="3.12" ry="10.00" fill="url(#rg152)"/><ellipse cx="89.73" cy="230.00" rx="6.25" ry="12.50" fill="url(#rg67)"/><ellipse cx="107.83" cy="226.23" rx="8.75" ry="15.62" fill="url(#rg38)"/><ellipse cx="120.52" cy="230.00" rx="3.12" ry="8.12" fill="url(#rg170)"/><ellipse cx="115.82" cy="213.67" rx="10.00" ry="3.12" fill="url(#rg158)"/></g></g><line x1="78.22" y1="229.70" x2="125.22" y2="229.70" stroke="#f2f2f2" stroke-width="1.5"/><line x1="107.00" y1="223.10" x2="107.00" y2="236.30" stroke="#f2f2f2" stroke-width="1.5"/><g clip-path="url(#hc2_0)"><g filter="url(#cmap)"><rect x="130.94" y="208.10" width="55.00" height="39.40" fill="#808080"/><path d="M147.44,212.10 L169.44,212.10 C175.69,212.10 181.94,218.60 181.94,225.10 L181.94,236.50 C181.94,239.44 174.98,243.50 169.94,243.50 L146.94,243.50 C141.90,243.50 134.94,239.44 134.94,236.50 L134.94,225.10 C134.94,218.60 141.19,212.10 147.44,212.10 Z" fill="none" stroke="#939393" stroke-width="4.5"/><ellipse cx="138.23" cy="229.37" rx="3.12" ry="11.25" fill="url(#rg164)"/><ellipse cx="149.04" cy="229.37" rx="5.00" ry="12.50" fill="url(#rg77)"/><ellipse cx="165.02" cy="227.17" rx="6.88" ry="15.00" fill="url(#rg32)"/><ellipse cx="156.56" cy="228.43" rx="3.12" ry="13.75" fill="url(#rg180)"/><ellipse cx="177.24" cy="230.31" rx="3.75" ry="10.00" fill="url(#rg176)"/></g></g><line x1="134.94" y1="229.50" x2="181.94" y2="229.50" stroke="#f2f2f2" stroke-width="1.5"/><line x1="164.50" y1="222.90" x2="164.50" y2="236.10" stroke="#f2f2f2" stroke-width="1.5"/><g clip-path="url(#hc3_0)"><g filter="url(#cmap)"><rect x="187.66" y="208.10" width="55.00" height="39.40" fill="#808080"/><path d="M204.16,212.10 L226.16,212.10 C232.41,212.10 238.66,218.60 238.66,225.10 L238.66,236.50 C238.66,239.44 231.70,243.50 226.66,243.50 L203.66,243.50 C198.62,243.50 191.66,239.44 191.66,236.50 L191.66,225.10 C191.66,218.60 197.91,212.10 204.16,212.10 Z" fill="none" stroke="#939393" stroke-width="4.5"/><ellipse cx="194.95" cy="229.37" rx="3.12" ry="11.25" fill="url(#rg164)"/><ellipse cx="205.76" cy="229.37" rx="5.00" ry="12.50" fill="url(#rg77)"/><ellipse cx="221.74" cy="227.17" rx="6.88" ry="15.00" fill="url(#rg32)"/><ellipse cx="213.28" cy="228.43" rx="3.12" ry="13.75" fill="url(#rg180)"/><ellipse cx="233.96" cy="230.31" rx="3.75" ry="10.00" fill="url(#rg176)"/></g></g><line x1="191.66" y1="229.50" x2="238.66" y2="229.50" stroke="#f2f2f2" stroke-width="1.5"/><line x1="221.40" y1="222.90" x2="221.40" y2="236.10" stroke="#f2f2f2" stroke-width="1.5"/><g clip-path="url(#hc4_0)"><g filter="url(#cmap)"><rect x="244.38" y="208.10" width="55.00" height="39.40" fill="#808080"/><path d="M260.88,212.10 L282.88,212.10 C289.13,212.10 295.38,218.60 295.38,225.10 L295.38,236.50 C295.38,239.44 288.42,243.50 283.38,243.50 L260.38,243.50 C255.34,243.50 248.38,239.44 248.38,236.50 L248.38,225.10 C248.38,218.60 254.63,212.10 260.88,212.10 Z" fill="none" stroke="#939393" stroke-width="4.5"/><ellipse cx="251.67" cy="229.37" rx="3.12" ry="11.25" fill="url(#rg164)"/><ellipse cx="262.48" cy="229.37" rx="5.00" ry="12.50" fill="url(#rg77)"/><ellipse cx="278.46" cy="227.17" rx="6.88" ry="15.00" fill="url(#rg32)"/><ellipse cx="270.00" cy="228.43" rx="3.12" ry="13.75" fill="url(#rg180)"/><ellipse cx="290.68" cy="230.31" rx="3.75" ry="10.00" fill="url(#rg176)"/></g></g><line x1="248.38" y1="229.50" x2="295.38" y2="229.50" stroke="#f2f2f2" stroke-width="1.5"/><line x1="278.10" y1="222.90" x2="278.10" y2="236.10" stroke="#f2f2f2" stroke-width="1.5"/><g clip-path="url(#hc5_0)"><g filter="url(#cmap)"><rect x="301.10" y="208.10" width="55.00" height="39.40" fill="#808080"/><path d="M317.60,212.10 L339.60,212.10 C345.85,212.10 352.10,218.60 352.10,225.10 L352.10,236.50 C352.10,239.44 345.14,243.50 340.10,243.50 L317.10,243.50 C312.06,243.50 305.10,239.44 305.10,236.50 L305.10,225.10 C305.10,218.60 311.35,212.10 317.60,212.10 Z" fill="none" stroke="#939393" stroke-width="4.5"/><ellipse cx="308.39" cy="229.37" rx="3.12" ry="11.25" fill="url(#rg164)"/><ellipse cx="319.20" cy="229.37" rx="5.00" ry="12.50" fill="url(#rg77)"/><ellipse cx="335.18" cy="227.17" rx="6.88" ry="15.00" fill="url(#rg32)"/><ellipse cx="326.72" cy="228.43" rx="3.12" ry="13.75" fill="url(#rg180)"/><ellipse cx="347.40" cy="230.31" rx="3.75" ry="10.00" fill="url(#rg176)"/></g></g><line x1="305.10" y1="229.50" x2="352.10" y2="229.50" stroke="#f2f2f2" stroke-width="1.5"/><line x1="334.70" y1="222.90" x2="334.70" y2="236.10" stroke="#f2f2f2" stroke-width="1.5"/><g clip-path="url(#hc6_0)"><g filter="url(#cmap)"><rect x="357.82" y="208.10" width="55.00" height="39.40" fill="#808080"/><path d="M374.32,212.10 L396.32,212.10 C402.57,212.10 408.82,218.60 408.82,225.10 L408.82,236.50 C408.82,239.44 401.86,243.50 396.82,243.50 L373.82,243.50 C368.78,243.50 361.82,239.44 361.82,236.50 L361.82,225.10 C361.82,218.60 368.07,212.10 374.32,212.10 Z" fill="none" stroke="#939393" stroke-width="4.5"/><ellipse cx="365.11" cy="229.37" rx="3.12" ry="11.25" fill="url(#rg164)"/><ellipse cx="375.92" cy="229.37" rx="5.00" ry="12.50" fill="url(#rg77)"/><ellipse cx="391.90" cy="227.17" rx="6.88" ry="15.00" fill="url(#rg32)"/><ellipse cx="383.44" cy="228.43" rx="3.12" ry="13.75" fill="url(#rg180)"/><ellipse cx="404.12" cy="230.31" rx="3.75" ry="10.00" fill="url(#rg176)"/></g></g><line x1="361.82" y1="230.00" x2="408.82" y2="230.00" stroke="#f2f2f2" stroke-width="1.5"/><line x1="391.80" y1="223.40" x2="391.80" y2="236.60" stroke="#f2f2f2" stroke-width="1.5"/><g clip-path="url(#hc7_0)"><g filter="url(#cmap)"><rect x="414.54" y="208.10" width="55.00" height="39.40" fill="#808080"/><path d="M431.04,212.10 L453.04,212.10 C459.29,212.10 465.54,218.60 465.54,225.10 L465.54,236.50 C465.54,239.44 458.58,243.50 453.54,243.50 L430.54,243.50 C425.50,243.50 418.54,239.44 418.54,236.50 L418.54,225.10 C418.54,218.60 424.79,212.10 431.04,212.10 Z" fill="none" stroke="#939393" stroke-width="4.5"/><ellipse cx="421.83" cy="229.37" rx="3.12" ry="11.25" fill="url(#rg164)"/><ellipse cx="441.10" cy="227.80" rx="16.88" ry="15.62" fill="url(#rg38)"/><ellipse cx="448.62" cy="227.80" rx="5.62" ry="12.50" fill="url(#rg0)"/><ellipse cx="440.16" cy="229.06" rx="5.62" ry="11.25" fill="url(#rg195)"/><ellipse cx="462.01" cy="230.00" rx="3.75" ry="8.12" fill="url(#rg201)"/></g></g><line x1="418.54" y1="229.40" x2="465.54" y2="229.40" stroke="#f2f2f2" stroke-width="1.5"/><line x1="447.60" y1="222.80" x2="447.60" y2="236.00" stroke="#f2f2f2" stroke-width="1.5"/><g clip-path="url(#hc8_0)"><g filter="url(#cmap)"><rect x="471.26" y="208.10" width="55.00" height="39.40" fill="#808080"/><path d="M487.76,212.10 L509.76,212.10 C516.01,212.10 522.26,218.60 522.26,225.10 L522.26,236.50 C522.26,239.44 515.30,243.50 510.26,243.50 L487.26,243.50 C482.22,243.50 475.26,239.44 475.26,236.50 L475.26,225.10 C475.26,218.60 481.51,212.10 487.76,212.10 Z" fill="none" stroke="#939393" stroke-width="4.5"/><ellipse cx="479.02" cy="229.37" rx="3.12" ry="11.25" fill="url(#rg168)"/><ellipse cx="498.76" cy="227.80" rx="15.00" ry="14.38" fill="url(#rg50)"/><ellipse cx="505.81" cy="226.54" rx="6.25" ry="13.12" fill="url(#rg26)"/><ellipse cx="497.35" cy="229.06" rx="5.62" ry="11.88" fill="url(#rg195)"/><ellipse cx="518.03" cy="230.00" rx="3.75" ry="8.75" fill="url(#rg181)"/></g></g><line x1="475.26" y1="229.50" x2="522.26" y2="229.50" stroke="#f2f2f2" stroke-width="1.5"/><line x1="504.50" y1="222.90" x2="504.50" y2="236.10" stroke="#f2f2f2" stroke-width="1.5"/><g clip-path="url(#hc9_0)"><g filter="url(#cmap)"><rect x="527.98" y="208.10" width="55.00" height="39.40" fill="#808080"/><path d="M544.48,212.10 L566.48,212.10 C572.73,212.10 578.98,218.60 578.98,225.10 L578.98,236.50 C578.98,239.44 572.02,243.50 566.98,243.50 L543.98,243.50 C538.94,243.50 531.98,239.44 531.98,236.50 L531.98,225.10 C531.98,218.60 538.23,212.10 544.48,212.10 Z" fill="none" stroke="#939393" stroke-width="4.5"/><ellipse cx="535.74" cy="229.37" rx="3.12" ry="11.25" fill="url(#rg166)"/><ellipse cx="555.48" cy="227.80" rx="15.00" ry="14.38" fill="url(#rg54)"/><ellipse cx="562.53" cy="226.54" rx="6.25" ry="13.12" fill="url(#rg30)"/><ellipse cx="554.07" cy="229.06" rx="5.62" ry="11.88" fill="url(#rg192)"/><ellipse cx="574.75" cy="230.00" rx="3.75" ry="8.75" fill="url(#rg179)"/></g></g><line x1="531.98" y1="229.60" x2="578.98" y2="229.60" stroke="#f2f2f2" stroke-width="1.5"/><line x1="561.40" y1="223.00" x2="561.40" y2="236.20" stroke="#f2f2f2" stroke-width="1.5"/><g clip-path="url(#hc10_0)"><g filter="url(#cmap)"><rect x="584.70" y="208.10" width="55.00" height="39.40" fill="#808080"/><path d="M601.20,212.10 L623.20,212.10 C629.45,212.10 635.70,218.60 635.70,225.10 L635.70,236.50 C635.70,239.44 628.74,243.50 623.70,243.50 L600.70,243.50 C595.66,243.50 588.70,239.44 588.70,236.50 L588.70,225.10 C588.70,218.60 594.95,212.10 601.20,212.10 Z" fill="none" stroke="#939393" stroke-width="4.5"/><ellipse cx="592.46" cy="229.37" rx="3.12" ry="11.25" fill="url(#rg164)"/><ellipse cx="612.20" cy="227.80" rx="15.00" ry="14.38" fill="url(#rg57)"/><ellipse cx="619.25" cy="226.54" rx="6.25" ry="13.12" fill="url(#rg35)"/><ellipse cx="610.79" cy="229.06" rx="5.62" ry="11.88" fill="url(#rg189)"/><ellipse cx="631.47" cy="230.00" rx="3.75" ry="8.75" fill="url(#rg176)"/></g></g><line x1="588.70" y1="229.75" x2="635.70" y2="229.75" stroke="#f2f2f2" stroke-width="1.5"/><line x1="618.70" y1="223.15" x2="618.70" y2="236.35" stroke="#f2f2f2" stroke-width="1.5"/><g clip-path="url(#hc11_0)"><g filter="url(#cmap)"><rect x="641.42" y="208.10" width="55.00" height="39.40" fill="#808080"/><path d="M657.92,212.10 L679.92,212.10 C686.17,212.10 692.42,218.60 692.42,225.10 L692.42,236.50 C692.42,239.44 685.46,243.50 680.42,243.50 L657.42,243.50 C652.38,243.50 645.42,239.44 645.42,236.50 L645.42,225.10 C645.42,218.60 651.67,212.10 657.92,212.10 Z" fill="none" stroke="#939393" stroke-width="4.5"/><ellipse cx="648.71" cy="229.37" rx="3.12" ry="11.25" fill="url(#rg164)"/><ellipse cx="659.52" cy="229.37" rx="5.00" ry="12.50" fill="url(#rg77)"/><ellipse cx="675.50" cy="227.17" rx="6.88" ry="15.00" fill="url(#rg32)"/><ellipse cx="667.04" cy="228.43" rx="3.12" ry="13.75" fill="url(#rg180)"/><ellipse cx="687.72" cy="230.31" rx="3.75" ry="10.00" fill="url(#rg176)"/></g></g><line x1="645.42" y1="229.75" x2="692.42" y2="229.75" stroke="#f2f2f2" stroke-width="1.5"/><line x1="675.60" y1="223.15" x2="675.60" y2="236.35" stroke="#f2f2f2" stroke-width="1.5"/><g clip-path="url(#hc12_0)"><g filter="url(#cmap)"><rect x="698.14" y="208.10" width="55.00" height="39.40" fill="#808080"/><path d="M714.64,212.10 L736.64,212.10 C742.89,212.10 749.14,218.60 749.14,225.10 L749.14,236.50 C749.14,239.44 742.18,243.50 737.14,243.50 L714.14,243.50 C709.10,243.50 702.14,239.44 702.14,236.50 L702.14,225.10 C702.14,218.60 708.39,212.10 714.64,212.10 Z" fill="none" stroke="#939393" stroke-width="4.5"/><ellipse cx="705.43" cy="229.37" rx="3.12" ry="11.25" fill="url(#rg164)"/><ellipse cx="716.24" cy="229.68" rx="6.25" ry="13.12" fill="url(#rg64)"/><ellipse cx="733.87" cy="226.54" rx="8.75" ry="15.00" fill="url(#rg32)"/><ellipse cx="723.76" cy="228.43" rx="1.88" ry="10.00" fill="url(#rg146)"/><ellipse cx="745.38" cy="230.94" rx="3.12" ry="7.50" fill="url(#rg173)"/></g></g><line x1="702.14" y1="227.50" x2="749.14" y2="227.50" stroke="#f2f2f2" stroke-width="1.5"/><line x1="732.60" y1="220.90" x2="732.60" y2="234.10" stroke="#f2f2f2" stroke-width="1.5"/><g clip-path="url(#hc0_1)"><g filter="url(#cmap)"><rect x="17.50" y="244.00" width="55.00" height="39.40" fill="#808080"/><path d="M34.00,248.00 L56.00,248.00 C62.25,248.00 68.50,254.50 68.50,261.00 L68.50,272.40 C68.50,275.34 61.54,279.40 56.50,279.40 L33.50,279.40 C28.46,279.40 21.50,275.34 21.50,272.40 L21.50,261.00 C21.50,254.50 27.75,248.00 34.00,248.00 Z" fill="none" stroke="#868686" stroke-width="4"/><ellipse cx="32.31" cy="266.21" rx="6.88" ry="10.62" fill="url(#rg73)" transform="rotate(-10 32.31 266.21)"/><ellipse cx="57.22" cy="263.70" rx="6.88" ry="11.25" fill="url(#rg64)"/><polygon points="40.30,248.00 49.70,248.00 45.94,276.26 44.06,276.26" fill="#919191"/><ellipse cx="45.00" cy="277.83" rx="10.00" ry="3.12" fill="url(#rg146)"/></g></g><line x1="21.50" y1="264.80" x2="68.50" y2="264.80" stroke="#f2f2f2" stroke-width="1.5"/><line x1="52.70" y1="258.20" x2="52.70" y2="271.40" stroke="#f2f2f2" stroke-width="1.5"/><g clip-path="url(#hc1_1)"><g filter="url(#cmap)"><rect x="74.22" y="244.00" width="55.00" height="39.40" fill="#808080"/><path d="M90.72,248.00 L112.72,248.00 C118.97,248.00 125.22,254.50 125.22,261.00 L125.22,272.40 C125.22,275.34 118.26,279.40 113.22,279.40 L90.22,279.40 C85.18,279.40 78.22,275.34 78.22,272.40 L78.22,261.00 C78.22,254.50 84.47,248.00 90.72,248.00 Z" fill="none" stroke="#919191" stroke-width="4"/><polygon points="91.38,248.00 110.18,248.00 101.72,276.89 98.90,276.89" fill="#9e9e9e"/><ellipse cx="101.72" cy="250.51" rx="11.25" ry="5.00" fill="url(#rg170)"/><ellipse cx="82.92" cy="254.28" rx="5.00" ry="5.00" fill="url(#rg158)"/><ellipse cx="90.44" cy="267.47" rx="5.62" ry="10.62" fill="url(#rg67)" transform="rotate(-20 90.44 267.47)"/><ellipse cx="109.00" cy="263.07" rx="6.25" ry="12.50" fill="url(#rg32)"/><ellipse cx="100.08" cy="265.27" rx="3.12" ry="13.75" fill="url(#rg180)"/></g></g><line x1="78.22" y1="266.00" x2="125.22" y2="266.00" stroke="#f2f2f2" stroke-width="1.5"/><line x1="107.20" y1="259.40" x2="107.20" y2="272.60" stroke="#f2f2f2" stroke-width="1.5"/><g clip-path="url(#hc2_1)"><g filter="url(#cmap)"><rect x="130.94" y="244.00" width="55.00" height="39.40" fill="#808080"/><path d="M147.44,248.00 L169.44,248.00 C175.69,248.00 181.94,254.50 181.94,261.00 L181.94,272.40 C181.94,275.34 174.98,279.40 169.94,279.40 L146.94,279.40 C141.90,279.40 134.94,275.34 134.94,272.40 L134.94,261.00 C134.94,254.50 141.19,248.00 147.44,248.00 Z" fill="none" stroke="#919191" stroke-width="4"/><polygon points="148.10,248.00 166.90,248.00 158.44,276.89 155.62,276.89" fill="#9e9e9e"/><ellipse cx="158.44" cy="250.51" rx="11.25" ry="5.00" fill="url(#rg170)"/><ellipse cx="139.64" cy="254.28" rx="5.00" ry="5.00" fill="url(#rg158)"/><ellipse cx="147.16" cy="267.47" rx="5.62" ry="10.62" fill="url(#rg67)" transform="rotate(-20 147.16 267.47)"/><ellipse cx="165.72" cy="263.07" rx="6.25" ry="12.50" fill="url(#rg32)"/><ellipse cx="156.79" cy="265.27" rx="3.12" ry="13.75" fill="url(#rg180)"/></g></g><line x1="134.94" y1="265.00" x2="181.94" y2="265.00" stroke="#f2f2f2" stroke-width="1.5"/><line x1="163.60" y1="258.40" x2="163.60" y2="271.60" stroke="#f2f2f2" stroke-width="1.5"/><g clip-path="url(#hc3_1)"><g filter="url(#cmap)"><rect x="187.66" y="244.00" width="55.00" height="39.40" fill="#808080"/><path d="M204.16,248.00 L226.16,248.00 C232.41,248.00 238.66,254.50 238.66,261.00 L238.66,272.40 C238.66,275.34 231.70,279.40 226.66,279.40 L203.66,279.40 C198.62,279.40 191.66,275.34 191.66,272.40 L191.66,261.00 C191.66,254.50 197.91,248.00 204.16,248.00 Z" fill="none" stroke="#919191" stroke-width="4"/><polygon points="204.82,248.00 223.62,248.00 215.16,276.89 212.34,276.89" fill="#9e9e9e"/><ellipse cx="215.16" cy="250.51" rx="11.25" ry="5.00" fill="url(#rg170)"/><ellipse cx="196.36" cy="254.28" rx="5.00" ry="5.00" fill="url(#rg158)"/><ellipse cx="203.88" cy="267.47" rx="5.62" ry="10.62" fill="url(#rg67)" transform="rotate(-20 203.88 267.47)"/><ellipse cx="222.44" cy="263.07" rx="6.25" ry="12.50" fill="url(#rg32)"/><ellipse cx="213.51" cy="265.27" rx="3.12" ry="13.75" fill="url(#rg180)"/></g></g><line x1="191.66" y1="265.00" x2="238.66" y2="265.00" stroke="#f2f2f2" stroke-width="1.5"/><line x1="220.60" y1="258.40" x2="220.60" y2="271.60" stroke="#f2f2f2" stroke-width="1.5"/><g clip-path="url(#hc4_1)"><g filter="url(#cmap)"><rect x="244.38" y="244.00" width="55.00" height="39.40" fill="#808080"/><path d="M260.88,248.00 L282.88,248.00 C289.13,248.00 295.38,254.50 295.38,261.00 L295.38,272.40 C295.38,275.34 288.42,279.40 283.38,279.40 L260.38,279.40 C255.34,279.40 248.38,275.34 248.38,272.40 L248.38,261.00 C248.38,254.50 254.63,248.00 260.88,248.00 Z" fill="none" stroke="#919191" stroke-width="4"/><polygon points="261.54,248.00 280.34,248.00 271.88,276.89 269.06,276.89" fill="#9e9e9e"/><ellipse cx="271.88" cy="250.51" rx="11.25" ry="5.00" fill="url(#rg170)"/><ellipse cx="253.08" cy="254.28" rx="5.00" ry="5.00" fill="url(#rg158)"/><ellipse cx="260.60" cy="267.47" rx="5.62" ry="10.62" fill="url(#rg67)" transform="rotate(-20 260.60 267.47)"/><ellipse cx="279.17" cy="263.07" rx="6.25" ry="12.50" fill="url(#rg32)"/><ellipse cx="270.24" cy="265.27" rx="3.12" ry="13.75" fill="url(#rg180)"/></g></g><line x1="248.38" y1="265.00" x2="295.38" y2="265.00" stroke="#f2f2f2" stroke-width="1.5"/><line x1="277.20" y1="258.40" x2="277.20" y2="271.60" stroke="#f2f2f2" stroke-width="1.5"/><g clip-path="url(#hc5_1)"><g filter="url(#cmap)"><rect x="301.10" y="244.00" width="55.00" height="39.40" fill="#808080"/><path d="M317.60,248.00 L339.60,248.00 C345.85,248.00 352.10,254.50 352.10,261.00 L352.10,272.40 C352.10,275.34 345.14,279.40 340.10,279.40 L317.10,279.40 C312.06,279.40 305.10,275.34 305.10,272.40 L305.10,261.00 C305.10,254.50 311.35,248.00 317.60,248.00 Z" fill="none" stroke="#919191" stroke-width="4"/><polygon points="318.26,248.00 337.06,248.00 328.60,276.89 325.78,276.89" fill="#9e9e9e"/><ellipse cx="328.60" cy="250.51" rx="11.25" ry="5.00" fill="url(#rg170)"/><ellipse cx="309.80" cy="254.28" rx="5.00" ry="5.00" fill="url(#rg158)"/><ellipse cx="317.32" cy="267.47" rx="5.62" ry="10.62" fill="url(#rg67)" transform="rotate(-20 317.32 267.47)"/><ellipse cx="335.89" cy="263.07" rx="6.25" ry="12.50" fill="url(#rg32)"/><ellipse cx="326.96" cy="265.27" rx="3.12" ry="13.75" fill="url(#rg180)"/></g></g><line x1="305.10" y1="265.00" x2="352.10" y2="265.00" stroke="#f2f2f2" stroke-width="1.5"/><line x1="333.60" y1="258.40" x2="333.60" y2="271.60" stroke="#f2f2f2" stroke-width="1.5"/><g clip-path="url(#hc6_1)"><g filter="url(#cmap)"><rect x="357.82" y="244.00" width="55.00" height="39.40" fill="#808080"/><path d="M374.32,248.00 L396.32,248.00 C402.57,248.00 408.82,254.50 408.82,261.00 L408.82,272.40 C408.82,275.34 401.86,279.40 396.82,279.40 L373.82,279.40 C368.78,279.40 361.82,275.34 361.82,272.40 L361.82,261.00 C361.82,254.50 368.07,248.00 374.32,248.00 Z" fill="none" stroke="#919191" stroke-width="4"/><polygon points="374.98,248.00 393.78,248.00 385.32,276.89 382.50,276.89" fill="#9e9e9e"/><ellipse cx="385.32" cy="250.51" rx="11.25" ry="5.00" fill="url(#rg170)"/><ellipse cx="366.52" cy="254.28" rx="5.00" ry="5.00" fill="url(#rg158)"/><ellipse cx="374.04" cy="267.47" rx="5.62" ry="10.62" fill="url(#rg67)" transform="rotate(-20 374.04 267.47)"/><ellipse cx="392.61" cy="263.07" rx="6.25" ry="12.50" fill="url(#rg32)"/><ellipse cx="383.68" cy="265.27" rx="3.12" ry="13.75" fill="url(#rg180)"/></g></g><line x1="361.82" y1="264.70" x2="408.82" y2="264.70" stroke="#f2f2f2" stroke-width="1.5"/><line x1="390.10" y1="258.10" x2="390.10" y2="271.30" stroke="#f2f2f2" stroke-width="1.5"/><g clip-path="url(#hc7_1)"><g filter="url(#cmap)"><rect x="414.54" y="244.00" width="55.00" height="39.40" fill="#808080"/><path d="M431.04,248.00 L453.04,248.00 C459.29,248.00 465.54,254.50 465.54,261.00 L465.54,272.40 C465.54,275.34 458.58,279.40 453.54,279.40 L430.54,279.40 C425.50,279.40 418.54,275.34 418.54,272.40 L418.54,261.00 C418.54,254.50 424.79,248.00 431.04,248.00 Z" fill="none" stroke="#919191" stroke-width="4"/><polygon points="432.64,248.00 447.68,248.00 442.04,277.83 438.75,277.83" fill="#a3a3a3"/><ellipse cx="439.69" cy="250.51" rx="8.75" ry="4.38" fill="url(#rg176)"/><ellipse cx="430.29" cy="265.27" rx="8.75" ry="13.75" fill="url(#rg6)" transform="rotate(-18 430.29 265.27)"/><ellipse cx="450.03" cy="262.76" rx="8.75" ry="14.38" fill="url(#rg0)"/><ellipse cx="440.39" cy="263.70" rx="3.12" ry="16.25" fill="url(#rg201)"/></g></g><line x1="418.54" y1="264.70" x2="465.54" y2="264.70" stroke="#f2f2f2" stroke-width="1.5"/><line x1="448.40" y1="258.10" x2="448.40" y2="271.30" stroke="#f2f2f2" stroke-width="1.5"/><g clip-path="url(#hc8_1)"><g filter="url(#cmap)"><rect x="471.26" y="244.00" width="55.00" height="39.40" fill="#808080"/><path d="M487.76,248.00 L509.76,248.00 C516.01,248.00 522.26,254.50 522.26,261.00 L522.26,272.40 C522.26,275.34 515.30,279.40 510.26,279.40 L487.26,279.40 C482.22,279.40 475.26,275.34 475.26,272.40 L475.26,261.00 C475.26,254.50 481.51,248.00 487.76,248.00 Z" fill="none" stroke="#919191" stroke-width="4"/><polygon points="488.42,248.00 507.22,248.00 498.76,276.89 495.94,276.89" fill="#a1a1a1"/><ellipse cx="498.76" cy="250.51" rx="11.25" ry="5.00" fill="url(#rg175)"/><ellipse cx="479.96" cy="254.28" rx="5.00" ry="5.00" fill="url(#rg161)"/><ellipse cx="487.48" cy="267.47" rx="5.62" ry="10.62" fill="url(#rg61)" transform="rotate(-20 487.48 267.47)"/><ellipse cx="506.05" cy="263.07" rx="6.25" ry="12.50" fill="url(#rg22)"/><ellipse cx="497.12" cy="265.27" rx="3.12" ry="13.75" fill="url(#rg185)"/></g></g><line x1="475.26" y1="265.20" x2="522.26" y2="265.20" stroke="#f2f2f2" stroke-width="1.5"/><line x1="503.90" y1="258.60" x2="503.90" y2="271.80" stroke="#f2f2f2" stroke-width="1.5"/><g clip-path="url(#hc9_1)"><g filter="url(#cmap)"><rect x="527.98" y="244.00" width="55.00" height="39.40" fill="#808080"/><path d="M544.48,248.00 L566.48,248.00 C572.73,248.00 578.98,254.50 578.98,261.00 L578.98,272.40 C578.98,275.34 572.02,279.40 566.98,279.40 L543.98,279.40 C538.94,279.40 531.98,275.34 531.98,272.40 L531.98,261.00 C531.98,254.50 538.23,248.00 544.48,248.00 Z" fill="none" stroke="#919191" stroke-width="4"/><polygon points="545.14,248.00 563.94,248.00 555.48,276.89 552.66,276.89" fill="#a0a0a0"/><ellipse cx="555.48" cy="250.51" rx="11.25" ry="5.00" fill="url(#rg172)"/><ellipse cx="536.68" cy="254.28" rx="5.00" ry="5.00" fill="url(#rg160)"/><ellipse cx="544.20" cy="267.47" rx="5.62" ry="10.62" fill="url(#rg64)" transform="rotate(-20 544.20 267.47)"/><ellipse cx="562.76" cy="263.07" rx="6.25" ry="12.50" fill="url(#rg27)"/><ellipse cx="553.84" cy="265.27" rx="3.12" ry="13.75" fill="url(#rg182)"/></g></g><line x1="531.98" y1="265.60" x2="578.98" y2="265.60" stroke="#f2f2f2" stroke-width="1.5"/><line x1="560.60" y1="259.00" x2="560.60" y2="272.20" stroke="#f2f2f2" stroke-width="1.5"/><g clip-path="url(#hc10_1)"><g filter="url(#cmap)"><rect x="584.70" y="244.00" width="55.00" height="39.40" fill="#808080"/><path d="M601.20,248.00 L623.20,248.00 C629.45,248.00 635.70,254.50 635.70,261.00 L635.70,272.40 C635.70,275.34 628.74,279.40 623.70,279.40 L600.70,279.40 C595.66,279.40 588.70,275.34 588.70,272.40 L588.70,261.00 C588.70,254.50 594.95,248.00 601.20,248.00 Z" fill="none" stroke="#919191" stroke-width="4"/><polygon points="601.86,248.00 620.66,248.00 612.20,276.89 609.38,276.89" fill="#9e9e9e"/><ellipse cx="612.20" cy="250.51" rx="11.25" ry="5.00" fill="url(#rg170)"/><ellipse cx="593.40" cy="254.28" rx="5.00" ry="5.00" fill="url(#rg158)"/><ellipse cx="600.92" cy="267.47" rx="5.62" ry="10.62" fill="url(#rg67)" transform="rotate(-20 600.92 267.47)"/><ellipse cx="619.49" cy="263.07" rx="6.25" ry="12.50" fill="url(#rg32)"/><ellipse cx="610.56" cy="265.27" rx="3.12" ry="13.75" fill="url(#rg180)"/></g></g><line x1="588.70" y1="266.50" x2="635.70" y2="266.50" stroke="#f2f2f2" stroke-width="1.5"/><line x1="617.10" y1="259.90" x2="617.10" y2="273.10" stroke="#f2f2f2" stroke-width="1.5"/><g clip-path="url(#hc11_1)"><g filter="url(#cmap)"><rect x="641.42" y="244.00" width="55.00" height="39.40" fill="#808080"/><path d="M657.92,248.00 L679.92,248.00 C686.17,248.00 692.42,254.50 692.42,261.00 L692.42,272.40 C692.42,275.34 685.46,279.40 680.42,279.40 L657.42,279.40 C652.38,279.40 645.42,275.34 645.42,272.40 L645.42,261.00 C645.42,254.50 651.67,248.00 657.92,248.00 Z" fill="none" stroke="#919191" stroke-width="4"/><polygon points="658.58,248.00 677.38,248.00 668.92,276.89 666.10,276.89" fill="#9e9e9e"/><ellipse cx="668.92" cy="250.51" rx="11.25" ry="5.00" fill="url(#rg170)"/><ellipse cx="650.12" cy="254.28" rx="5.00" ry="5.00" fill="url(#rg158)"/><ellipse cx="657.64" cy="267.47" rx="5.62" ry="10.62" fill="url(#rg67)" transform="rotate(-20 657.64 267.47)"/><ellipse cx="676.20" cy="263.07" rx="6.25" ry="12.50" fill="url(#rg32)"/><ellipse cx="667.27" cy="265.27" rx="3.12" ry="13.75" fill="url(#rg180)"/></g></g><line x1="645.42" y1="266.50" x2="692.42" y2="266.50" stroke="#f2f2f2" stroke-width="1.5"/><line x1="672.30" y1="259.90" x2="672.30" y2="273.10" stroke="#f2f2f2" stroke-width="1.5"/><g clip-path="url(#hc12_1)"><g filter="url(#cmap)"><rect x="698.14" y="244.00" width="55.00" height="39.40" fill="#808080"/><path d="M714.64,248.00 L736.64,248.00 C742.89,248.00 749.14,254.50 749.14,261.00 L749.14,272.40 C749.14,275.34 742.18,279.40 737.14,279.40 L714.14,279.40 C709.10,279.40 702.14,275.34 702.14,272.40 L702.14,261.00 C702.14,254.50 708.39,248.00 714.64,248.00 Z" fill="none" stroke="#919191" stroke-width="4"/><polygon points="717.65,248.00 731.28,248.00 725.64,276.89 723.29,276.89" fill="#999999"/><ellipse cx="723.76" cy="250.51" rx="8.75" ry="4.38" fill="url(#rg158)"/><ellipse cx="712.48" cy="266.21" rx="7.50" ry="11.88" fill="url(#rg64)" transform="rotate(-25 712.48 266.21)"/><ellipse cx="735.04" cy="263.70" rx="8.12" ry="13.75" fill="url(#rg32)"/><ellipse cx="724.70" cy="265.27" rx="2.75" ry="15.00" fill="url(#rg176)"/></g></g><line x1="702.14" y1="264.70" x2="749.14" y2="264.70" stroke="#f2f2f2" stroke-width="1.5"/><line x1="732.60" y1="258.10" x2="732.60" y2="271.30" stroke="#f2f2f2" stroke-width="1.5"/><g clip-path="url(#hc0_2)"><g filter="url(#cmap)"><rect x="17.50" y="280.50" width="55.00" height="39.40" fill="#808080"/><path d="M34.00,284.50 L56.00,284.50 C62.25,284.50 68.50,291.00 68.50,297.50 L68.50,308.90 C68.50,311.84 61.54,315.90 56.50,315.90 L33.50,315.90 C28.46,315.90 21.50,311.84 21.50,308.90 L21.50,297.50 C21.50,291.00 27.75,284.50 34.00,284.50 Z" fill="none" stroke="#868686" stroke-width="3.5"/><ellipse cx="40.77" cy="290.78" rx="11.25" ry="5.62" fill="url(#rg143)"/><ellipse cx="42.65" cy="303.34" rx="17.50" ry="10.00" fill="url(#rg112)"/><ellipse cx="30.90" cy="303.97" rx="8.75" ry="8.75" fill="url(#rg92)"/><ellipse cx="52.99" cy="303.97" rx="8.75" ry="9.38" fill="url(#rg89)"/><ellipse cx="42.65" cy="314.64" rx="8.75" ry="3.12" fill="url(#rg140)"/></g></g><line x1="21.50" y1="302.50" x2="68.50" y2="302.50" stroke="#f2f2f2" stroke-width="1.5"/><line x1="50.00" y1="295.90" x2="50.00" y2="309.10" stroke="#f2f2f2" stroke-width="1.5"/><g clip-path="url(#hc1_2)"><g filter="url(#cmap)"><rect x="74.22" y="280.50" width="55.00" height="39.40" fill="#808080"/><path d="M90.72,284.50 L112.72,284.50 C118.97,284.50 125.22,291.00 125.22,297.50 L125.22,308.90 C125.22,311.84 118.26,315.90 113.22,315.90 L90.22,315.90 C85.18,315.90 78.22,311.84 78.22,308.90 L78.22,297.50 C78.22,291.00 84.47,284.50 90.72,284.50 Z" fill="none" stroke="#8a8a8a" stroke-width="3.5"/><ellipse cx="94.67" cy="303.34" rx="17.50" ry="15.00" fill="url(#rg108)"/><ellipse cx="87.15" cy="303.97" rx="8.75" ry="10.00" fill="url(#rg67)"/><ellipse cx="109.24" cy="307.42" rx="4.38" ry="7.50" fill="url(#rg80)" transform="rotate(-15 109.24 307.42)"/><ellipse cx="98.43" cy="297.37" rx="4.75" ry="16.88" fill="url(#rg164)" transform="rotate(-16 98.43 297.37)"/><ellipse cx="115.35" cy="295.49" rx="4.75" ry="10.00" fill="url(#rg164)" transform="rotate(-20 115.35 295.49)"/></g></g><line x1="78.22" y1="306.00" x2="125.22" y2="306.00" stroke="#f2f2f2" stroke-width="1.5"/><line x1="92.00" y1="299.40" x2="92.00" y2="312.60" stroke="#f2f2f2" stroke-width="1.5"/><g clip-path="url(#hc2_2)"><g filter="url(#cmap)"><rect x="130.94" y="280.50" width="55.00" height="39.40" fill="#808080"/><path d="M147.44,284.50 L169.44,284.50 C175.69,284.50 181.94,291.00 181.94,297.50 L181.94,308.90 C181.94,311.84 174.98,315.90 169.94,315.90 L146.94,315.90 C141.90,315.90 134.94,311.84 134.94,308.90 L134.94,297.50 C134.94,291.00 141.19,284.50 147.44,284.50 Z" fill="none" stroke="#8a8a8a" stroke-width="3.5"/><ellipse cx="144.34" cy="300.20" rx="7.50" ry="13.75" fill="url(#rg112)"/><ellipse cx="147.63" cy="304.60" rx="6.88" ry="8.75" fill="url(#rg83)"/><ellipse cx="165.96" cy="307.74" rx="3.75" ry="7.50" fill="url(#rg96)" transform="rotate(-20 165.96 307.74)"/><ellipse cx="157.50" cy="298.94" rx="5.00" ry="18.12" fill="url(#rg180)" transform="rotate(-25 157.50 298.94)"/><ellipse cx="172.54" cy="296.12" rx="4.75" ry="11.25" fill="url(#rg176)" transform="rotate(-25 172.54 296.12)"/></g></g><line x1="134.94" y1="305.30" x2="181.94" y2="305.30" stroke="#f2f2f2" stroke-width="1.5"/><line x1="148.70" y1="298.70" x2="148.70" y2="311.90" stroke="#f2f2f2" stroke-width="1.5"/><g clip-path="url(#hc3_2)"><g filter="url(#cmap)"><rect x="187.66" y="280.50" width="55.00" height="39.40" fill="#808080"/><path d="M204.16,284.50 L226.16,284.50 C232.41,284.50 238.66,291.00 238.66,297.50 L238.66,308.90 C238.66,311.84 231.70,315.90 226.66,315.90 L203.66,315.90 C198.62,315.90 191.66,311.84 191.66,308.90 L191.66,297.50 C191.66,291.00 197.91,284.50 204.16,284.50 Z" fill="none" stroke="#8a8a8a" stroke-width="3.5"/><ellipse cx="201.06" cy="300.20" rx="7.50" ry="13.75" fill="url(#rg112)"/><ellipse cx="204.35" cy="304.60" rx="6.88" ry="8.75" fill="url(#rg83)"/><ellipse cx="222.68" cy="307.74" rx="3.75" ry="7.50" fill="url(#rg96)" transform="rotate(-20 222.68 307.74)"/><ellipse cx="214.22" cy="298.94" rx="5.00" ry="18.12" fill="url(#rg180)" transform="rotate(-25 214.22 298.94)"/><ellipse cx="229.26" cy="296.12" rx="4.75" ry="11.25" fill="url(#rg176)" transform="rotate(-25 229.26 296.12)"/></g></g><line x1="191.66" y1="305.30" x2="238.66" y2="305.30" stroke="#f2f2f2" stroke-width="1.5"/><line x1="205.30" y1="298.70" x2="205.30" y2="311.90" stroke="#f2f2f2" stroke-width="1.5"/><g clip-path="url(#hc4_2)"><g filter="url(#cmap)"><rect x="244.38" y="280.50" width="55.00" height="39.40" fill="#808080"/><path d="M260.88,284.50 L282.88,284.50 C289.13,284.50 295.38,291.00 295.38,297.50 L295.38,308.90 C295.38,311.84 288.42,315.90 283.38,315.90 L260.38,315.90 C255.34,315.90 248.38,311.84 248.38,308.90 L248.38,297.50 C248.38,291.00 254.63,284.50 260.88,284.50 Z" fill="none" stroke="#8a8a8a" stroke-width="3.5"/><ellipse cx="257.78" cy="300.20" rx="7.50" ry="13.75" fill="url(#rg112)"/><ellipse cx="261.07" cy="304.60" rx="6.88" ry="8.75" fill="url(#rg83)"/><ellipse cx="279.40" cy="307.74" rx="3.75" ry="7.50" fill="url(#rg96)" transform="rotate(-20 279.40 307.74)"/><ellipse cx="270.94" cy="298.94" rx="5.00" ry="18.12" fill="url(#rg180)" transform="rotate(-25 270.94 298.94)"/><ellipse cx="285.98" cy="296.12" rx="4.75" ry="11.25" fill="url(#rg176)" transform="rotate(-25 285.98 296.12)"/></g></g><line x1="248.38" y1="305.50" x2="295.38" y2="305.50" stroke="#f2f2f2" stroke-width="1.5"/><line x1="262.30" y1="298.90" x2="262.30" y2="312.10" stroke="#f2f2f2" stroke-width="1.5"/><g clip-path="url(#hc5_2)"><g filter="url(#cmap)"><rect x="301.10" y="280.50" width="55.00" height="39.40" fill="#808080"/><path d="M317.60,284.50 L339.60,284.50 C345.85,284.50 352.10,291.00 352.10,297.50 L352.10,308.90 C352.10,311.84 345.14,315.90 340.10,315.90 L317.10,315.90 C312.06,315.90 305.10,311.84 305.10,308.90 L305.10,297.50 C305.10,291.00 311.35,284.50 317.60,284.50 Z" fill="none" stroke="#8a8a8a" stroke-width="3.5"/><ellipse cx="314.50" cy="300.20" rx="7.50" ry="13.75" fill="url(#rg112)"/><ellipse cx="317.79" cy="304.60" rx="6.88" ry="8.75" fill="url(#rg83)"/><ellipse cx="336.12" cy="307.74" rx="3.75" ry="7.50" fill="url(#rg96)" transform="rotate(-20 336.12 307.74)"/><ellipse cx="327.66" cy="298.94" rx="5.00" ry="18.12" fill="url(#rg180)" transform="rotate(-25 327.66 298.94)"/><ellipse cx="342.70" cy="296.12" rx="4.75" ry="11.25" fill="url(#rg176)" transform="rotate(-25 342.70 296.12)"/></g></g><line x1="305.10" y1="305.50" x2="352.10" y2="305.50" stroke="#f2f2f2" stroke-width="1.5"/><line x1="318.30" y1="298.90" x2="318.30" y2="312.10" stroke="#f2f2f2" stroke-width="1.5"/><g clip-path="url(#hc6_2)"><g filter="url(#cmap)"><rect x="357.82" y="280.50" width="55.00" height="39.40" fill="#808080"/><path d="M374.32,284.50 L396.32,284.50 C402.57,284.50 408.82,291.00 408.82,297.50 L408.82,308.90 C408.82,311.84 401.86,315.90 396.82,315.90 L373.82,315.90 C368.78,315.90 361.82,311.84 361.82,308.90 L361.82,297.50 C361.82,291.00 368.07,284.50 374.32,284.50 Z" fill="none" stroke="#8a8a8a" stroke-width="3.5"/><ellipse cx="371.22" cy="300.20" rx="7.50" ry="13.75" fill="url(#rg112)"/><ellipse cx="374.51" cy="304.60" rx="6.88" ry="8.75" fill="url(#rg83)"/><ellipse cx="392.84" cy="307.74" rx="3.75" ry="7.50" fill="url(#rg96)" transform="rotate(-20 392.84 307.74)"/><ellipse cx="384.38" cy="298.94" rx="5.00" ry="18.12" fill="url(#rg180)" transform="rotate(-25 384.38 298.94)"/><ellipse cx="399.42" cy="296.12" rx="4.75" ry="11.25" fill="url(#rg176)" transform="rotate(-25 399.42 296.12)"/></g></g><line x1="361.82" y1="305.90" x2="408.82" y2="305.90" stroke="#f2f2f2" stroke-width="1.5"/><line x1="375.70" y1="299.30" x2="375.70" y2="312.50" stroke="#f2f2f2" stroke-width="1.5"/><g clip-path="url(#hc7_2)"><g filter="url(#cmap)"><rect x="414.54" y="280.50" width="55.00" height="39.40" fill="#808080"/><path d="M431.04,284.50 L453.04,284.50 C459.29,284.50 465.54,291.00 465.54,297.50 L465.54,308.90 C465.54,311.84 458.58,315.90 453.54,315.90 L430.54,315.90 C425.50,315.90 418.54,311.84 418.54,308.90 L418.54,297.50 C418.54,291.00 424.79,284.50 431.04,284.50 Z" fill="none" stroke="#8a8a8a" stroke-width="3.5"/><ellipse cx="430.29" cy="301.77" rx="11.25" ry="13.75" fill="url(#rg51)"/><ellipse cx="449.56" cy="307.11" rx="4.38" ry="8.75" fill="url(#rg64)" transform="rotate(-20 449.56 307.11)"/><ellipse cx="440.16" cy="298.94" rx="5.00" ry="17.50" fill="url(#rg195)" transform="rotate(-20 440.16 298.94)"/><ellipse cx="456.14" cy="296.12" rx="4.75" ry="10.62" fill="url(#rg183)" transform="rotate(-25 456.14 296.12)"/></g></g><line x1="418.54" y1="305.30" x2="465.54" y2="305.30" stroke="#f2f2f2" stroke-width="1.5"/><line x1="433.20" y1="298.70" x2="433.20" y2="311.90" stroke="#f2f2f2" stroke-width="1.5"/><g clip-path="url(#hc8_2)"><g filter="url(#cmap)"><rect x="471.26" y="280.50" width="55.00" height="39.40" fill="#808080"/><path d="M487.76,284.50 L509.76,284.50 C516.01,284.50 522.26,291.00 522.26,297.50 L522.26,308.90 C522.26,311.84 515.30,315.90 510.26,315.90 L487.26,315.90 C482.22,315.90 475.26,311.84 475.26,308.90 L475.26,297.50 C475.26,291.00 481.51,284.50 487.76,284.50 Z" fill="none" stroke="#8a8a8a" stroke-width="3.5"/><ellipse cx="484.66" cy="300.20" rx="7.50" ry="13.75" fill="url(#rg110)"/><ellipse cx="487.95" cy="304.60" rx="6.88" ry="8.75" fill="url(#rg78)"/><ellipse cx="506.28" cy="307.74" rx="3.75" ry="7.50" fill="url(#rg92)" transform="rotate(-20 506.28 307.74)"/><ellipse cx="497.82" cy="298.94" rx="5.00" ry="18.12" fill="url(#rg185)" transform="rotate(-25 497.82 298.94)"/><ellipse cx="512.86" cy="296.12" rx="4.75" ry="11.25" fill="url(#rg181)" transform="rotate(-25 512.86 296.12)"/></g></g><line x1="475.26" y1="305.30" x2="522.26" y2="305.30" stroke="#f2f2f2" stroke-width="1.5"/><line x1="488.70" y1="298.70" x2="488.70" y2="311.90" stroke="#f2f2f2" stroke-width="1.5"/><g clip-path="url(#hc9_2)"><g filter="url(#cmap)"><rect x="527.98" y="280.50" width="55.00" height="39.40" fill="#808080"/><path d="M544.48,284.50 L566.48,284.50 C572.73,284.50 578.98,291.00 578.98,297.50 L578.98,308.90 C578.98,311.84 572.02,315.90 566.98,315.90 L543.98,315.90 C538.94,315.90 531.98,311.84 531.98,308.90 L531.98,297.50 C531.98,291.00 538.23,284.50 544.48,284.50 Z" fill="none" stroke="#8a8a8a" stroke-width="3.5"/><ellipse cx="541.38" cy="300.20" rx="7.50" ry="13.75" fill="url(#rg111)"/><ellipse cx="544.67" cy="304.60" rx="6.88" ry="8.75" fill="url(#rg81)"/><ellipse cx="563.00" cy="307.74" rx="3.75" ry="7.50" fill="url(#rg94)" transform="rotate(-20 563.00 307.74)"/><ellipse cx="554.54" cy="298.94" rx="5.00" ry="18.12" fill="url(#rg182)" transform="rotate(-25 554.54 298.94)"/><ellipse cx="569.58" cy="296.12" rx="4.75" ry="11.25" fill="url(#rg179)" transform="rotate(-25 569.58 296.12)"/></g></g><line x1="531.98" y1="305.30" x2="578.98" y2="305.30" stroke="#f2f2f2" stroke-width="1.5"/><line x1="545.30" y1="298.70" x2="545.30" y2="311.90" stroke="#f2f2f2" stroke-width="1.5"/><g clip-path="url(#hc10_2)"><g filter="url(#cmap)"><rect x="584.70" y="280.50" width="55.00" height="39.40" fill="#808080"/><path d="M601.20,284.50 L623.20,284.50 C629.45,284.50 635.70,291.00 635.70,297.50 L635.70,308.90 C635.70,311.84 628.74,315.90 623.70,315.90 L600.70,315.90 C595.66,315.90 588.70,311.84 588.70,308.90 L588.70,297.50 C588.70,291.00 594.95,284.50 601.20,284.50 Z" fill="none" stroke="#8a8a8a" stroke-width="3.5"/><ellipse cx="598.10" cy="300.20" rx="7.50" ry="13.75" fill="url(#rg112)"/><ellipse cx="601.39" cy="304.60" rx="6.88" ry="8.75" fill="url(#rg83)"/><ellipse cx="619.72" cy="307.74" rx="3.75" ry="7.50" fill="url(#rg96)" transform="rotate(-20 619.72 307.74)"/><ellipse cx="611.26" cy="298.94" rx="5.00" ry="18.12" fill="url(#rg180)" transform="rotate(-25 611.26 298.94)"/><ellipse cx="626.30" cy="296.12" rx="4.75" ry="11.25" fill="url(#rg176)" transform="rotate(-25 626.30 296.12)"/></g></g><line x1="588.70" y1="305.40" x2="635.70" y2="305.40" stroke="#f2f2f2" stroke-width="1.5"/><line x1="602.50" y1="298.80" x2="602.50" y2="312.00" stroke="#f2f2f2" stroke-width="1.5"/><g clip-path="url(#hc11_2)"><g filter="url(#cmap)"><rect x="641.42" y="280.50" width="55.00" height="39.40" fill="#808080"/><path d="M657.92,284.50 L679.92,284.50 C686.17,284.50 692.42,291.00 692.42,297.50 L692.42,308.90 C692.42,311.84 685.46,315.90 680.42,315.90 L657.42,315.90 C652.38,315.90 645.42,311.84 645.42,308.90 L645.42,297.50 C645.42,291.00 651.67,284.50 657.92,284.50 Z" fill="none" stroke="#8a8a8a" stroke-width="3.5"/><ellipse cx="654.82" cy="300.20" rx="7.50" ry="13.75" fill="url(#rg112)"/><ellipse cx="658.11" cy="304.60" rx="6.88" ry="8.75" fill="url(#rg83)"/><ellipse cx="676.44" cy="307.74" rx="3.75" ry="7.50" fill="url(#rg96)" transform="rotate(-20 676.44 307.74)"/><ellipse cx="667.98" cy="298.94" rx="5.00" ry="18.12" fill="url(#rg180)" transform="rotate(-25 667.98 298.94)"/><ellipse cx="683.02" cy="296.12" rx="4.75" ry="11.25" fill="url(#rg176)" transform="rotate(-25 683.02 296.12)"/></g></g><line x1="645.42" y1="305.40" x2="692.42" y2="305.40" stroke="#f2f2f2" stroke-width="1.5"/><line x1="660.60" y1="298.80" x2="660.60" y2="312.00" stroke="#f2f2f2" stroke-width="1.5"/><g clip-path="url(#hc12_2)"><g filter="url(#cmap)"><rect x="698.14" y="280.50" width="55.00" height="39.40" fill="#808080"/><path d="M714.64,284.50 L736.64,284.50 C742.89,284.50 749.14,291.00 749.14,297.50 L749.14,308.90 C749.14,311.84 742.18,315.90 737.14,315.90 L714.14,315.90 C709.10,315.90 702.14,311.84 702.14,308.90 L702.14,297.50 C702.14,291.00 708.39,284.50 714.64,284.50 Z" fill="none" stroke="#8a8a8a" stroke-width="3.5"/><ellipse cx="713.42" cy="304.91" rx="10.62" ry="10.62" fill="url(#rg57)"/><ellipse cx="735.51" cy="302.71" rx="5.00" ry="11.25" fill="url(#rg83)" transform="rotate(-15 735.51 302.71)"/><ellipse cx="724.23" cy="299.26" rx="5.00" ry="17.50" fill="url(#rg170)" transform="rotate(-17 724.23 299.26)"/><ellipse cx="742.09" cy="294.55" rx="3.75" ry="7.50" fill="url(#rg146)" transform="rotate(-20 742.09 294.55)"/></g></g><line x1="702.14" y1="303.20" x2="749.14" y2="303.20" stroke="#f2f2f2" stroke-width="1.5"/><line x1="716.80" y1="296.60" x2="716.80" y2="309.80" stroke="#f2f2f2" stroke-width="1.5"/><line x1="73.3" y1="210.5" x2="73.3" y2="316.5" stroke="#1a1a1a" stroke-width="1.3"/><line x1="130.0" y1="210.5" x2="130.0" y2="316.5" stroke="#1a1a1a" stroke-width="1.3"/><line x1="413.5" y1="210.5" x2="413.5" y2="316.5" stroke="#1a1a1a" stroke-width="1.3"/><line x1="696.8" y1="210.5" x2="696.8" y2="316.5" stroke="#1a1a1a" stroke-width="1.3"/><text transform="translate(11.5,228.0) rotate(-90)" font-family="Liberation Serif" font-size="14.5" fill="#111" text-anchor="middle">T</text><text transform="translate(11.5,264.0) rotate(-90)" font-family="Liberation Serif" font-size="14.5" fill="#111" text-anchor="middle">M</text><text transform="translate(11.5,302.5) rotate(-90)" font-family="Liberation Serif" font-size="14.5" fill="#111" text-anchor="middle">B</text><rect x="756.6" y="211.6" width="9.3" height="104.4" fill="url(#cbar)" stroke="#aaa" stroke-width="0.6"/><line x1="765.9" y1="214.50" x2="764.5" y2="214.50" stroke="#888" stroke-width="0.5"/><text x="767.6" y="216.30" font-family="Liberation Sans" font-size="5.2" fill="#444">250</text><line x1="765.9" y1="234.87" x2="764.5" y2="234.87" stroke="#888" stroke-width="0.5"/><text x="767.6" y="236.67" font-family="Liberation Sans" font-size="5.2" fill="#444">200</text><line x1="765.9" y1="255.24" x2="764.5" y2="255.24" stroke="#888" stroke-width="0.5"/><text x="767.6" y="257.04" font-family="Liberation Sans" font-size="5.2" fill="#444">150</text><line x1="765.9" y1="275.61" x2="764.5" y2="275.61" stroke="#888" stroke-width="0.5"/><text x="767.6" y="277.41" font-family="Liberation Sans" font-size="5.2" fill="#444">100</text><line x1="765.9" y1="295.98" x2="764.5" y2="295.98" stroke="#888" stroke-width="0.5"/><text x="767.6" y="297.78" font-family="Liberation Sans" font-size="5.2" fill="#444">50</text><text transform="translate(786.2,229.6) rotate(90)" font-family="Liberation Serif" font-size="14.5" fill="#111"><tspan font-size="13">Δ</tspan><tspan font-size="16" dx="-0.3">Z</tspan><tspan font-size="10.5" dy="-6" dx="0.6">−1</tspan><tspan dy="6" dx="3.5"> (RU)</tspan></text></svg></body></html>
